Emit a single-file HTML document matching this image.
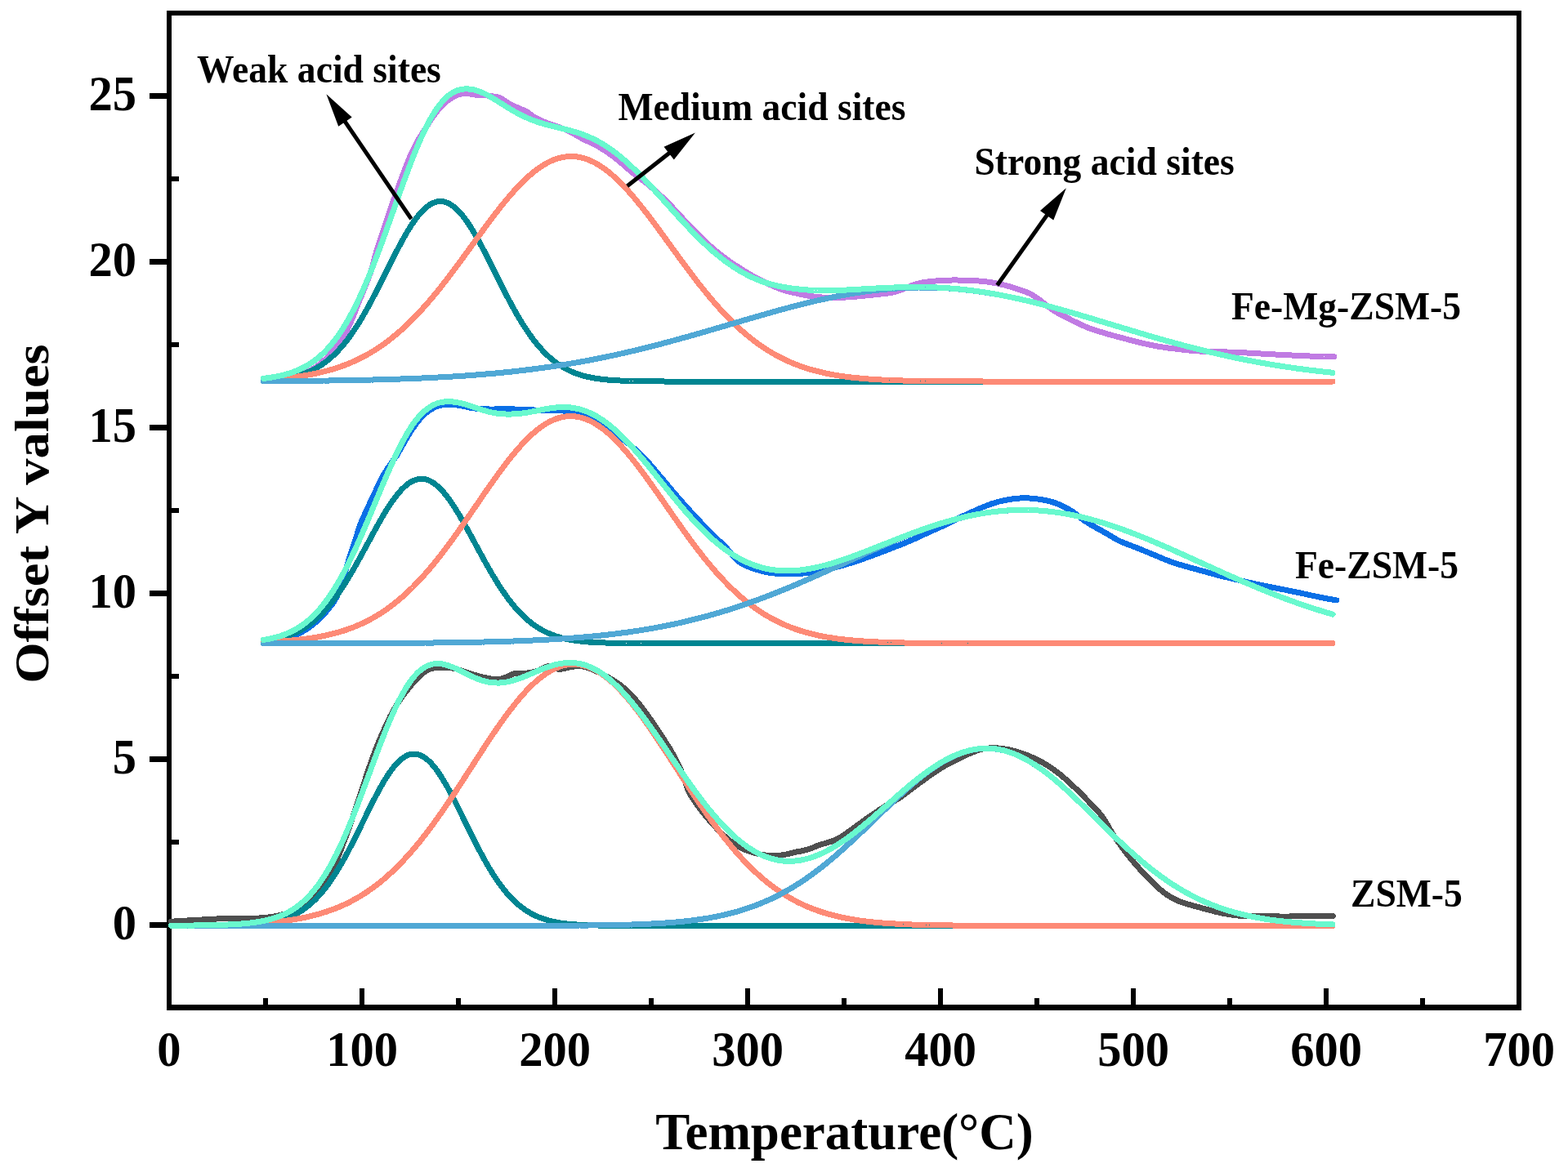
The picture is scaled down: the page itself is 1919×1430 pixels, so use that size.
<!DOCTYPE html><html><head><meta charset="utf-8"><title>TPD</title><style>html,body{margin:0;padding:0;background:#fff;overflow:hidden;}svg{display:block;}</style></head><body>
<svg width="1919" height="1430" viewBox="0 0 1919 1430">
<rect width="1919" height="1430" fill="#fff"/>
<g fill="#000">
<rect x="204" y="13" width="1658" height="6"/>
<rect x="204" y="1230" width="1658" height="7"/>
<rect x="204" y="13" width="6" height="1224"/>
<rect x="1856" y="13" width="6" height="1224"/>
<rect x="183" y="1129" width="21" height="7"/>
<rect x="183" y="926" width="21" height="7"/>
<rect x="183" y="723" width="21" height="7"/>
<rect x="183" y="520" width="21" height="7"/>
<rect x="183" y="317" width="21" height="7"/>
<rect x="183" y="114" width="21" height="7"/>
<rect x="210" y="1028" width="9" height="6"/>
<rect x="210" y="825" width="9" height="6"/>
<rect x="210" y="622" width="9" height="6"/>
<rect x="210" y="419" width="9" height="6"/>
<rect x="210" y="216" width="9" height="6"/>
<rect x="204" y="1210" width="6" height="20"/>
<rect x="440" y="1210" width="6" height="20"/>
<rect x="676" y="1210" width="6" height="20"/>
<rect x="912" y="1210" width="6" height="20"/>
<rect x="1148" y="1210" width="6" height="20"/>
<rect x="1384" y="1210" width="6" height="20"/>
<rect x="1620" y="1210" width="6" height="20"/>
<rect x="1856" y="1210" width="6" height="20"/>
<rect x="322" y="1222" width="6" height="8"/>
<rect x="558" y="1222" width="6" height="8"/>
<rect x="794" y="1222" width="6" height="8"/>
<rect x="1030" y="1222" width="6" height="8"/>
<rect x="1266" y="1222" width="6" height="8"/>
<rect x="1502" y="1222" width="6" height="8"/>
<rect x="1738" y="1222" width="6" height="8"/>
</g>
<g fill="none" stroke-width="7" stroke-linecap="round" stroke-linejoin="round" shape-rendering="crispEdges">
<path d="M209.5,1128.2 L211.5,1128.1 L213.5,1128 L215.5,1127.8 L217.5,1127.7 L219.5,1127.6 L221.5,1127.5 L223.5,1127.4 L225.5,1127.3 L227.5,1127.1 L229.4,1127 L231.4,1126.9 L233.4,1126.8 L235.4,1126.7 L237.4,1126.6 L239.4,1126.5 L241.4,1126.4 L243.4,1126.2 L245.4,1126.1 L247.4,1126 L249.4,1125.9 L251.4,1125.7 L253.4,1125.6 L255.4,1125.5 L257.3,1125.4 L259.3,1125.3 L261.3,1125.2 L263.3,1125.1 L265.3,1125 L267.3,1124.9 L269.3,1124.9 L271.2,1124.8 L273.2,1124.8 L275.2,1124.8 L277.2,1124.8 L279.2,1124.8 L281.2,1124.8 L283.1,1124.8 L285.1,1124.8 L287.1,1124.8 L289.1,1124.8 L291.1,1124.8 L293,1124.8 L295,1124.8 L297,1124.7 L299,1124.7 L300.9,1124.6 L302.9,1124.6 L304.9,1124.5 L306.9,1124.5 L308.8,1124.4 L310.8,1124.3 L312.8,1124.3 L314.8,1124.2 L316.8,1124 L318.7,1123.9 L320.7,1123.8 L322.7,1123.6 L324.7,1123.4 L326.7,1123.2 L328.8,1123 L330.8,1122.7 L332.8,1122.4 L334.9,1122.1 L336.9,1121.8 L339,1121.4 L341.1,1120.9 L343.2,1120.5 L345.3,1119.9 L347.4,1119.3 L349.5,1118.6 L351.6,1117.8 L353.8,1117 L355.9,1116.1 L358,1115.1 L360.2,1114 L362.4,1112.8 L364.5,1111.5 L366.7,1110.2 L368.9,1108.7 L371,1107.2 L373.2,1105.6 L375.4,1103.8 L377.6,1101.9 L379.8,1100 L381.9,1097.9 L384.1,1095.7 L386.3,1093.4 L388.5,1091 L390.7,1088.5 L392.8,1085.9 L395,1083.1 L397.2,1080.2 L399.3,1077.2 L401.4,1074 L403.5,1070.7 L405.5,1067.3 L407.4,1063.7 L409.2,1059.9 L411,1056 L412.7,1052 L414.4,1047.8 L416,1043.5 L417.7,1039.2 L419.3,1034.7 L421.1,1030.1 L422.8,1025.5 L424.5,1020.8 L426.3,1016 L428,1011.1 L429.8,1006.1 L431.5,1001 L433.3,995.9 L435,990.7 L436.8,985.4 L438.6,980.1 L440.3,974.8 L442.1,969.4 L443.9,963.9 L445.6,958.4 L447.4,952.9 L449.2,947.5 L451,942 L452.9,936.5 L454.8,931.1 L456.7,925.7 L458.7,920.3 L460.8,915.1 L462.9,909.9 L465,904.7 L467.2,899.7 L469.4,894.7 L471.6,889.9 L473.8,885.1 L476,880.4 L478.2,875.9 L480.6,871.6 L483,867.4 L485.4,863.4 L487.8,859.5 L490.2,855.8 L492.6,852.3 L495.1,849 L497.6,845.8 L500,842.9 L502.2,840.1 L504.4,837.4 L506.5,834.9 L508.6,832.6 L510.7,830.4 L512.7,828.5 L514.6,826.7 L516.5,825.1 L518.4,823.6 L520.2,822.4 L522,821.3 L523.7,820.3 L525.5,819.5 L527.2,818.9 L528.8,818.4 L530.5,818 L532.2,817.7 L533.8,817.6 L535.5,817.4 L537.2,817.3 L539,817.2 L540.8,817.1 L542.7,817 L544.7,817.1 L546.7,817.1 L548.8,817.3 L550.9,817.6 L553,817.9 L555.2,818.3 L557.3,818.8 L559.5,819.4 L561.6,820.1 L563.7,820.8 L565.9,821.5 L568,822.2 L570.2,822.9 L572.3,823.6 L574.5,824.3 L576.6,825 L578.7,825.6 L580.7,826.3 L582.8,826.9 L584.8,827.4 L586.8,828 L588.8,828.5 L590.8,829 L592.7,829.4 L594.6,829.8 L596.5,830.3 L598.3,830.6 L600.2,830.9 L602,831.2 L603.9,831.4 L605.7,831.5 L607.6,831.6 L609.4,831.5 L611.3,831.4 L613.1,831.1 L614.9,830.7 L616.7,830.1 L618.5,829.4 L620.3,828.6 L622,827.8 L623.8,827 L625.5,826.2 L627.3,825.5 L629.2,824.8 L631.1,824.3 L633.1,824.1 L635.3,824.1 L637.5,824.2 L639.8,824.2 L642.1,824.3 L644.4,824.1 L646.6,823.7 L648.8,823.4 L651,823 L653.2,822.6 L655.3,822.1 L657.4,821.5 L659.5,820.8 L661.5,819.9 L663.4,818.9 L665.3,817.9 L667.2,816.9 L669.2,816 L671.3,815.5 L673.5,815.7 L675.9,816.3 L678.3,817.2 L680.6,818.2 L682.8,819 L684.9,819.4 L686.7,819.3 L688.5,818.9 L690.3,818.5 L692.1,818 L693.9,817.6 L695.7,817.2 L697.5,816.8 L699.3,816.5 L701.2,816.2 L703.1,816 L705,815.8 L706.9,815.7 L708.9,815.6 L710.9,815.7 L712.9,815.9 L714.8,816.3 L716.8,816.7 L718.8,817.3 L720.8,818 L722.8,818.7 L724.8,819.5 L726.8,820.4 L728.8,821.3 L730.9,822.3 L733,823.3 L735.2,824.3 L737.3,825.4 L739.5,826.6 L741.8,827.7 L744,829 L746.3,830.3 L748.6,831.7 L750.9,833.1 L753.3,834.7 L755.6,836.3 L757.9,837.9 L760.2,839.7 L762.5,841.5 L764.8,843.4 L767.1,845.4 L769.3,847.5 L771.5,849.6 L773.7,851.9 L775.8,854.2 L777.9,856.6 L779.9,859.1 L782,861.6 L784,864.2 L786,866.8 L788,869.5 L790,872.2 L792,874.9 L793.9,877.7 L795.9,880.4 L797.9,883.3 L799.8,886.1 L801.8,889 L803.8,891.8 L805.7,894.8 L807.6,897.7 L809.6,900.6 L811.5,903.6 L813.4,906.6 L815.3,909.5 L817.2,912.5 L819.1,915.6 L821,918.6 L822.7,921.7 L824.4,924.9 L826.1,928 L827.7,931.2 L829.3,934.4 L830.8,937.7 L832.4,940.9 L833.9,944.1 L835.4,947.4 L836.7,950.7 L837.8,954.2 L838.8,957.8 L839.8,961.3 L841,964.8 L842.3,968.1 L843.8,971.2 L845.7,974.1 L847.5,976.9 L849.4,979.8 L851.3,982.5 L853.2,985.3 L855.2,988 L857.1,990.7 L859.1,993.3 L861.1,995.8 L863.1,998.4 L865.2,1000.8 L867.2,1003.2 L869.3,1005.6 L871.3,1008 L873.4,1010.2 L875.5,1012.5 L877.6,1014.7 L879.7,1016.8 L881.8,1018.9 L883.9,1021 L886,1023 L888.2,1024.9 L890.3,1026.8 L892.5,1028.6 L894.6,1030.4 L896.8,1032.1 L899,1033.7 L901.3,1035.2 L903.6,1036.5 L906,1037.8 L908.4,1038.9 L910.8,1039.9 L913.2,1040.9 L915.5,1041.7 L917.9,1042.5 L920.3,1043.3 L922.6,1044 L924.9,1044.6 L927.2,1045.2 L929.4,1045.8 L931.6,1046.2 L933.9,1046.6 L936.1,1046.9 L938.2,1047.1 L940.4,1047.3 L942.5,1047.4 L944.6,1047.5 L946.6,1047.5 L948.6,1047.4 L950.6,1047.4 L952.6,1047.3 L954.5,1047.2 L956.4,1047 L958.3,1046.7 L960.1,1046.4 L962,1046 L963.8,1045.6 L965.5,1045.2 L967.3,1044.7 L969,1044.3 L970.8,1043.9 L972.5,1043.5 L974.2,1043.1 L975.9,1042.8 L977.7,1042.5 L979.4,1042.2 L981.2,1041.9 L983,1041.5 L984.7,1041 L986.5,1040.5 L988.3,1040 L990.1,1039.4 L991.9,1038.8 L993.7,1038.2 L995.5,1037.5 L997.4,1036.8 L999.2,1036 L1001.1,1035.2 L1003,1034.5 L1005,1033.9 L1007,1033.3 L1009.1,1032.7 L1011.2,1032.1 L1013.4,1031.5 L1015.5,1030.8 L1017.7,1030.1 L1019.9,1029.3 L1022,1028.5 L1024.2,1027.5 L1026.2,1026.4 L1028.3,1025.2 L1030.3,1023.9 L1032.3,1022.6 L1034.3,1021.3 L1036.3,1019.9 L1038.3,1018.5 L1040.4,1017.1 L1042.4,1015.6 L1044.4,1014.2 L1046.4,1012.7 L1048.4,1011.1 L1050.5,1009.6 L1052.5,1008.1 L1054.6,1006.6 L1056.7,1005.1 L1058.8,1003.5 L1061,1002 L1063.1,1000.5 L1065.3,999 L1067.5,997.5 L1069.7,996 L1071.9,994.5 L1074.1,993 L1076.3,991.5 L1078.6,990 L1080.8,988.5 L1083.1,987.1 L1085.4,985.6 L1087.8,984.3 L1090.2,983 L1092.6,981.7 L1095,980.4 L1097.4,979.1 L1099.7,977.7 L1101.9,976.2 L1104.1,974.6 L1106.2,973 L1108.3,971.5 L1110.4,969.9 L1112.5,968.3 L1114.6,966.8 L1116.7,965.2 L1118.7,963.7 L1120.8,962.1 L1122.8,960.6 L1124.8,959.1 L1126.9,957.6 L1128.9,956.1 L1130.9,954.6 L1132.9,953.1 L1134.8,951.7 L1136.8,950.3 L1138.8,948.9 L1140.8,947.5 L1142.7,946.2 L1144.7,944.9 L1146.7,943.6 L1148.6,942.3 L1150.6,941.1 L1152.5,939.9 L1154.5,938.8 L1156.4,937.6 L1158.4,936.6 L1160.3,935.5 L1162.2,934.5 L1164.1,933.5 L1166.1,932.6 L1168,931.6 L1169.9,930.7 L1171.8,929.8 L1173.6,928.9 L1175.5,928 L1177.3,927.1 L1179.1,926.2 L1180.9,925.3 L1182.8,924.4 L1184.6,923.5 L1186.4,922.7 L1188.3,921.9 L1190.1,921.1 L1192,920.4 L1193.9,919.6 L1195.8,919 L1197.7,918.4 L1199.6,917.8 L1201.6,917.3 L1203.5,916.9 L1205.5,916.6 L1207.5,916.3 L1209.5,916.1 L1211.5,915.9 L1213.5,915.8 L1215.6,915.8 L1217.6,915.8 L1219.7,915.8 L1221.7,916 L1223.8,916.1 L1225.9,916.4 L1228,916.6 L1230.1,917 L1232.2,917.3 L1234.3,917.8 L1236.4,918.2 L1238.5,918.7 L1240.6,919.3 L1242.8,919.9 L1244.9,920.5 L1247.1,921.1 L1249.3,921.8 L1251.4,922.6 L1253.6,923.4 L1255.8,924.2 L1258,925 L1260.3,926 L1262.5,926.9 L1264.7,927.9 L1266.9,928.9 L1269.1,930 L1271.3,931.1 L1273.5,932.3 L1275.8,933.5 L1278,934.8 L1280.2,936.1 L1282.4,937.5 L1284.5,938.9 L1286.7,940.3 L1288.9,941.8 L1291,943.3 L1293.1,944.9 L1295.2,946.5 L1297.3,948.2 L1299.4,949.9 L1301.4,951.6 L1303.5,953.4 L1305.5,955.2 L1307.5,957.1 L1309.6,958.9 L1311.6,960.8 L1313.6,962.7 L1315.6,964.6 L1317.6,966.5 L1319.6,968.4 L1321.6,970.4 L1323.5,972.4 L1325.5,974.4 L1327.5,976.4 L1329.4,978.4 L1331.4,980.4 L1333.3,982.4 L1335.3,984.4 L1337.2,986.5 L1339.2,988.5 L1341.1,990.6 L1343,992.6 L1344.9,994.7 L1346.8,996.9 L1348.5,999.1 L1350.1,1001.4 L1351.7,1003.8 L1353.2,1006.3 L1354.7,1008.8 L1356.2,1011.3 L1357.6,1013.8 L1359.1,1016.3 L1360.5,1018.8 L1362,1021.3 L1363.5,1023.7 L1365.1,1026.1 L1366.7,1028.4 L1368.4,1030.7 L1370,1033 L1371.7,1035.2 L1373.3,1037.5 L1375,1039.7 L1376.6,1041.9 L1378.3,1044.1 L1380,1046.3 L1381.7,1048.5 L1383.4,1050.6 L1385.2,1052.7 L1386.9,1054.8 L1388.6,1056.9 L1390.4,1059 L1392.2,1061 L1394,1063 L1395.8,1065 L1397.6,1066.9 L1399.4,1068.8 L1401.2,1070.8 L1403,1072.7 L1404.8,1074.6 L1406.7,1076.5 L1408.5,1078.3 L1410.3,1080.2 L1412.2,1082 L1414.1,1083.8 L1415.9,1085.5 L1417.8,1087.2 L1419.8,1088.9 L1421.7,1090.5 L1423.7,1092.1 L1425.7,1093.6 L1427.7,1095.1 L1429.8,1096.5 L1431.9,1097.8 L1434,1099.1 L1436.2,1100.2 L1438.4,1101.3 L1440.6,1102.3 L1442.8,1103.3 L1445.1,1104.1 L1447.4,1105 L1449.7,1105.7 L1452,1106.5 L1454.2,1107.2 L1456.5,1107.8 L1458.8,1108.5 L1461.1,1109.1 L1463.4,1109.7 L1465.6,1110.3 L1467.8,1110.9 L1470.1,1111.5 L1472.2,1112.1 L1474.4,1112.7 L1476.6,1113.3 L1478.8,1113.9 L1480.9,1114.5 L1483.1,1115 L1485.2,1115.6 L1487.3,1116.1 L1489.5,1116.6 L1491.6,1117.1 L1493.7,1117.6 L1495.8,1118 L1497.9,1118.5 L1500.1,1118.9 L1502.2,1119.2 L1504.3,1119.6 L1506.4,1119.9 L1508.5,1120.2 L1510.6,1120.5 L1512.7,1120.8 L1514.8,1121 L1516.9,1121.2 L1519,1121.3 L1521.1,1121.4 L1523.2,1121.4 L1525.4,1121.4 L1527.5,1121.3 L1529.6,1121.3 L1531.7,1121.2 L1533.8,1121.1 L1535.8,1121 L1537.9,1121 L1540,1121 L1542,1121 L1544.1,1121 L1546.1,1121.1 L1548.1,1121.2 L1550.1,1121.3 L1552.1,1121.4 L1554.1,1121.5 L1556.1,1121.6 L1558.1,1121.7 L1560.1,1121.7 L1562.2,1121.8 L1564.2,1121.9 L1566.1,1122 L1568.1,1122 L1570.1,1122 L1572.1,1122 L1574.1,1122 L1576.1,1122 L1578.1,1122 L1580.1,1121.9 L1582.1,1121.9 L1584.1,1121.9 L1586.1,1121.8 L1588.1,1121.8 L1590.1,1121.7 L1592.1,1121.7 L1594.1,1121.7 L1596.1,1121.7 L1598.1,1121.7 L1600.1,1121.7 L1602,1121.7 L1604,1121.7 L1606,1121.7 L1608,1121.7 L1610,1121.7 L1612,1121.7 L1614,1121.7 L1615.9,1121.7 L1617.9,1121.7 L1619.9,1121.7 L1621.9,1121.7 L1623.9,1121.7 L1625.9,1121.7 L1627.9,1121.7 L1629.8,1121.6 L1631.3,1121.6" stroke="#4F4F4F"/>
<path d="M209.5,1133.3 L211.5,1133.3 L213.5,1133.3 L215.5,1133.3 L217.5,1133.3 L219.5,1133.3 L221.5,1133.3 L223.5,1133.3 L225.5,1133.3 L227.5,1133.3 L229.5,1133.3 L231.5,1133.3 L233.5,1133.3 L235.5,1133.3 L237.5,1133.3 L239.5,1133.3 L241.5,1133.3 L243.5,1133.3 L245.5,1133.3 L247.5,1133.3 L249.5,1133.3 L251.5,1133.3 L253.5,1133.2 L255.5,1133.2 L257.5,1133.2 L259.5,1133.2 L261.5,1133.2 L263.5,1133.2 L265.5,1133.2 L267.5,1133.2 L269.5,1133.2 L271.5,1133.1 L273.5,1133.1 L275.5,1133.1 L277.5,1133.1 L279.5,1133 L281.5,1133 L283.5,1133 L285.5,1132.9 L287.5,1132.9 L289.5,1132.8 L291.5,1132.8 L293.5,1132.7 L295.5,1132.6 L297.5,1132.6 L299.5,1132.5 L301.5,1132.4 L303.5,1132.3 L305.5,1132.2 L307.5,1132 L309.5,1131.9 L311.5,1131.7 L313.5,1131.6 L315.5,1131.4 L317.5,1131.2 L319.5,1131 L321.5,1130.8 L323.5,1130.5 L325.5,1130.2 L327.5,1129.9 L329.5,1129.6 L331.5,1129.3 L333.5,1128.9 L335.5,1128.5 L337.5,1128 L339.5,1127.6 L341.5,1127 L343.5,1126.5 L345.5,1125.9 L347.5,1125.3 L349.5,1124.6 L351.5,1123.9 L353.5,1123.1 L355.5,1122.2 L357.5,1121.3 L359.5,1120.4 L361.5,1119.4 L363.5,1118.3 L365.5,1117.2 L367.5,1116 L369.5,1114.7 L371.5,1113.3 L373.5,1111.9 L375.5,1110.4 L377.5,1108.8 L379.5,1107.1 L381.5,1105.4 L383.5,1103.5 L385.5,1101.6 L387.5,1099.6 L389.5,1097.5 L391.5,1095.2 L393.5,1092.9 L395.5,1090.5 L397.5,1088 L399.5,1085.4 L401.5,1082.8 L403.5,1080 L405.5,1077.1 L407.5,1074.1 L409.5,1071 L411.5,1067.9 L413.5,1064.6 L415.5,1061.3 L417.5,1057.8 L419.5,1054.3 L421.5,1050.8 L423.5,1047.1 L425.5,1043.4 L427.5,1039.6 L429.5,1035.7 L431.5,1031.8 L433.5,1027.8 L435.5,1023.8 L437.5,1019.8 L439.5,1015.8 L441.5,1011.7 L443.5,1007.6 L445.5,1003.5 L447.5,999.4 L449.5,995.3 L451.5,991.3 L453.5,987.3 L455.5,983.3 L457.5,979.3 L459.5,975.5 L461.5,971.7 L463.5,967.9 L465.5,964.3 L467.5,960.8 L469.5,957.3 L471.5,954 L473.5,950.8 L475.5,947.8 L477.5,944.9 L479.5,942.1 L481.5,939.5 L483.5,937.1 L485.5,934.8 L487.5,932.8 L489.5,930.9 L491.5,929.2 L493.5,927.7 L495.5,926.4 L497.5,925.3 L499.5,924.4 L501.5,923.7 L503.5,923.3 L505.5,923 L507.5,923 L509.5,923.2 L511.5,923.6 L513.5,924.2 L515.5,925.1 L517.5,926.1 L519.5,927.4 L521.5,928.9 L523.5,930.5 L525.5,932.4 L527.5,934.4 L529.5,936.6 L531.5,939 L533.5,941.6 L535.5,944.3 L537.5,947.2 L539.5,950.2 L541.5,953.4 L543.5,956.7 L545.5,960.1 L547.5,963.6 L549.5,967.2 L551.5,970.9 L553.5,974.7 L555.5,978.6 L557.5,982.5 L559.5,986.5 L561.5,990.5 L563.5,994.5 L565.5,998.6 L567.5,1002.7 L569.5,1006.8 L571.5,1010.9 L573.5,1014.9 L575.5,1019 L577.5,1023 L579.5,1027.1 L581.5,1031 L583.5,1034.9 L585.5,1038.8 L587.5,1042.6 L589.5,1046.3 L591.5,1050 L593.5,1053.6 L595.5,1057.1 L597.5,1060.6 L599.5,1064 L601.5,1067.2 L603.5,1070.4 L605.5,1073.5 L607.5,1076.5 L609.5,1079.4 L611.5,1082.2 L613.5,1084.9 L615.5,1087.5 L617.5,1090 L619.5,1092.5 L621.5,1094.8 L623.5,1097 L625.5,1099.2 L627.5,1101.2 L629.5,1103.2 L631.5,1105 L633.5,1106.8 L635.5,1108.5 L637.5,1110.1 L639.5,1111.6 L641.5,1113.1 L643.5,1114.4 L645.5,1115.7 L647.5,1116.9 L649.5,1118.1 L651.5,1119.2 L653.5,1120.2 L655.5,1121.2 L657.5,1122.1 L659.5,1122.9 L661.5,1123.7 L663.5,1124.4 L665.5,1125.1 L667.5,1125.8 L669.5,1126.4 L671.5,1126.9 L673.5,1127.5 L675.5,1127.9 L677.5,1128.4 L679.5,1128.8 L681.5,1129.2 L683.5,1129.6 L685.5,1129.9 L687.5,1130.2 L689.5,1130.5 L691.5,1130.7 L693.5,1131 L695.5,1131.2 L697.5,1131.4 L699.5,1131.5 L701.5,1131.7 L703.5,1131.9 L705.5,1132 L707.5,1132.1 L709.5,1132.2 L711.5,1132.4 L713.5,1132.4 L715.5,1132.5 L717.5,1132.6 L719.5,1132.7 L721.5,1132.7 L723.5,1132.8 L725.5,1132.9 L727.5,1132.9 L729.5,1132.9 L731.5,1133 L733.5,1133 L735.5,1133.1 L737.5,1133.1 L739.5,1133.1 L741.5,1133.1 L743.5,1133.1 L745.5,1133.2 L747.5,1133.2 L749.5,1133.2 L751.5,1133.2 L753.5,1133.2 L755.5,1133.2 L757.5,1133.2 L759.5,1133.2 L761.5,1133.3 L763.5,1133.3 L765.5,1133.3 L767.5,1133.3 L769.5,1133.3 L771.5,1133.3 L773.5,1133.3 L775.5,1133.3 L777.5,1133.3 L779.5,1133.3 L781.5,1133.3 L783.5,1133.3 L785.5,1133.3 L787.5,1133.3 L789.5,1133.3 L791.5,1133.3 L793.5,1133.3 L795.5,1133.3 L797.5,1133.3 L799.5,1133.3 L801.5,1133.3 L803.5,1133.3 L805.5,1133.3 L807.5,1133.3 L809.5,1133.3 L811.5,1133.3 L813.5,1133.3 L815.5,1133.3 L817.5,1133.3 L819.5,1133.3 L821.5,1133.3 L823.5,1133.3 L825.5,1133.3 L827.5,1133.3 L829.5,1133.3 L831.5,1133.3 L833.5,1133.3 L835.5,1133.3 L837.5,1133.3 L839.5,1133.3 L841.5,1133.3 L843.5,1133.3 L845.5,1133.3 L847.5,1133.3 L849.5,1133.3 L851.5,1133.3 L853.5,1133.3 L855.5,1133.3 L857.5,1133.3 L859.5,1133.3 L861.5,1133.3 L863.5,1133.3 L865.5,1133.3 L867.5,1133.3 L869.5,1133.3 L871.5,1133.3 L873.5,1133.3 L875.5,1133.3 L877.5,1133.3 L879.5,1133.3 L881.5,1133.3 L883.5,1133.3 L885.5,1133.3 L887.5,1133.3 L889.5,1133.3 L891.5,1133.3 L893.5,1133.3 L895.5,1133.3 L897.5,1133.3 L899.5,1133.3 L901.5,1133.3 L903.5,1133.3 L905.5,1133.3 L907.5,1133.3 L909.5,1133.3 L911.5,1133.3 L913.5,1133.3 L915.5,1133.3 L917.5,1133.3 L919.5,1133.3 L921.5,1133.3 L923.5,1133.3 L925.5,1133.3 L927.5,1133.3 L929.5,1133.3 L931.5,1133.3 L933.5,1133.3 L935.5,1133.3 L937.5,1133.3 L939.5,1133.3 L941.5,1133.3 L943.5,1133.3 L945.5,1133.3 L947.5,1133.3 L949.5,1133.3 L951.5,1133.3 L953.5,1133.3 L955.5,1133.3 L957.5,1133.3 L959.5,1133.3 L961.5,1133.3 L963.5,1133.3 L965.5,1133.3 L967.5,1133.3 L969.5,1133.3 L971.5,1133.3 L973.5,1133.3 L975.5,1133.3 L977.5,1133.3 L979.5,1133.3 L981.5,1133.3 L983.5,1133.3 L985.5,1133.3 L987.5,1133.3 L989.5,1133.3 L991.5,1133.3 L993.5,1133.3 L995.5,1133.3 L997.5,1133.3 L999.5,1133.3 L1001.5,1133.3 L1003.5,1133.3 L1005.5,1133.3 L1007.5,1133.3 L1009.5,1133.3 L1011.5,1133.3 L1013.5,1133.3 L1015.5,1133.3 L1017.5,1133.3 L1019.5,1133.3 L1021.5,1133.3 L1023.5,1133.3 L1025.5,1133.3 L1027.5,1133.3 L1029.5,1133.3 L1031.5,1133.3 L1033.5,1133.3 L1035.5,1133.3 L1037.5,1133.3 L1039.5,1133.3 L1041.5,1133.3 L1043.5,1133.3 L1045.5,1133.3 L1047.5,1133.3 L1049.5,1133.3 L1051.5,1133.3 L1053.5,1133.3 L1055.5,1133.3 L1057.5,1133.3 L1059.5,1133.3 L1061.5,1133.3 L1063.5,1133.3 L1065.5,1133.3 L1067.5,1133.3 L1069.5,1133.3 L1071.5,1133.3 L1073.5,1133.3 L1075.5,1133.3 L1077.5,1133.3 L1079.5,1133.3 L1081.5,1133.3 L1083.5,1133.3 L1085.5,1133.3 L1087.5,1133.3 L1089.5,1133.3 L1091.5,1133.3 L1093.5,1133.3 L1095.5,1133.3 L1097.5,1133.3 L1099.5,1133.3 L1101.5,1133.3 L1103.5,1133.3 L1105.5,1133.3 L1107.5,1133.3 L1109.5,1133.3 L1111.5,1133.3 L1113.5,1133.3 L1115.5,1133.3 L1117.5,1133.3 L1119.5,1133.3 L1121.5,1133.3 L1123.5,1133.3 L1125.5,1133.3 L1127.5,1133.3 L1129.5,1133.3 L1131.5,1133.3 L1133.5,1133.3 L1135.5,1133.3 L1137.5,1133.3 L1139.5,1133.3 L1141.5,1133.3 L1143.5,1133.3 L1145.5,1133.3 L1147.5,1133.3 L1149.5,1133.3 L1151.5,1133.3 L1153.5,1133.3 L1155.5,1133.3 L1157.5,1133.3 L1159.5,1133.3 L1161.5,1133.3 L1163.5,1133.3 L1165.5,1133.3 L1167.5,1133.3 L1169.5,1133.3 L1171.5,1133.3 L1173.5,1133.3 L1175.5,1133.3 L1177.5,1133.3 L1179.5,1133.3 L1181.5,1133.3 L1183.5,1133.3 L1185.5,1133.3 L1187.5,1133.3 L1189.5,1133.3 L1191.5,1133.3 L1193.5,1133.3 L1195.5,1133.3 L1197.5,1133.3 L1199.5,1133.3 L1201.5,1133.3 L1203.5,1133.3 L1205.5,1133.3 L1207.5,1133.3 L1209.5,1133.3 L1211.5,1133.3 L1213.5,1133.3 L1215.5,1133.3 L1217.5,1133.3 L1219.5,1133.3 L1221.5,1133.3 L1223.5,1133.3 L1225.5,1133.3 L1227.5,1133.3 L1229.5,1133.3 L1231.5,1133.3 L1233.5,1133.3 L1235.5,1133.3 L1237.5,1133.3 L1239.5,1133.3 L1241.5,1133.3 L1243.5,1133.3 L1245.5,1133.3 L1247.5,1133.3 L1249.5,1133.3 L1251.5,1133.3 L1253.5,1133.3 L1255.5,1133.3 L1257.5,1133.3 L1259.5,1133.3 L1261.5,1133.3 L1263.5,1133.3 L1265.5,1133.3 L1267.5,1133.3 L1269.5,1133.3 L1271.5,1133.3 L1273.5,1133.3 L1275.5,1133.3 L1277.5,1133.3 L1279.5,1133.3 L1281.5,1133.3 L1283.5,1133.3 L1285.5,1133.3 L1287.5,1133.3 L1289.5,1133.3 L1291.5,1133.3 L1293.5,1133.3 L1295.5,1133.3 L1297.5,1133.3 L1299.5,1133.3 L1301.5,1133.3 L1303.5,1133.3 L1305.5,1133.3 L1307.5,1133.3 L1309.5,1133.3 L1311.5,1133.3 L1313.5,1133.3 L1315.5,1133.3 L1317.5,1133.3 L1319.5,1133.3 L1321.5,1133.3 L1323.5,1133.3 L1325.5,1133.3 L1327.5,1133.3 L1329.5,1133.3 L1331.5,1133.3 L1333.5,1133.3 L1335.5,1133.3 L1337.5,1133.3 L1339.5,1133.3 L1341.5,1133.3 L1343.5,1133.3 L1345.5,1133.3 L1347.5,1133.3 L1349.5,1133.3 L1351.5,1133.3 L1353.5,1133.3 L1355.5,1133.3 L1357.5,1133.3 L1359.5,1133.3 L1361.5,1133.3 L1363.5,1133.3 L1365.5,1133.3 L1367.5,1133.3 L1369.5,1133.3 L1371.5,1133.3 L1373.5,1133.3 L1375.5,1133.3 L1377.5,1133.3 L1379.5,1133.3 L1381.5,1133.3 L1383.5,1133.3 L1385.5,1133.3 L1387.5,1133.3 L1389.5,1133.3 L1391.5,1133.3 L1393.5,1133.3 L1395.5,1133.3 L1397.5,1133.3 L1399.5,1133.3 L1401.5,1133.3 L1403.5,1133.3 L1405.5,1133.3 L1407.5,1133.3 L1409.5,1133.3 L1411.5,1133.3 L1413.5,1133.3 L1415.5,1133.3 L1417.5,1133.3 L1419.5,1133.3 L1421.5,1133.3 L1423.5,1133.3 L1425.5,1133.3 L1427.5,1133.3 L1429.5,1133.3 L1431.5,1133.3 L1433.5,1133.3 L1435.5,1133.3 L1437.5,1133.3 L1439.5,1133.3 L1441.5,1133.3 L1443.5,1133.3 L1445.5,1133.3 L1447.5,1133.3 L1449.5,1133.3 L1451.5,1133.3 L1453.5,1133.3 L1455.5,1133.3 L1457.5,1133.3 L1459.5,1133.3 L1461.5,1133.3 L1463.5,1133.3 L1465.5,1133.3 L1467.5,1133.3 L1469.5,1133.3 L1471.5,1133.3 L1473.5,1133.3 L1475.5,1133.3 L1477.5,1133.3 L1479.5,1133.3 L1481.5,1133.3 L1483.5,1133.3 L1485.5,1133.3 L1487.5,1133.3 L1489.5,1133.3 L1491.5,1133.3 L1493.5,1133.3 L1495.5,1133.3 L1497.5,1133.3 L1499.5,1133.3 L1501.5,1133.3 L1503.5,1133.3 L1505.5,1133.3 L1507.5,1133.3 L1509.5,1133.3 L1511.5,1133.3 L1513.5,1133.3 L1515.5,1133.3 L1517.5,1133.3 L1519.5,1133.3 L1521.5,1133.3 L1523.5,1133.3 L1525.5,1133.3 L1527.5,1133.3 L1529.5,1133.3 L1531.5,1133.3 L1533.5,1133.3 L1535.5,1133.3 L1537.5,1133.3 L1539.5,1133.3 L1541.5,1133.3 L1543.5,1133.3 L1545.5,1133.3 L1547.5,1133.3 L1549.5,1133.3 L1551.5,1133.3 L1553.5,1133.3 L1555.5,1133.3 L1557.5,1133.3 L1559.5,1133.3 L1561.5,1133.3 L1563.5,1133.3 L1565.5,1133.3 L1567.5,1133.3 L1569.5,1133.3 L1571.5,1133.3 L1573.5,1133.3 L1575.5,1133.3 L1577.5,1133.3 L1579.5,1133.3 L1581.5,1133.3 L1583.5,1133.3 L1585.5,1133.3 L1587.5,1133.3 L1589.5,1133.3 L1591.5,1133.3 L1593.5,1133.3 L1595.5,1133.3 L1597.5,1133.3 L1599.5,1133.3 L1601.5,1133.3 L1603.5,1133.3 L1605.5,1133.3 L1607.5,1133.3 L1609.5,1133.3 L1611.5,1133.3 L1613.5,1133.3 L1615.5,1133.3 L1617.5,1133.3 L1619.5,1133.3 L1621.5,1133.3 L1623.5,1133.3 L1625.5,1133.3 L1627.5,1133.3 L1629.5,1133.3 L1631,1133.3" stroke="#008591"/>
<path d="M209.5,1133.2 L211.5,1133.2 L213.5,1133.1 L215.5,1133.1 L217.5,1133.1 L219.5,1133.1 L221.5,1133.1 L223.5,1133.1 L225.5,1133.1 L227.5,1133.1 L229.5,1133 L231.5,1133 L233.5,1133 L235.5,1133 L237.5,1133 L239.5,1133 L241.5,1132.9 L243.5,1132.9 L245.5,1132.9 L247.5,1132.9 L249.5,1132.8 L251.5,1132.8 L253.5,1132.8 L255.5,1132.8 L257.5,1132.7 L259.5,1132.7 L261.5,1132.7 L263.5,1132.6 L265.5,1132.6 L267.5,1132.5 L269.5,1132.5 L271.5,1132.4 L273.5,1132.4 L275.5,1132.4 L277.5,1132.3 L279.5,1132.2 L281.5,1132.2 L283.5,1132.1 L285.5,1132.1 L287.5,1132 L289.5,1131.9 L291.5,1131.8 L293.5,1131.8 L295.5,1131.7 L297.5,1131.6 L299.5,1131.5 L301.5,1131.4 L303.5,1131.3 L305.5,1131.2 L307.5,1131.1 L309.5,1131 L311.5,1130.9 L313.5,1130.7 L315.5,1130.6 L317.5,1130.5 L319.5,1130.3 L321.5,1130.2 L323.5,1130 L325.5,1129.9 L327.5,1129.7 L329.5,1129.5 L331.5,1129.3 L333.5,1129.2 L335.5,1129 L337.5,1128.7 L339.5,1128.5 L341.5,1128.3 L343.5,1128.1 L345.5,1127.8 L347.5,1127.6 L349.5,1127.3 L351.5,1127 L353.5,1126.7 L355.5,1126.4 L357.5,1126.1 L359.5,1125.8 L361.5,1125.5 L363.5,1125.1 L365.5,1124.8 L367.5,1124.4 L369.5,1124 L371.5,1123.6 L373.5,1123.2 L375.5,1122.7 L377.5,1122.3 L379.5,1121.8 L381.5,1121.3 L383.5,1120.8 L385.5,1120.3 L387.5,1119.8 L389.5,1119.2 L391.5,1118.7 L393.5,1118.1 L395.5,1117.5 L397.5,1116.8 L399.5,1116.2 L401.5,1115.5 L403.5,1114.8 L405.5,1114.1 L407.5,1113.4 L409.5,1112.6 L411.5,1111.8 L413.5,1111 L415.5,1110.2 L417.5,1109.3 L419.5,1108.4 L421.5,1107.5 L423.5,1106.6 L425.5,1105.6 L427.5,1104.6 L429.5,1103.6 L431.5,1102.5 L433.5,1101.4 L435.5,1100.3 L437.5,1099.2 L439.5,1098 L441.5,1096.8 L443.5,1095.6 L445.5,1094.3 L447.5,1093 L449.5,1091.7 L451.5,1090.3 L453.5,1088.9 L455.5,1087.5 L457.5,1086.1 L459.5,1084.6 L461.5,1083 L463.5,1081.5 L465.5,1079.9 L467.5,1078.2 L469.5,1076.6 L471.5,1074.9 L473.5,1073.1 L475.5,1071.3 L477.5,1069.5 L479.5,1067.7 L481.5,1065.8 L483.5,1063.9 L485.5,1061.9 L487.5,1059.9 L489.5,1057.9 L491.5,1055.8 L493.5,1053.7 L495.5,1051.5 L497.5,1049.4 L499.5,1047.1 L501.5,1044.9 L503.5,1042.6 L505.5,1040.3 L507.5,1037.9 L509.5,1035.5 L511.5,1033.1 L513.5,1030.7 L515.5,1028.2 L517.5,1025.6 L519.5,1023.1 L521.5,1020.5 L523.5,1017.9 L525.5,1015.2 L527.5,1012.5 L529.5,1009.8 L531.5,1007.1 L533.5,1004.3 L535.5,1001.5 L537.5,998.7 L539.5,995.8 L541.5,993 L543.5,990.1 L545.5,987.2 L547.5,984.2 L549.5,981.3 L551.5,978.3 L553.5,975.3 L555.5,972.3 L557.5,969.3 L559.5,966.2 L561.5,963.2 L563.5,960.1 L565.5,957 L567.5,953.9 L569.5,950.8 L571.5,947.7 L573.5,944.6 L575.5,941.5 L577.5,938.4 L579.5,935.3 L581.5,932.2 L583.5,929.1 L585.5,926 L587.5,922.9 L589.5,919.9 L591.5,916.8 L593.5,913.7 L595.5,910.7 L597.5,907.7 L599.5,904.7 L601.5,901.7 L603.5,898.7 L605.5,895.8 L607.5,892.8 L609.5,889.9 L611.5,887.1 L613.5,884.2 L615.5,881.4 L617.5,878.7 L619.5,875.9 L621.5,873.2 L623.5,870.6 L625.5,868 L627.5,865.4 L629.5,862.8 L631.5,860.4 L633.5,857.9 L635.5,855.5 L637.5,853.2 L639.5,850.9 L641.5,848.7 L643.5,846.5 L645.5,844.4 L647.5,842.3 L649.5,840.3 L651.5,838.4 L653.5,836.5 L655.5,834.7 L657.5,832.9 L659.5,831.3 L661.5,829.7 L663.5,828.1 L665.5,826.7 L667.5,825.3 L669.5,823.9 L671.5,822.7 L673.5,821.5 L675.5,820.4 L677.5,819.4 L679.5,818.4 L681.5,817.6 L683.5,816.8 L685.5,816.1 L687.5,815.4 L689.5,814.9 L691.5,814.4 L693.5,814 L695.5,813.7 L697.5,813.5 L699.5,813.4 L701.5,813.3 L703.5,813.3 L705.5,813.4 L707.5,813.6 L709.5,813.9 L711.5,814.2 L713.5,814.7 L715.5,815.2 L717.5,815.8 L719.5,816.4 L721.5,817.2 L723.5,818 L725.5,818.9 L727.5,819.9 L729.5,821 L731.5,822.1 L733.5,823.3 L735.5,824.6 L737.5,825.9 L739.5,827.4 L741.5,828.9 L743.5,830.5 L745.5,832.1 L747.5,833.8 L749.5,835.6 L751.5,837.4 L753.5,839.3 L755.5,841.3 L757.5,843.3 L759.5,845.4 L761.5,847.6 L763.5,849.8 L765.5,852 L767.5,854.3 L769.5,856.7 L771.5,859.1 L773.5,861.6 L775.5,864.1 L777.5,866.7 L779.5,869.3 L781.5,871.9 L783.5,874.6 L785.5,877.3 L787.5,880 L789.5,882.8 L791.5,885.7 L793.5,888.5 L795.5,891.4 L797.5,894.3 L799.5,897.2 L801.5,900.2 L803.5,903.2 L805.5,906.2 L807.5,909.2 L809.5,912.2 L811.5,915.3 L813.5,918.3 L815.5,921.4 L817.5,924.5 L819.5,927.6 L821.5,930.7 L823.5,933.8 L825.5,936.9 L827.5,940 L829.5,943.1 L831.5,946.2 L833.5,949.3 L835.5,952.4 L837.5,955.5 L839.5,958.6 L841.5,961.6 L843.5,964.7 L845.5,967.7 L847.5,970.8 L849.5,973.8 L851.5,976.8 L853.5,979.8 L855.5,982.7 L857.5,985.7 L859.5,988.6 L861.5,991.5 L863.5,994.4 L865.5,997.3 L867.5,1000.1 L869.5,1002.9 L871.5,1005.7 L873.5,1008.4 L875.5,1011.2 L877.5,1013.9 L879.5,1016.5 L881.5,1019.2 L883.5,1021.8 L885.5,1024.4 L887.5,1026.9 L889.5,1029.4 L891.5,1031.9 L893.5,1034.3 L895.5,1036.7 L897.5,1039.1 L899.5,1041.5 L901.5,1043.8 L903.5,1046 L905.5,1048.3 L907.5,1050.5 L909.5,1052.6 L911.5,1054.7 L913.5,1056.8 L915.5,1058.9 L917.5,1060.9 L919.5,1062.9 L921.5,1064.8 L923.5,1066.7 L925.5,1068.6 L927.5,1070.4 L929.5,1072.2 L931.5,1074 L933.5,1075.7 L935.5,1077.4 L937.5,1079.1 L939.5,1080.7 L941.5,1082.3 L943.5,1083.8 L945.5,1085.3 L947.5,1086.8 L949.5,1088.2 L951.5,1089.6 L953.5,1091 L955.5,1092.4 L957.5,1093.7 L959.5,1095 L961.5,1096.2 L963.5,1097.4 L965.5,1098.6 L967.5,1099.8 L969.5,1100.9 L971.5,1102 L973.5,1103 L975.5,1104.1 L977.5,1105.1 L979.5,1106.1 L981.5,1107 L983.5,1108 L985.5,1108.9 L987.5,1109.7 L989.5,1110.6 L991.5,1111.4 L993.5,1112.2 L995.5,1113 L997.5,1113.7 L999.5,1114.5 L1001.5,1115.2 L1003.5,1115.8 L1005.5,1116.5 L1007.5,1117.2 L1009.5,1117.8 L1011.5,1118.4 L1013.5,1119 L1015.5,1119.5 L1017.5,1120.1 L1019.5,1120.6 L1021.5,1121.1 L1023.5,1121.6 L1025.5,1122.1 L1027.5,1122.5 L1029.5,1123 L1031.5,1123.4 L1033.5,1123.8 L1035.5,1124.2 L1037.5,1124.6 L1039.5,1124.9 L1041.5,1125.3 L1043.5,1125.6 L1045.5,1126 L1047.5,1126.3 L1049.5,1126.6 L1051.5,1126.9 L1053.5,1127.2 L1055.5,1127.4 L1057.5,1127.7 L1059.5,1127.9 L1061.5,1128.2 L1063.5,1128.4 L1065.5,1128.6 L1067.5,1128.8 L1069.5,1129.1 L1071.5,1129.2 L1073.5,1129.4 L1075.5,1129.6 L1077.5,1129.8 L1079.5,1130 L1081.5,1130.1 L1083.5,1130.3 L1085.5,1130.4 L1087.5,1130.5 L1089.5,1130.7 L1091.5,1130.8 L1093.5,1130.9 L1095.5,1131 L1097.5,1131.2 L1099.5,1131.3 L1101.5,1131.4 L1103.5,1131.5 L1105.5,1131.6 L1107.5,1131.6 L1109.5,1131.7 L1111.5,1131.8 L1113.5,1131.9 L1115.5,1132 L1117.5,1132 L1119.5,1132.1 L1121.5,1132.2 L1123.5,1132.2 L1125.5,1132.3 L1127.5,1132.3 L1129.5,1132.4 L1131.5,1132.4 L1133.5,1132.5 L1135.5,1132.5 L1137.5,1132.6 L1139.5,1132.6 L1141.5,1132.6 L1143.5,1132.7 L1145.5,1132.7 L1147.5,1132.7 L1149.5,1132.8 L1151.5,1132.8 L1153.5,1132.8 L1155.5,1132.9 L1157.5,1132.9 L1159.5,1132.9 L1161.5,1132.9 L1163.5,1132.9 L1165.5,1133 L1167.5,1133 L1169.5,1133 L1171.5,1133 L1173.5,1133 L1175.5,1133.1 L1177.5,1133.1 L1179.5,1133.1 L1181.5,1133.1 L1183.5,1133.1 L1185.5,1133.1 L1187.5,1133.1 L1189.5,1133.1 L1191.5,1133.2 L1193.5,1133.2 L1195.5,1133.2 L1197.5,1133.2 L1199.5,1133.2 L1201.5,1133.2 L1203.5,1133.2 L1205.5,1133.2 L1207.5,1133.2 L1209.5,1133.2 L1211.5,1133.2 L1213.5,1133.2 L1215.5,1133.2 L1217.5,1133.2 L1219.5,1133.2 L1221.5,1133.2 L1223.5,1133.2 L1225.5,1133.3 L1227.5,1133.3 L1229.5,1133.3 L1231.5,1133.3 L1233.5,1133.3 L1235.5,1133.3 L1237.5,1133.3 L1239.5,1133.3 L1241.5,1133.3 L1243.5,1133.3 L1245.5,1133.3 L1247.5,1133.3 L1249.5,1133.3 L1251.5,1133.3 L1253.5,1133.3 L1255.5,1133.3 L1257.5,1133.3 L1259.5,1133.3 L1261.5,1133.3 L1263.5,1133.3 L1265.5,1133.3 L1267.5,1133.3 L1269.5,1133.3 L1271.5,1133.3 L1273.5,1133.3 L1275.5,1133.3 L1277.5,1133.3 L1279.5,1133.3 L1281.5,1133.3 L1283.5,1133.3 L1285.5,1133.3 L1287.5,1133.3 L1289.5,1133.3 L1291.5,1133.3 L1293.5,1133.3 L1295.5,1133.3 L1297.5,1133.3 L1299.5,1133.3 L1301.5,1133.3 L1303.5,1133.3 L1305.5,1133.3 L1307.5,1133.3 L1309.5,1133.3 L1311.5,1133.3 L1313.5,1133.3 L1315.5,1133.3 L1317.5,1133.3 L1319.5,1133.3 L1321.5,1133.3 L1323.5,1133.3 L1325.5,1133.3 L1327.5,1133.3 L1329.5,1133.3 L1331.5,1133.3 L1333.5,1133.3 L1335.5,1133.3 L1337.5,1133.3 L1339.5,1133.3 L1341.5,1133.3 L1343.5,1133.3 L1345.5,1133.3 L1347.5,1133.3 L1349.5,1133.3 L1351.5,1133.3 L1353.5,1133.3 L1355.5,1133.3 L1357.5,1133.3 L1359.5,1133.3 L1361.5,1133.3 L1363.5,1133.3 L1365.5,1133.3 L1367.5,1133.3 L1369.5,1133.3 L1371.5,1133.3 L1373.5,1133.3 L1375.5,1133.3 L1377.5,1133.3 L1379.5,1133.3 L1381.5,1133.3 L1383.5,1133.3 L1385.5,1133.3 L1387.5,1133.3 L1389.5,1133.3 L1391.5,1133.3 L1393.5,1133.3 L1395.5,1133.3 L1397.5,1133.3 L1399.5,1133.3 L1401.5,1133.3 L1403.5,1133.3 L1405.5,1133.3 L1407.5,1133.3 L1409.5,1133.3 L1411.5,1133.3 L1413.5,1133.3 L1415.5,1133.3 L1417.5,1133.3 L1419.5,1133.3 L1421.5,1133.3 L1423.5,1133.3 L1425.5,1133.3 L1427.5,1133.3 L1429.5,1133.3 L1431.5,1133.3 L1433.5,1133.3 L1435.5,1133.3 L1437.5,1133.3 L1439.5,1133.3 L1441.5,1133.3 L1443.5,1133.3 L1445.5,1133.3 L1447.5,1133.3 L1449.5,1133.3 L1451.5,1133.3 L1453.5,1133.3 L1455.5,1133.3 L1457.5,1133.3 L1459.5,1133.3 L1461.5,1133.3 L1463.5,1133.3 L1465.5,1133.3 L1467.5,1133.3 L1469.5,1133.3 L1471.5,1133.3 L1473.5,1133.3 L1475.5,1133.3 L1477.5,1133.3 L1479.5,1133.3 L1481.5,1133.3 L1483.5,1133.3 L1485.5,1133.3 L1487.5,1133.3 L1489.5,1133.3 L1491.5,1133.3 L1493.5,1133.3 L1495.5,1133.3 L1497.5,1133.3 L1499.5,1133.3 L1501.5,1133.3 L1503.5,1133.3 L1505.5,1133.3 L1507.5,1133.3 L1509.5,1133.3 L1511.5,1133.3 L1513.5,1133.3 L1515.5,1133.3 L1517.5,1133.3 L1519.5,1133.3 L1521.5,1133.3 L1523.5,1133.3 L1525.5,1133.3 L1527.5,1133.3 L1529.5,1133.3 L1531.5,1133.3 L1533.5,1133.3 L1535.5,1133.3 L1537.5,1133.3 L1539.5,1133.3 L1541.5,1133.3 L1543.5,1133.3 L1545.5,1133.3 L1547.5,1133.3 L1549.5,1133.3 L1551.5,1133.3 L1553.5,1133.3 L1555.5,1133.3 L1557.5,1133.3 L1559.5,1133.3 L1561.5,1133.3 L1563.5,1133.3 L1565.5,1133.3 L1567.5,1133.3 L1569.5,1133.3 L1571.5,1133.3 L1573.5,1133.3 L1575.5,1133.3 L1577.5,1133.3 L1579.5,1133.3 L1581.5,1133.3 L1583.5,1133.3 L1585.5,1133.3 L1587.5,1133.3 L1589.5,1133.3 L1591.5,1133.3 L1593.5,1133.3 L1595.5,1133.3 L1597.5,1133.3 L1599.5,1133.3 L1601.5,1133.3 L1603.5,1133.3 L1605.5,1133.3 L1607.5,1133.3 L1609.5,1133.3 L1611.5,1133.3 L1613.5,1133.3 L1615.5,1133.3 L1617.5,1133.3 L1619.5,1133.3 L1621.5,1133.3 L1623.5,1133.3 L1625.5,1133.3 L1627.5,1133.3 L1629.5,1133.3 L1631,1133.3" stroke="#FD8A76"/>
<path d="M209.5,1133.3 L211.5,1133.3 L213.5,1133.3 L215.5,1133.3 L217.5,1133.3 L219.5,1133.3 L221.5,1133.3 L223.5,1133.3 L225.5,1133.3 L227.5,1133.3 L229.5,1133.3 L231.5,1133.3 L233.5,1133.3 L235.5,1133.3 L237.5,1133.3 L239.5,1133.3 L241.5,1133.3 L243.5,1133.3 L245.5,1133.3 L247.5,1133.3 L249.5,1133.3 L251.5,1133.3 L253.5,1133.3 L255.5,1133.3 L257.5,1133.3 L259.5,1133.3 L261.5,1133.3 L263.5,1133.3 L265.5,1133.3 L267.5,1133.3 L269.5,1133.3 L271.5,1133.3 L273.5,1133.3 L275.5,1133.3 L277.5,1133.3 L279.5,1133.3 L281.5,1133.3 L283.5,1133.3 L285.5,1133.3 L287.5,1133.3 L289.5,1133.3 L291.5,1133.3 L293.5,1133.3 L295.5,1133.3 L297.5,1133.3 L299.5,1133.3 L301.5,1133.3 L303.5,1133.3 L305.5,1133.3 L307.5,1133.3 L309.5,1133.3 L311.5,1133.3 L313.5,1133.3 L315.5,1133.3 L317.5,1133.3 L319.5,1133.3 L321.5,1133.3 L323.5,1133.3 L325.5,1133.3 L327.5,1133.3 L329.5,1133.3 L331.5,1133.3 L333.5,1133.3 L335.5,1133.3 L337.5,1133.3 L339.5,1133.3 L341.5,1133.3 L343.5,1133.3 L345.5,1133.3 L347.5,1133.3 L349.5,1133.3 L351.5,1133.3 L353.5,1133.3 L355.5,1133.3 L357.5,1133.3 L359.5,1133.3 L361.5,1133.3 L363.5,1133.3 L365.5,1133.3 L367.5,1133.3 L369.5,1133.3 L371.5,1133.3 L373.5,1133.3 L375.5,1133.3 L377.5,1133.3 L379.5,1133.3 L381.5,1133.3 L383.5,1133.3 L385.5,1133.3 L387.5,1133.3 L389.5,1133.3 L391.5,1133.3 L393.5,1133.3 L395.5,1133.3 L397.5,1133.3 L399.5,1133.3 L401.5,1133.3 L403.5,1133.3 L405.5,1133.3 L407.5,1133.3 L409.5,1133.3 L411.5,1133.3 L413.5,1133.3 L415.5,1133.3 L417.5,1133.3 L419.5,1133.3 L421.5,1133.3 L423.5,1133.3 L425.5,1133.3 L427.5,1133.3 L429.5,1133.3 L431.5,1133.3 L433.5,1133.3 L435.5,1133.3 L437.5,1133.3 L439.5,1133.3 L441.5,1133.3 L443.5,1133.3 L445.5,1133.3 L447.5,1133.3 L449.5,1133.3 L451.5,1133.3 L453.5,1133.3 L455.5,1133.3 L457.5,1133.3 L459.5,1133.3 L461.5,1133.3 L463.5,1133.3 L465.5,1133.3 L467.5,1133.3 L469.5,1133.3 L471.5,1133.3 L473.5,1133.3 L475.5,1133.3 L477.5,1133.3 L479.5,1133.3 L481.5,1133.3 L483.5,1133.3 L485.5,1133.3 L487.5,1133.3 L489.5,1133.3 L491.5,1133.3 L493.5,1133.3 L495.5,1133.3 L497.5,1133.3 L499.5,1133.3 L501.5,1133.3 L503.5,1133.3 L505.5,1133.3 L507.5,1133.3 L509.5,1133.3 L511.5,1133.3 L513.5,1133.3 L515.5,1133.3 L517.5,1133.3 L519.5,1133.3 L521.5,1133.3 L523.5,1133.3 L525.5,1133.3 L527.5,1133.3 L529.5,1133.3 L531.5,1133.3 L533.5,1133.3 L535.5,1133.3 L537.5,1133.3 L539.5,1133.3 L541.5,1133.3 L543.5,1133.3 L545.5,1133.3 L547.5,1133.3 L549.5,1133.3 L551.5,1133.3 L553.5,1133.3 L555.5,1133.3 L557.5,1133.3 L559.5,1133.3 L561.5,1133.3 L563.5,1133.3 L565.5,1133.3 L567.5,1133.3 L569.5,1133.3 L571.5,1133.3 L573.5,1133.3 L575.5,1133.3 L577.5,1133.3 L579.5,1133.3 L581.5,1133.3 L583.5,1133.3 L585.5,1133.3 L587.5,1133.3 L589.5,1133.3 L591.5,1133.3 L593.5,1133.3 L595.5,1133.3 L597.5,1133.3 L599.5,1133.3 L601.5,1133.3 L603.5,1133.3 L605.5,1133.3 L607.5,1133.3 L609.5,1133.3 L611.5,1133.3 L613.5,1133.3 L615.5,1133.3 L617.5,1133.3 L619.5,1133.3 L621.5,1133.3 L623.5,1133.3 L625.5,1133.3 L627.5,1133.3 L629.5,1133.3 L631.5,1133.3 L633.5,1133.3 L635.5,1133.3 L637.5,1133.3 L639.5,1133.3 L641.5,1133.3 L643.5,1133.3 L645.5,1133.3 L647.5,1133.3 L649.5,1133.3 L651.5,1133.2 L653.5,1133.2 L655.5,1133.2 L657.5,1133.2 L659.5,1133.2 L661.5,1133.2 L663.5,1133.2 L665.5,1133.2 L667.5,1133.2 L669.5,1133.2 L671.5,1133.2 L673.5,1133.2 L675.5,1133.2 L677.5,1133.2 L679.5,1133.2 L681.5,1133.2 L683.5,1133.2 L685.5,1133.2 L687.5,1133.2 L689.5,1133.1 L691.5,1133.1 L693.5,1133.1 L695.5,1133.1 L697.5,1133.1 L699.5,1133.1 L701.5,1133.1 L703.5,1133.1 L705.5,1133.1 L707.5,1133.1 L709.5,1133 L711.5,1133 L713.5,1133 L715.5,1133 L717.5,1133 L719.5,1133 L721.5,1132.9 L723.5,1132.9 L725.5,1132.9 L727.5,1132.9 L729.5,1132.9 L731.5,1132.8 L733.5,1132.8 L735.5,1132.8 L737.5,1132.8 L739.5,1132.7 L741.5,1132.7 L743.5,1132.7 L745.5,1132.6 L747.5,1132.6 L749.5,1132.6 L751.5,1132.5 L753.5,1132.5 L755.5,1132.4 L757.5,1132.4 L759.5,1132.4 L761.5,1132.3 L763.5,1132.3 L765.5,1132.2 L767.5,1132.2 L769.5,1132.1 L771.5,1132 L773.5,1132 L775.5,1131.9 L777.5,1131.9 L779.5,1131.8 L781.5,1131.7 L783.5,1131.6 L785.5,1131.6 L787.5,1131.5 L789.5,1131.4 L791.5,1131.3 L793.5,1131.2 L795.5,1131.1 L797.5,1131 L799.5,1130.9 L801.5,1130.8 L803.5,1130.7 L805.5,1130.6 L807.5,1130.5 L809.5,1130.3 L811.5,1130.2 L813.5,1130.1 L815.5,1129.9 L817.5,1129.8 L819.5,1129.6 L821.5,1129.5 L823.5,1129.3 L825.5,1129.1 L827.5,1129 L829.5,1128.8 L831.5,1128.6 L833.5,1128.4 L835.5,1128.2 L837.5,1128 L839.5,1127.8 L841.5,1127.6 L843.5,1127.3 L845.5,1127.1 L847.5,1126.8 L849.5,1126.6 L851.5,1126.3 L853.5,1126 L855.5,1125.8 L857.5,1125.5 L859.5,1125.2 L861.5,1124.8 L863.5,1124.5 L865.5,1124.2 L867.5,1123.9 L869.5,1123.5 L871.5,1123.1 L873.5,1122.8 L875.5,1122.4 L877.5,1122 L879.5,1121.6 L881.5,1121.1 L883.5,1120.7 L885.5,1120.3 L887.5,1119.8 L889.5,1119.3 L891.5,1118.8 L893.5,1118.3 L895.5,1117.8 L897.5,1117.3 L899.5,1116.7 L901.5,1116.2 L903.5,1115.6 L905.5,1115 L907.5,1114.4 L909.5,1113.8 L911.5,1113.1 L913.5,1112.5 L915.5,1111.8 L917.5,1111.1 L919.5,1110.4 L921.5,1109.7 L923.5,1109 L925.5,1108.2 L927.5,1107.4 L929.5,1106.6 L931.5,1105.8 L933.5,1105 L935.5,1104.1 L937.5,1103.3 L939.5,1102.4 L941.5,1101.5 L943.5,1100.6 L945.5,1099.6 L947.5,1098.6 L949.5,1097.7 L951.5,1096.7 L953.5,1095.6 L955.5,1094.6 L957.5,1093.5 L959.5,1092.4 L961.5,1091.3 L963.5,1090.2 L965.5,1089 L967.5,1087.9 L969.5,1086.7 L971.5,1085.5 L973.5,1084.2 L975.5,1083 L977.5,1081.7 L979.5,1080.4 L981.5,1079.1 L983.5,1077.7 L985.5,1076.4 L987.5,1075 L989.5,1073.6 L991.5,1072.2 L993.5,1070.7 L995.5,1069.3 L997.5,1067.8 L999.5,1066.3 L1001.5,1064.8 L1003.5,1063.2 L1005.5,1061.7 L1007.5,1060.1 L1009.5,1058.5 L1011.5,1056.9 L1013.5,1055.3 L1015.5,1053.6 L1017.5,1051.9 L1019.5,1050.3 L1021.5,1048.6 L1023.5,1046.8 L1025.5,1045.1 L1027.5,1043.4 L1029.5,1041.6 L1031.5,1039.8 L1033.5,1038 L1035.5,1036.2 L1037.5,1034.4 L1039.5,1032.6 L1041.5,1030.7 L1043.5,1028.9 L1045.5,1027 L1047.5,1025.1 L1049.5,1023.3 L1051.5,1021.4 L1053.5,1019.5 L1055.5,1017.6 L1057.5,1015.7 L1059.5,1013.7 L1061.5,1011.8 L1063.5,1009.9 L1065.5,1008 L1067.5,1006 L1069.5,1004.1 L1071.5,1002.2 L1073.5,1000.2 L1075.5,998.3 L1077.5,996.4 L1079.5,994.4 L1081.5,992.5 L1083.5,990.6 L1085.5,988.7 L1087.5,986.7 L1089.5,984.8 L1091.5,982.9 L1093.5,981.1 L1095.5,979.2 L1097.5,977.3 L1099.5,975.4 L1101.5,973.6 L1103.5,971.8 L1105.5,970 L1107.5,968.1 L1109.5,966.4 L1111.5,964.6 L1113.5,962.8 L1115.5,961.1 L1117.5,959.4 L1119.5,957.7 L1121.5,956 L1123.5,954.4 L1125.5,952.8 L1127.5,951.2 L1129.5,949.6 L1131.5,948.1 L1133.5,946.5 L1135.5,945 L1137.5,943.6 L1139.5,942.2 L1141.5,940.8 L1143.5,939.4 L1145.5,938 L1147.5,936.7 L1149.5,935.5 L1151.5,934.2 L1153.5,933 L1155.5,931.9 L1157.5,930.8 L1159.5,929.7 L1161.5,928.6 L1163.5,927.6 L1165.5,926.6 L1167.5,925.7 L1169.5,924.8 L1171.5,924 L1173.5,923.2 L1175.5,922.4 L1177.5,921.7 L1179.5,921 L1181.5,920.4 L1183.5,919.8 L1185.5,919.2 L1187.5,918.8 L1189.5,918.3 L1191.5,917.9 L1193.5,917.5 L1195.5,917.2 L1197.5,916.9 L1199.5,916.7 L1201.5,916.5 L1203.5,916.4 L1205.5,916.3 L1207.5,916.3 L1209.5,916.3 L1211.5,916.4 L1213.5,916.5 L1215.5,916.6 L1217.5,916.9 L1219.5,917.1 L1221.5,917.4 L1223.5,917.8 L1225.5,918.2 L1227.5,918.6 L1229.5,919.1 L1231.5,919.7 L1233.5,920.3 L1235.5,920.9 L1237.5,921.6 L1239.5,922.3 L1241.5,923.1 L1243.5,923.9 L1245.5,924.8 L1247.5,925.7 L1249.5,926.6 L1251.5,927.6 L1253.5,928.6 L1255.5,929.7 L1257.5,930.8 L1259.5,932 L1261.5,933.2 L1263.5,934.4 L1265.5,935.7 L1267.5,937 L1269.5,938.3 L1271.5,939.7 L1273.5,941.1 L1275.5,942.5 L1277.5,944 L1279.5,945.5 L1281.5,947 L1283.5,948.6 L1285.5,950.2 L1287.5,951.8 L1289.5,953.4 L1291.5,955.1 L1293.5,956.8 L1295.5,958.5 L1297.5,960.3 L1299.5,962 L1301.5,963.8 L1303.5,965.6 L1305.5,967.4 L1307.5,969.3 L1309.5,971.1 L1311.5,973 L1313.5,974.9 L1315.5,976.8 L1317.5,978.7 L1319.5,980.6 L1321.5,982.5 L1323.5,984.5 L1325.5,986.4 L1327.5,988.4 L1329.5,990.3 L1331.5,992.3 L1333.5,994.3 L1335.5,996.2 L1337.5,998.2 L1339.5,1000.2 L1341.5,1002.2 L1343.5,1004.2 L1345.5,1006.1 L1347.5,1008.1 L1349.5,1010.1 L1351.5,1012.1 L1353.5,1014 L1355.5,1016 L1357.5,1017.9 L1359.5,1019.9 L1361.5,1021.8 L1363.5,1023.7 L1365.5,1025.7 L1367.5,1027.6 L1369.5,1029.5 L1371.5,1031.4 L1373.5,1033.2 L1375.5,1035.1 L1377.5,1037 L1379.5,1038.8 L1381.5,1040.6 L1383.5,1042.4 L1385.5,1044.2 L1387.5,1046 L1389.5,1047.8 L1391.5,1049.5 L1393.5,1051.3 L1395.5,1053 L1397.5,1054.7 L1399.5,1056.3 L1401.5,1058 L1403.5,1059.6 L1405.5,1061.3 L1407.5,1062.9 L1409.5,1064.4 L1411.5,1066 L1413.5,1067.5 L1415.5,1069 L1417.5,1070.5 L1419.5,1072 L1421.5,1073.5 L1423.5,1074.9 L1425.5,1076.3 L1427.5,1077.7 L1429.5,1079.1 L1431.5,1080.4 L1433.5,1081.7 L1435.5,1083.1 L1437.5,1084.3 L1439.5,1085.6 L1441.5,1086.8 L1443.5,1088 L1445.5,1089.2 L1447.5,1090.4 L1449.5,1091.6 L1451.5,1092.7 L1453.5,1093.8 L1455.5,1094.9 L1457.5,1096 L1459.5,1097 L1461.5,1098 L1463.5,1099 L1465.5,1100 L1467.5,1101 L1469.5,1101.9 L1471.5,1102.8 L1473.5,1103.7 L1475.5,1104.6 L1477.5,1105.4 L1479.5,1106.3 L1481.5,1107.1 L1483.5,1107.9 L1485.5,1108.7 L1487.5,1109.5 L1489.5,1110.2 L1491.5,1110.9 L1493.5,1111.6 L1495.5,1112.3 L1497.5,1113 L1499.5,1113.7 L1501.5,1114.3 L1503.5,1114.9 L1505.5,1115.5 L1507.5,1116.1 L1509.5,1116.7 L1511.5,1117.2 L1513.5,1117.8 L1515.5,1118.3 L1517.5,1118.8 L1519.5,1119.3 L1521.5,1119.8 L1523.5,1120.3 L1525.5,1120.7 L1527.5,1121.2 L1529.5,1121.6 L1531.5,1122 L1533.5,1122.4 L1535.5,1122.8 L1537.5,1123.2 L1539.5,1123.6 L1541.5,1123.9 L1543.5,1124.3 L1545.5,1124.6 L1547.5,1125 L1549.5,1125.3 L1551.5,1125.6 L1553.5,1125.9 L1555.5,1126.2 L1557.5,1126.4 L1559.5,1126.7 L1561.5,1127 L1563.5,1127.2 L1565.5,1127.4 L1567.5,1127.7 L1569.5,1127.9 L1571.5,1128.1 L1573.5,1128.3 L1575.5,1128.5 L1577.5,1128.7 L1579.5,1128.9 L1581.5,1129.1 L1583.5,1129.3 L1585.5,1129.4 L1587.5,1129.6 L1589.5,1129.8 L1591.5,1129.9 L1593.5,1130 L1595.5,1130.2 L1597.5,1130.3 L1599.5,1130.4 L1601.5,1130.6 L1603.5,1130.7 L1605.5,1130.8 L1607.5,1130.9 L1609.5,1131 L1611.5,1131.1 L1613.5,1131.2 L1615.5,1131.3 L1617.5,1131.4 L1619.5,1131.5 L1621.5,1131.6 L1623.5,1131.7 L1625.5,1131.7 L1627.5,1131.8 L1629.5,1131.9 L1631,1131.9" stroke="#50A8D5"/>
<path d="M209.5,1133.2 L211.5,1133.2 L213.5,1133.1 L215.5,1133.1 L217.5,1133.1 L219.5,1133.1 L221.5,1133.1 L223.5,1133.1 L225.5,1133.1 L227.5,1133.1 L229.5,1133 L231.5,1133 L233.5,1133 L235.5,1133 L237.5,1133 L239.5,1132.9 L241.5,1132.9 L243.5,1132.9 L245.5,1132.9 L247.5,1132.8 L249.5,1132.8 L251.5,1132.8 L253.5,1132.7 L255.5,1132.7 L257.5,1132.7 L259.5,1132.6 L261.5,1132.6 L263.5,1132.5 L265.5,1132.5 L267.5,1132.4 L269.5,1132.3 L271.5,1132.3 L273.5,1132.2 L275.5,1132.1 L277.5,1132.1 L279.5,1132 L281.5,1131.9 L283.5,1131.8 L285.5,1131.7 L287.5,1131.6 L289.5,1131.4 L291.5,1131.3 L293.5,1131.2 L295.5,1131 L297.5,1130.8 L299.5,1130.7 L301.5,1130.5 L303.5,1130.3 L305.5,1130.1 L307.5,1129.8 L309.5,1129.6 L311.5,1129.3 L313.5,1129 L315.5,1128.7 L317.5,1128.4 L319.5,1128 L321.5,1127.7 L323.5,1127.2 L325.5,1126.8 L327.5,1126.3 L329.5,1125.8 L331.5,1125.3 L333.5,1124.7 L335.5,1124.1 L337.5,1123.5 L339.5,1122.8 L341.5,1122 L343.5,1121.3 L345.5,1120.4 L347.5,1119.5 L349.5,1118.6 L351.5,1117.6 L353.5,1116.5 L355.5,1115.4 L357.5,1114.2 L359.5,1112.9 L361.5,1111.6 L363.5,1110.1 L365.5,1108.6 L367.5,1107.1 L369.5,1105.4 L371.5,1103.6 L373.5,1101.8 L375.5,1099.8 L377.5,1097.8 L379.5,1095.7 L381.5,1093.4 L383.5,1091.1 L385.5,1088.6 L387.5,1086.1 L389.5,1083.4 L391.5,1080.6 L393.5,1077.7 L395.5,1074.7 L397.5,1071.6 L399.5,1068.3 L401.5,1065 L403.5,1061.5 L405.5,1057.9 L407.5,1054.2 L409.5,1050.3 L411.5,1046.4 L413.5,1042.3 L415.5,1038.1 L417.5,1033.8 L419.5,1029.4 L421.5,1024.9 L423.5,1020.3 L425.5,1015.6 L427.5,1010.9 L429.5,1006 L431.5,1001 L433.5,996 L435.5,990.9 L437.5,985.7 L439.5,980.5 L441.5,975.2 L443.5,969.9 L445.5,964.5 L447.5,959.1 L449.5,953.7 L451.5,948.3 L453.5,942.9 L455.5,937.5 L457.5,932.1 L459.5,926.7 L461.5,921.4 L463.5,916.1 L465.5,910.9 L467.5,905.7 L469.5,900.6 L471.5,895.6 L473.5,890.6 L475.5,885.8 L477.5,881.1 L479.5,876.5 L481.5,872 L483.5,867.6 L485.5,863.4 L487.5,859.3 L489.5,855.4 L491.5,851.7 L493.5,848.1 L495.5,844.6 L497.5,841.3 L499.5,838.2 L501.5,835.3 L503.5,832.6 L505.5,830 L507.5,827.6 L509.5,825.5 L511.5,823.4 L513.5,821.6 L515.5,819.9 L517.5,818.5 L519.5,817.2 L521.5,816 L523.5,815.1 L525.5,814.3 L527.5,813.6 L529.5,813.1 L531.5,812.8 L533.5,812.6 L535.5,812.5 L537.5,812.6 L539.5,812.8 L541.5,813 L543.5,813.4 L545.5,813.9 L547.5,814.5 L549.5,815.2 L551.5,815.9 L553.5,816.7 L555.5,817.5 L557.5,818.4 L559.5,819.4 L561.5,820.3 L563.5,821.3 L565.5,822.3 L567.5,823.3 L569.5,824.3 L571.5,825.3 L573.5,826.3 L575.5,827.2 L577.5,828.2 L579.5,829.1 L581.5,829.9 L583.5,830.8 L585.5,831.5 L587.5,832.2 L589.5,832.9 L591.5,833.5 L593.5,834.1 L595.5,834.5 L597.5,835 L599.5,835.3 L601.5,835.6 L603.5,835.8 L605.5,835.9 L607.5,836 L609.5,836 L611.5,836 L613.5,835.8 L615.5,835.7 L617.5,835.4 L619.5,835.1 L621.5,834.7 L623.5,834.3 L625.5,833.8 L627.5,833.3 L629.5,832.7 L631.5,832 L633.5,831.4 L635.5,830.7 L637.5,829.9 L639.5,829.2 L641.5,828.4 L643.5,827.6 L645.5,826.8 L647.5,825.9 L649.5,825.1 L651.5,824.2 L653.5,823.4 L655.5,822.5 L657.5,821.7 L659.5,820.8 L661.5,820 L663.5,819.2 L665.5,818.4 L667.5,817.7 L669.5,816.9 L671.5,816.2 L673.5,815.6 L675.5,815 L677.5,814.4 L679.5,813.8 L681.5,813.3 L683.5,812.9 L685.5,812.5 L687.5,812.2 L689.5,811.9 L691.5,811.7 L693.5,811.5 L695.5,811.4 L697.5,811.4 L699.5,811.4 L701.5,811.5 L703.5,811.7 L705.5,811.9 L707.5,812.2 L709.5,812.6 L711.5,813 L713.5,813.5 L715.5,814.1 L717.5,814.7 L719.5,815.5 L721.5,816.3 L723.5,817.1 L725.5,818.1 L727.5,819.1 L729.5,820.2 L731.5,821.3 L733.5,822.5 L735.5,823.8 L737.5,825.2 L739.5,826.6 L741.5,828.1 L743.5,829.7 L745.5,831.3 L747.5,833 L749.5,834.7 L751.5,836.6 L753.5,838.4 L755.5,840.4 L757.5,842.4 L759.5,844.4 L761.5,846.5 L763.5,848.7 L765.5,850.9 L767.5,853.2 L769.5,855.5 L771.5,857.8 L773.5,860.3 L775.5,862.7 L777.5,865.2 L779.5,867.7 L781.5,870.3 L783.5,872.9 L785.5,875.5 L787.5,878.2 L789.5,880.9 L791.5,883.7 L793.5,886.4 L795.5,889.2 L797.5,892 L799.5,894.8 L801.5,897.7 L803.5,900.6 L805.5,903.4 L807.5,906.3 L809.5,909.3 L811.5,912.2 L813.5,915.1 L815.5,918 L817.5,921 L819.5,923.9 L821.5,926.8 L823.5,929.8 L825.5,932.7 L827.5,935.7 L829.5,938.6 L831.5,941.5 L833.5,944.4 L835.5,947.3 L837.5,950.2 L839.5,953 L841.5,955.9 L843.5,958.7 L845.5,961.5 L847.5,964.3 L849.5,967.1 L851.5,969.8 L853.5,972.5 L855.5,975.2 L857.5,977.9 L859.5,980.5 L861.5,983.1 L863.5,985.6 L865.5,988.2 L867.5,990.7 L869.5,993.1 L871.5,995.5 L873.5,997.9 L875.5,1000.2 L877.5,1002.5 L879.5,1004.8 L881.5,1007 L883.5,1009.2 L885.5,1011.3 L887.5,1013.4 L889.5,1015.4 L891.5,1017.4 L893.5,1019.4 L895.5,1021.3 L897.5,1023.1 L899.5,1024.9 L901.5,1026.6 L903.5,1028.3 L905.5,1030 L907.5,1031.6 L909.5,1033.1 L911.5,1034.6 L913.5,1036 L915.5,1037.4 L917.5,1038.7 L919.5,1040 L921.5,1041.2 L923.5,1042.4 L925.5,1043.5 L927.5,1044.6 L929.5,1045.6 L931.5,1046.5 L933.5,1047.4 L935.5,1048.2 L937.5,1049 L939.5,1049.8 L941.5,1050.4 L943.5,1051.1 L945.5,1051.6 L947.5,1052.1 L949.5,1052.6 L951.5,1053 L953.5,1053.3 L955.5,1053.6 L957.5,1053.9 L959.5,1054.1 L961.5,1054.2 L963.5,1054.3 L965.5,1054.3 L967.5,1054.3 L969.5,1054.3 L971.5,1054.1 L973.5,1054 L975.5,1053.8 L977.5,1053.5 L979.5,1053.2 L981.5,1052.8 L983.5,1052.4 L985.5,1051.9 L987.5,1051.4 L989.5,1050.9 L991.5,1050.3 L993.5,1049.6 L995.5,1049 L997.5,1048.2 L999.5,1047.5 L1001.5,1046.6 L1003.5,1045.8 L1005.5,1044.9 L1007.5,1044 L1009.5,1043 L1011.5,1042 L1013.5,1040.9 L1015.5,1039.8 L1017.5,1038.7 L1019.5,1037.5 L1021.5,1036.4 L1023.5,1035.1 L1025.5,1033.9 L1027.5,1032.6 L1029.5,1031.3 L1031.5,1029.9 L1033.5,1028.5 L1035.5,1027.1 L1037.5,1025.7 L1039.5,1024.2 L1041.5,1022.7 L1043.5,1021.2 L1045.5,1019.7 L1047.5,1018.1 L1049.5,1016.6 L1051.5,1015 L1053.5,1013.3 L1055.5,1011.7 L1057.5,1010.1 L1059.5,1008.4 L1061.5,1006.7 L1063.5,1005 L1065.5,1003.3 L1067.5,1001.6 L1069.5,999.9 L1071.5,998.1 L1073.5,996.4 L1075.5,994.6 L1077.5,992.9 L1079.5,991.1 L1081.5,989.3 L1083.5,987.5 L1085.5,985.8 L1087.5,984 L1089.5,982.2 L1091.5,980.5 L1093.5,978.7 L1095.5,976.9 L1097.5,975.2 L1099.5,973.4 L1101.5,971.7 L1103.5,969.9 L1105.5,968.2 L1107.5,966.5 L1109.5,964.8 L1111.5,963.1 L1113.5,961.4 L1115.5,959.8 L1117.5,958.1 L1119.5,956.5 L1121.5,954.9 L1123.5,953.3 L1125.5,951.7 L1127.5,950.2 L1129.5,948.7 L1131.5,947.2 L1133.5,945.7 L1135.5,944.3 L1137.5,942.8 L1139.5,941.5 L1141.5,940.1 L1143.5,938.8 L1145.5,937.5 L1147.5,936.2 L1149.5,934.9 L1151.5,933.7 L1153.5,932.6 L1155.5,931.4 L1157.5,930.3 L1159.5,929.3 L1161.5,928.2 L1163.5,927.3 L1165.5,926.3 L1167.5,925.4 L1169.5,924.5 L1171.5,923.7 L1173.5,922.9 L1175.5,922.2 L1177.5,921.5 L1179.5,920.8 L1181.5,920.2 L1183.5,919.6 L1185.5,919.1 L1187.5,918.6 L1189.5,918.1 L1191.5,917.7 L1193.5,917.4 L1195.5,917.1 L1197.5,916.8 L1199.5,916.6 L1201.5,916.4 L1203.5,916.3 L1205.5,916.2 L1207.5,916.2 L1209.5,916.2 L1211.5,916.3 L1213.5,916.4 L1215.5,916.6 L1217.5,916.8 L1219.5,917 L1221.5,917.4 L1223.5,917.7 L1225.5,918.1 L1227.5,918.6 L1229.5,919.1 L1231.5,919.6 L1233.5,920.2 L1235.5,920.9 L1237.5,921.5 L1239.5,922.3 L1241.5,923 L1243.5,923.9 L1245.5,924.7 L1247.5,925.6 L1249.5,926.6 L1251.5,927.6 L1253.5,928.6 L1255.5,929.7 L1257.5,930.8 L1259.5,932 L1261.5,933.2 L1263.5,934.4 L1265.5,935.6 L1267.5,937 L1269.5,938.3 L1271.5,939.7 L1273.5,941.1 L1275.5,942.5 L1277.5,944 L1279.5,945.5 L1281.5,947 L1283.5,948.6 L1285.5,950.2 L1287.5,951.8 L1289.5,953.4 L1291.5,955.1 L1293.5,956.8 L1295.5,958.5 L1297.5,960.3 L1299.5,962 L1301.5,963.8 L1303.5,965.6 L1305.5,967.4 L1307.5,969.3 L1309.5,971.1 L1311.5,973 L1313.5,974.9 L1315.5,976.8 L1317.5,978.7 L1319.5,980.6 L1321.5,982.5 L1323.5,984.5 L1325.5,986.4 L1327.5,988.4 L1329.5,990.3 L1331.5,992.3 L1333.5,994.3 L1335.5,996.2 L1337.5,998.2 L1339.5,1000.2 L1341.5,1002.2 L1343.5,1004.2 L1345.5,1006.1 L1347.5,1008.1 L1349.5,1010.1 L1351.5,1012.1 L1353.5,1014 L1355.5,1016 L1357.5,1017.9 L1359.5,1019.9 L1361.5,1021.8 L1363.5,1023.7 L1365.5,1025.7 L1367.5,1027.6 L1369.5,1029.5 L1371.5,1031.4 L1373.5,1033.2 L1375.5,1035.1 L1377.5,1037 L1379.5,1038.8 L1381.5,1040.6 L1383.5,1042.4 L1385.5,1044.2 L1387.5,1046 L1389.5,1047.8 L1391.5,1049.5 L1393.5,1051.3 L1395.5,1053 L1397.5,1054.7 L1399.5,1056.3 L1401.5,1058 L1403.5,1059.6 L1405.5,1061.3 L1407.5,1062.9 L1409.5,1064.4 L1411.5,1066 L1413.5,1067.5 L1415.5,1069 L1417.5,1070.5 L1419.5,1072 L1421.5,1073.5 L1423.5,1074.9 L1425.5,1076.3 L1427.5,1077.7 L1429.5,1079.1 L1431.5,1080.4 L1433.5,1081.7 L1435.5,1083.1 L1437.5,1084.3 L1439.5,1085.6 L1441.5,1086.8 L1443.5,1088 L1445.5,1089.2 L1447.5,1090.4 L1449.5,1091.6 L1451.5,1092.7 L1453.5,1093.8 L1455.5,1094.9 L1457.5,1096 L1459.5,1097 L1461.5,1098 L1463.5,1099 L1465.5,1100 L1467.5,1101 L1469.5,1101.9 L1471.5,1102.8 L1473.5,1103.7 L1475.5,1104.6 L1477.5,1105.4 L1479.5,1106.3 L1481.5,1107.1 L1483.5,1107.9 L1485.5,1108.7 L1487.5,1109.5 L1489.5,1110.2 L1491.5,1110.9 L1493.5,1111.6 L1495.5,1112.3 L1497.5,1113 L1499.5,1113.7 L1501.5,1114.3 L1503.5,1114.9 L1505.5,1115.5 L1507.5,1116.1 L1509.5,1116.7 L1511.5,1117.2 L1513.5,1117.8 L1515.5,1118.3 L1517.5,1118.8 L1519.5,1119.3 L1521.5,1119.8 L1523.5,1120.3 L1525.5,1120.7 L1527.5,1121.2 L1529.5,1121.6 L1531.5,1122 L1533.5,1122.4 L1535.5,1122.8 L1537.5,1123.2 L1539.5,1123.6 L1541.5,1123.9 L1543.5,1124.3 L1545.5,1124.6 L1547.5,1125 L1549.5,1125.3 L1551.5,1125.6 L1553.5,1125.9 L1555.5,1126.2 L1557.5,1126.4 L1559.5,1126.7 L1561.5,1127 L1563.5,1127.2 L1565.5,1127.4 L1567.5,1127.7 L1569.5,1127.9 L1571.5,1128.1 L1573.5,1128.3 L1575.5,1128.5 L1577.5,1128.7 L1579.5,1128.9 L1581.5,1129.1 L1583.5,1129.3 L1585.5,1129.4 L1587.5,1129.6 L1589.5,1129.8 L1591.5,1129.9 L1593.5,1130 L1595.5,1130.2 L1597.5,1130.3 L1599.5,1130.4 L1601.5,1130.6 L1603.5,1130.7 L1605.5,1130.8 L1607.5,1130.9 L1609.5,1131 L1611.5,1131.1 L1613.5,1131.2 L1615.5,1131.3 L1617.5,1131.4 L1619.5,1131.5 L1621.5,1131.6 L1623.5,1131.7 L1625.5,1131.7 L1627.5,1131.8 L1629.5,1131.9 L1631,1131.9" stroke="#69F9CE"/>
<path d="M322.6,783.9 L324.6,783.8 L326.7,783.7 L328.7,783.6 L330.8,783.5 L332.9,783.3 L335,783.1 L337.1,782.9 L339.2,782.6 L341.3,782.3 L343.5,782 L345.7,781.7 L347.9,781.3 L350.1,780.9 L352.3,780.4 L354.6,779.9 L356.8,779.3 L359,778.5 L361.3,777.7 L363.5,776.7 L365.7,775.7 L367.9,774.6 L370.2,773.3 L372.4,772.1 L374.6,770.7 L376.8,769.2 L379,767.7 L381.2,766 L383.4,764.3 L385.6,762.4 L387.8,760.5 L390,758.5 L392.2,756.4 L394.3,754.2 L396.5,751.9 L398.7,749.5 L400.8,747 L402.9,744.4 L405.1,741.7 L407.2,738.8 L409.2,735.9 L411.1,732.7 L412.7,729.3 L414.2,725.7 L415.5,722 L416.8,718.2 L418.1,714.3 L419.4,710.3 L420.7,706.3 L421.9,702.1 L423.2,697.9 L424.4,693.6 L425.7,689.3 L427,684.9 L428.4,680.5 L429.9,676 L431.3,671.5 L432.9,666.9 L434.4,662.3 L435.9,657.6 L437.4,652.8 L438.9,648 L440.5,643.2 L442.4,638.5 L444.4,633.8 L446.6,629.1 L448.7,624.4 L450.9,619.7 L453.2,614.9 L455.4,610.2 L457.6,605.5 L459.8,600.8 L461.9,596.1 L464.2,591.4 L466.4,586.8 L468.8,582.3 L471.5,577.9 L474.2,573.7 L477.1,569.6 L479.9,565.5 L482.7,561.5 L485.6,557.7 L487.9,553.7 L490.1,549.8 L492.3,545.9 L494.5,542.2 L496.6,538.5 L498.6,535 L500.7,531.6 L502.7,528.3 L504.7,525.2 L506.8,522.3 L508.8,519.5 L510.7,516.9 L512.7,514.5 L514.7,512.2 L516.6,510.1 L518.6,508.2 L520.5,506.4 L522.5,504.8 L524.4,503.3 L526.3,502 L528.2,500.8 L530.1,499.7 L532,498.7 L533.8,497.9 L535.7,497.2 L537.5,496.6 L539.3,496.2 L541.1,495.8 L543,495.6 L544.8,495.4 L546.6,495.3 L548.5,495.2 L550.4,495.3 L552.3,495.3 L554.2,495.5 L556.1,495.6 L558,495.8 L559.9,496.1 L561.8,496.4 L563.8,496.7 L565.8,497.1 L567.8,497.5 L569.7,497.9 L571.8,498.4 L573.8,498.9 L575.8,499.3 L577.9,499.7 L580.1,499.9 L582.2,500.1 L584.4,500.3 L586.6,500.4 L588.8,500.5 L590.9,500.6 L593.1,500.7 L595.1,500.8 L597.2,500.9 L599.3,501 L601.3,501.1 L603.3,501.1 L605.3,501 L607.3,500.9 L609.3,500.8 L611.2,500.7 L613.1,500.6 L615,500.5 L616.9,500.4 L618.7,500.4 L620.6,500.4 L622.5,500.4 L624.4,500.5 L626.3,500.7 L628.2,500.8 L630.2,501 L632.1,501.2 L634,501.3 L636,501.5 L637.9,501.6 L639.9,501.7 L641.9,501.8 L643.9,501.9 L646,501.9 L648,501.9 L650.1,501.9 L652.1,501.9 L654.2,502 L656.3,502 L658.4,502.1 L660.5,502.2 L662.6,502.2 L664.7,502.2 L666.7,502.2 L668.8,502.2 L670.8,502.2 L672.8,502.2 L674.9,502.2 L676.9,502.3 L678.8,502.4 L680.8,502.5 L682.8,502.6 L684.7,502.7 L686.6,502.8 L688.6,502.9 L690.5,503.1 L692.3,503.2 L694.2,503.3 L696.1,503.4 L698,503.5 L699.9,503.5 L701.8,503.6 L703.8,503.7 L705.7,503.9 L707.7,504.1 L709.7,504.3 L711.7,504.6 L713.7,505 L715.7,505.5 L717.7,506 L719.7,506.7 L721.7,507.5 L723.7,508.3 L725.7,509.3 L727.6,510.4 L729.6,511.5 L731.5,512.7 L733.5,514 L735.4,515.3 L737.4,516.6 L739.3,518.1 L741.3,519.6 L743.2,521.1 L745.2,522.7 L747.1,524.3 L749.1,526 L751.1,527.8 L753,529.6 L755,531.4 L757,533.2 L759.1,535 L761.3,536.8 L763.4,538.6 L765.7,540.4 L767.9,542.3 L770.2,544.1 L772.5,546 L774.8,548 L777.2,549.9 L779.5,551.9 L781.7,554 L784,556.1 L786.2,558.3 L788.4,560.5 L790.5,562.8 L792.6,565.2 L794.7,567.5 L796.8,569.9 L798.8,572.3 L800.9,574.8 L803,577.2 L805,579.6 L807.1,582.1 L809.1,584.5 L811.2,587 L813.2,589.4 L815.3,591.9 L817.3,594.3 L819.4,596.8 L821.4,599.2 L823.4,601.6 L825.5,604 L827.6,606.4 L829.6,608.8 L831.7,611.1 L833.7,613.5 L835.8,615.8 L837.8,618.1 L839.9,620.4 L841.9,622.6 L844,624.9 L846,627.1 L848,629.3 L850,631.4 L852,633.6 L854,635.7 L856,637.9 L857.9,639.9 L859.9,642 L861.8,644 L863.7,646.1 L865.7,648 L867.6,650 L869.5,651.9 L871.4,653.8 L873.3,655.7 L875.2,657.5 L877.1,659.3 L879,661.1 L880.9,662.8 L882.8,664.5 L884.6,666.2 L886.4,668 L888.1,669.8 L889.8,671.7 L891.4,673.6 L893,675.5 L894.6,677.4 L896.2,679.3 L897.8,681.2 L899.5,683 L901.2,684.7 L903,686.4 L904.8,687.9 L906.7,689.3 L908.7,690.5 L910.7,691.5 L912.8,692.5 L914.8,693.3 L916.9,694.2 L919,695 L921.1,695.8 L923.1,696.5 L925.2,697.2 L927.3,697.8 L929.4,698.4 L931.4,699 L933.5,699.5 L935.6,700 L937.7,700.4 L939.7,700.8 L941.8,701.2 L943.9,701.5 L945.9,701.8 L948,702 L950.1,702.3 L952.2,702.4 L954.2,702.6 L956.3,702.7 L958.4,702.8 L960.4,702.9 L962.5,702.9 L964.5,702.9 L966.6,702.9 L968.7,702.9 L970.7,702.8 L972.8,702.8 L974.8,702.7 L976.9,702.5 L979,702.4 L981,702.2 L983.1,702 L985.1,701.8 L987.2,701.6 L989.3,701.3 L991.3,701.1 L993.4,700.8 L995.5,700.4 L997.5,700.1 L999.6,699.7 L1001.6,699.4 L1003.7,699 L1005.8,698.5 L1007.8,698.1 L1009.9,697.6 L1011.9,697.2 L1014,696.7 L1016.1,696.2 L1018.1,695.7 L1020.2,695.2 L1022.3,694.7 L1024.3,694.1 L1026.4,693.6 L1028.4,693 L1030.5,692.5 L1032.6,691.9 L1034.6,691.3 L1036.7,690.7 L1038.7,690.1 L1040.8,689.5 L1042.9,688.8 L1044.9,688.2 L1047,687.5 L1049,686.8 L1051,686.1 L1053.1,685.4 L1055.1,684.7 L1057.1,684 L1059.2,683.2 L1061.2,682.5 L1063.2,681.8 L1065.3,681 L1067.3,680.3 L1069.3,679.5 L1071.3,678.8 L1073.3,678 L1075.4,677.2 L1077.4,676.5 L1079.4,675.7 L1081.4,674.9 L1083.4,674.2 L1085.4,673.4 L1087.4,672.6 L1089.4,671.8 L1091.4,671.1 L1093.4,670.3 L1095.4,669.5 L1097.4,668.7 L1099.4,668 L1101.4,667.2 L1103.4,666.4 L1105.4,665.6 L1107.4,664.8 L1109.3,664 L1111.3,663.2 L1113.3,662.4 L1115.2,661.5 L1117.2,660.7 L1119.1,659.8 L1121,658.9 L1123,658.1 L1124.9,657.2 L1126.8,656.3 L1128.7,655.4 L1130.6,654.5 L1132.6,653.7 L1134.5,652.8 L1136.4,651.9 L1138.3,651 L1140.2,650.2 L1142.1,649.3 L1144,648.4 L1146,647.6 L1147.9,646.7 L1149.8,645.9 L1151.7,645 L1153.6,644.1 L1155.5,643.2 L1157.4,642.3 L1159.3,641.4 L1161.2,640.5 L1163,639.5 L1164.9,638.6 L1166.8,637.6 L1168.7,636.7 L1170.6,635.7 L1172.5,634.8 L1174.4,633.8 L1176.2,632.9 L1178.1,632 L1180.1,631.1 L1182,630.2 L1183.9,629.3 L1185.8,628.4 L1187.7,627.6 L1189.7,626.7 L1191.6,625.9 L1193.6,625 L1195.5,624.2 L1197.4,623.3 L1199.4,622.5 L1201.4,621.6 L1203.3,620.8 L1205.3,620 L1207.3,619.2 L1209.2,618.4 L1211.2,617.7 L1213.2,616.9 L1215.3,616.3 L1217.3,615.6 L1219.3,615 L1221.3,614.4 L1223.4,613.9 L1225.4,613.4 L1227.5,613 L1229.6,612.6 L1231.6,612.2 L1233.7,611.8 L1235.8,611.4 L1237.9,611.1 L1240,610.8 L1242,610.5 L1244.1,610.3 L1246.2,610.1 L1248.3,610 L1250.4,609.9 L1252.5,609.8 L1254.6,609.8 L1256.7,609.9 L1258.8,609.9 L1260.9,610.1 L1263,610.2 L1265.1,610.4 L1267.2,610.6 L1269.3,610.9 L1271.4,611.2 L1273.5,611.5 L1275.5,611.8 L1277.6,612.2 L1279.7,612.6 L1281.8,613 L1283.8,613.4 L1285.9,614 L1287.9,614.6 L1289.9,615.3 L1291.9,616 L1293.9,616.8 L1295.9,617.6 L1297.9,618.5 L1299.9,619.4 L1301.8,620.4 L1303.8,621.4 L1305.7,622.3 L1307.6,623.3 L1309.5,624.4 L1311.4,625.6 L1313.3,626.8 L1315.1,628.2 L1316.9,629.5 L1318.7,630.9 L1320.5,632.3 L1322.3,633.7 L1324.1,635.1 L1325.8,636.4 L1327.6,637.7 L1329.4,638.9 L1331.2,640.1 L1333.1,641.2 L1334.9,642.3 L1336.7,643.3 L1338.5,644.4 L1340.4,645.4 L1342.2,646.5 L1344,647.5 L1345.9,648.5 L1347.7,649.5 L1349.5,650.5 L1351.3,651.6 L1353.2,652.6 L1355,653.6 L1356.8,654.6 L1358.6,655.7 L1360.4,656.8 L1362.3,657.9 L1364.1,659 L1365.9,660.1 L1367.7,661.1 L1369.6,662.1 L1371.4,663 L1373.3,663.8 L1375.3,664.6 L1377.2,665.3 L1379.2,666.1 L1381.2,666.8 L1383.1,667.6 L1385.1,668.3 L1387,669.1 L1389,669.9 L1391,670.6 L1392.9,671.4 L1394.9,672.2 L1396.9,673 L1398.8,673.8 L1400.8,674.6 L1402.8,675.4 L1404.8,676.2 L1406.8,677 L1408.7,677.9 L1410.7,678.7 L1412.7,679.5 L1414.7,680.3 L1416.7,681.2 L1418.7,682 L1420.6,682.9 L1422.6,683.7 L1424.6,684.5 L1426.6,685.4 L1428.7,686.2 L1430.7,686.9 L1432.7,687.7 L1434.8,688.4 L1436.9,689.1 L1439,689.8 L1441,690.5 L1443.1,691.1 L1445.3,691.8 L1447.4,692.4 L1449.5,693 L1451.6,693.6 L1453.8,694.2 L1455.9,694.8 L1458.1,695.4 L1460.2,696 L1462.4,696.5 L1464.5,697.1 L1466.7,697.7 L1468.8,698.3 L1471,698.9 L1473.1,699.4 L1475.3,700 L1477.4,700.7 L1479.5,701.3 L1481.7,701.9 L1483.8,702.4 L1486,703 L1488.2,703.6 L1490.3,704.1 L1492.5,704.7 L1494.6,705.2 L1496.8,705.8 L1499,706.3 L1501.1,706.8 L1503.3,707.3 L1505.5,707.8 L1507.7,708.3 L1509.8,708.9 L1512,709.4 L1514.2,709.8 L1516.3,710.3 L1518.5,710.8 L1520.7,711.3 L1522.8,711.8 L1525,712.3 L1527.1,712.8 L1529.3,713.3 L1531.4,713.8 L1533.6,714.3 L1535.7,714.7 L1537.9,715.2 L1540,715.7 L1542.2,716.1 L1544.3,716.6 L1546.5,717 L1548.6,717.4 L1550.8,717.9 L1552.9,718.3 L1555,718.7 L1557.2,719.1 L1559.3,719.5 L1561.4,720 L1563.5,720.4 L1565.7,720.8 L1567.8,721.2 L1569.9,721.6 L1572,722 L1574.1,722.4 L1576.2,722.9 L1578.3,723.3 L1580.4,723.7 L1582.5,724.2 L1584.5,724.6 L1586.6,725 L1588.7,725.5 L1590.7,725.9 L1592.8,726.4 L1594.8,726.8 L1596.9,727.2 L1598.9,727.7 L1601,728.1 L1603,728.6 L1605,729 L1607.1,729.4 L1609.1,729.8 L1611.1,730.3 L1613.2,730.7 L1615.2,731.1 L1617.2,731.5 L1619.2,731.9 L1621.3,732.3 L1623.3,732.7 L1625.3,733.1 L1627.3,733.5 L1629.3,733.8 L1631.4,734.2 L1633.4,734.5 L1635.4,734.9 L1635.9,735" stroke="#0A6FE6"/>
<path d="M322.5,784.9 L324.5,784.6 L326.5,784.4 L328.5,784.1 L330.5,783.8 L332.5,783.4 L334.5,783.1 L336.5,782.7 L338.5,782.2 L340.5,781.8 L342.5,781.3 L344.5,780.8 L346.5,780.2 L348.5,779.6 L350.5,779 L352.5,778.3 L354.5,777.6 L356.5,776.8 L358.5,776 L360.5,775.1 L362.5,774.2 L364.5,773.2 L366.5,772.2 L368.5,771.1 L370.5,770 L372.5,768.7 L374.5,767.5 L376.5,766.1 L378.5,764.7 L380.5,763.2 L382.5,761.7 L384.5,760 L386.5,758.3 L388.5,756.5 L390.5,754.7 L392.5,752.7 L394.5,750.7 L396.5,748.6 L398.5,746.4 L400.5,744.1 L402.5,741.8 L404.5,739.3 L406.5,736.8 L408.5,734.2 L410.5,731.5 L412.5,728.8 L414.5,725.9 L416.5,723 L418.5,720 L420.5,716.9 L422.5,713.8 L424.5,710.6 L426.5,707.3 L428.5,703.9 L430.5,700.5 L432.5,697.1 L434.5,693.6 L436.5,690 L438.5,686.5 L440.5,682.8 L442.5,679.2 L444.5,675.5 L446.5,671.8 L448.5,668.1 L450.5,664.4 L452.5,660.7 L454.5,657 L456.5,653.3 L458.5,649.6 L460.5,646 L462.5,642.4 L464.5,638.9 L466.5,635.4 L468.5,632 L470.5,628.6 L472.5,625.3 L474.5,622.1 L476.5,619 L478.5,616 L480.5,613.1 L482.5,610.4 L484.5,607.7 L486.5,605.2 L488.5,602.8 L490.5,600.5 L492.5,598.4 L494.5,596.5 L496.5,594.7 L498.5,593.1 L500.5,591.6 L502.5,590.3 L504.5,589.2 L506.5,588.3 L508.5,587.5 L510.5,586.9 L512.5,586.5 L514.5,586.3 L516.5,586.3 L518.5,586.5 L520.5,586.8 L522.5,587.4 L524.5,588.1 L526.5,589 L528.5,590.1 L530.5,591.3 L532.5,592.8 L534.5,594.4 L536.5,596.1 L538.5,598 L540.5,600.1 L542.5,602.3 L544.5,604.7 L546.5,607.2 L548.5,609.8 L550.5,612.6 L552.5,615.4 L554.5,618.4 L556.5,621.5 L558.5,624.7 L560.5,627.9 L562.5,631.3 L564.5,634.7 L566.5,638.2 L568.5,641.7 L570.5,645.3 L572.5,648.9 L574.5,652.6 L576.5,656.2 L578.5,659.9 L580.5,663.6 L582.5,667.4 L584.5,671.1 L586.5,674.8 L588.5,678.4 L590.5,682.1 L592.5,685.7 L594.5,689.3 L596.5,692.9 L598.5,696.4 L600.5,699.9 L602.5,703.3 L604.5,706.6 L606.5,709.9 L608.5,713.1 L610.5,716.3 L612.5,719.4 L614.5,722.4 L616.5,725.3 L618.5,728.2 L620.5,731 L622.5,733.7 L624.5,736.3 L626.5,738.8 L628.5,741.3 L630.5,743.7 L632.5,745.9 L634.5,748.2 L636.5,750.3 L638.5,752.3 L640.5,754.3 L642.5,756.2 L644.5,758 L646.5,759.7 L648.5,761.3 L650.5,762.9 L652.5,764.4 L654.5,765.8 L656.5,767.2 L658.5,768.5 L660.5,769.7 L662.5,770.9 L664.5,772 L666.5,773 L668.5,774 L670.5,775 L672.5,775.8 L674.5,776.7 L676.5,777.4 L678.5,778.2 L680.5,778.9 L682.5,779.5 L684.5,780.1 L686.5,780.7 L688.5,781.2 L690.5,781.7 L692.5,782.2 L694.5,782.6 L696.5,783 L698.5,783.4 L700.5,783.7 L702.5,784 L704.5,784.3 L706.5,784.6 L708.5,784.8 L710.5,785.1 L712.5,785.3 L714.5,785.5 L716.5,785.7 L718.5,785.9 L720.5,786 L722.5,786.2 L724.5,786.3 L726.5,786.4 L728.5,786.5 L730.5,786.6 L732.5,786.7 L734.5,786.8 L736.5,786.9 L738.5,786.9 L740.5,787 L742.5,787.1 L744.5,787.1 L746.5,787.2 L748.5,787.2 L750.5,787.3 L752.5,787.3 L754.5,787.3 L756.5,787.4 L758.5,787.4 L760.5,787.4 L762.5,787.4 L764.5,787.4 L766.5,787.5 L768.5,787.5 L770.5,787.5 L772.5,787.5 L774.5,787.5 L776.5,787.5 L778.5,787.5 L780.5,787.5 L782.5,787.5 L784.5,787.6 L786.5,787.6 L788.5,787.6 L790.5,787.6 L792.5,787.6 L794.5,787.6 L796.5,787.6 L798.5,787.6 L800.5,787.6 L802.5,787.6 L804.5,787.6 L806.5,787.6 L808.5,787.6 L810.5,787.6 L812.5,787.6 L814.5,787.6 L816.5,787.6 L818.5,787.6 L820.5,787.6 L822.5,787.6 L824.5,787.6 L826.5,787.6 L828.5,787.6 L830.5,787.6 L832.5,787.6 L834.5,787.6 L836.5,787.6 L838.5,787.6 L840.5,787.6 L842.5,787.6 L844.5,787.6 L846.5,787.6 L848.5,787.6 L850.5,787.6 L852.5,787.6 L854.5,787.6 L856.5,787.6 L858.5,787.6 L860.5,787.6 L862.5,787.6 L864.5,787.6 L866.5,787.6 L868.5,787.6 L870.5,787.6 L872.5,787.6 L874.5,787.6 L876.5,787.6 L878.5,787.6 L880.5,787.6 L882.5,787.6 L884.5,787.6 L886.5,787.6 L888.5,787.6 L890.5,787.6 L892.5,787.6 L894.5,787.6 L896.5,787.6 L898.5,787.6 L900.5,787.6 L902.5,787.6 L904.5,787.6 L906.5,787.6 L908.5,787.6 L910.5,787.6 L912.5,787.6 L914.5,787.6 L916.5,787.6 L918.5,787.6 L920.5,787.6 L922.5,787.6 L924.5,787.6 L926.5,787.6 L928.5,787.6 L930.5,787.6 L932.5,787.6 L934.5,787.6 L936.5,787.6 L938.5,787.6 L940.5,787.6 L942.5,787.6 L944.5,787.6 L946.5,787.6 L948.5,787.6 L950.5,787.6 L952.5,787.6 L954.5,787.6 L956.5,787.6 L958.5,787.6 L960.5,787.6 L962.5,787.6 L964.5,787.6 L966.5,787.6 L968.5,787.6 L970.5,787.6 L972.5,787.6 L974.5,787.6 L976.5,787.6 L978.5,787.6 L980.5,787.6 L982.5,787.6 L984.5,787.6 L986.5,787.6 L988.5,787.6 L990.5,787.6 L992.5,787.6 L994.5,787.6 L996.5,787.6 L998.5,787.6 L1000.5,787.6 L1002.5,787.6 L1004.5,787.6 L1006.5,787.6 L1008.5,787.6 L1010.5,787.6 L1012.5,787.6 L1014.5,787.6 L1016.5,787.6 L1018.5,787.6 L1020.5,787.6 L1022.5,787.6 L1024.5,787.6 L1026.5,787.6 L1028.5,787.6 L1030.5,787.6 L1032.5,787.6 L1034.5,787.6 L1036.5,787.6 L1038.5,787.6 L1040.5,787.6 L1042.5,787.6 L1044.5,787.6 L1046.5,787.6 L1048.5,787.6 L1050.5,787.6 L1052.5,787.6 L1054.5,787.6 L1056.5,787.6 L1058.5,787.6 L1060.5,787.6 L1062.5,787.6 L1064.5,787.6 L1066.5,787.6 L1068.5,787.6 L1070.5,787.6 L1072.5,787.6 L1074.5,787.6 L1076.5,787.6 L1078.5,787.6 L1080.5,787.6 L1082.5,787.6 L1084.5,787.6 L1086.5,787.6 L1088.5,787.6 L1090.5,787.6 L1092.5,787.6 L1094.5,787.6 L1096.5,787.6 L1098.5,787.6 L1100.5,787.6 L1102.5,787.6 L1104.5,787.6 L1106.5,787.6 L1108.5,787.6 L1110.5,787.6 L1112.5,787.6 L1114.5,787.6 L1116.5,787.6 L1118.5,787.6 L1120.5,787.6 L1122.5,787.6 L1124.5,787.6 L1126.5,787.6 L1128.5,787.6 L1130.5,787.6 L1132.5,787.6 L1134.5,787.6 L1136.5,787.6 L1138.5,787.6 L1140.5,787.6 L1142.5,787.6 L1144.5,787.6 L1146.5,787.6 L1148.5,787.6 L1150.5,787.6 L1152.5,787.6 L1154.5,787.6 L1156.5,787.6 L1158.5,787.6 L1160.5,787.6 L1162.5,787.6 L1164.5,787.6 L1166.5,787.6 L1168.5,787.6 L1170.5,787.6 L1172.5,787.6 L1174.5,787.6 L1176.5,787.6 L1178.5,787.6 L1180.5,787.6 L1182.5,787.6 L1184.5,787.6 L1186.5,787.6 L1188.5,787.6 L1190.5,787.6 L1192.5,787.6 L1194.5,787.6 L1196.5,787.6 L1198.5,787.6 L1200.5,787.6 L1202.5,787.6 L1204.5,787.6 L1206.5,787.6 L1208.5,787.6 L1210.5,787.6 L1212.5,787.6 L1214.5,787.6 L1216.5,787.6 L1218.5,787.6 L1220.5,787.6 L1222.5,787.6 L1224.5,787.6 L1226.5,787.6 L1228.5,787.6 L1230.5,787.6 L1232.5,787.6 L1234.5,787.6 L1236.5,787.6 L1238.5,787.6 L1240.5,787.6 L1242.5,787.6 L1244.5,787.6 L1246.5,787.6 L1248.5,787.6 L1250.5,787.6 L1252.5,787.6 L1254.5,787.6 L1256.5,787.6 L1258.5,787.6 L1260.5,787.6 L1262.5,787.6 L1264.5,787.6 L1266.5,787.6 L1268.5,787.6 L1270.5,787.6 L1272.5,787.6 L1274.5,787.6 L1276.5,787.6 L1278.5,787.6 L1280.5,787.6 L1282.5,787.6 L1284.5,787.6 L1286.5,787.6 L1288.5,787.6 L1290.5,787.6 L1292.5,787.6 L1294.5,787.6 L1296.5,787.6 L1298.5,787.6 L1300.5,787.6 L1302.5,787.6 L1304.5,787.6 L1306.5,787.6 L1308.5,787.6 L1310.5,787.6 L1312.5,787.6 L1314.5,787.6 L1316.5,787.6 L1318.5,787.6 L1320.5,787.6 L1322.5,787.6 L1324.5,787.6 L1326.5,787.6 L1328.5,787.6 L1330.5,787.6 L1332.5,787.6 L1334.5,787.6 L1336.5,787.6 L1338.5,787.6 L1340.5,787.6 L1342.5,787.6 L1344.5,787.6 L1346.5,787.6 L1348.5,787.6 L1350.5,787.6 L1352.5,787.6 L1354.5,787.6 L1356.5,787.6 L1358.5,787.6 L1360.5,787.6 L1362.5,787.6 L1364.5,787.6 L1366.5,787.6 L1368.5,787.6 L1370.5,787.6 L1372.5,787.6 L1374.5,787.6 L1376.5,787.6 L1378.5,787.6 L1380.5,787.6 L1382.5,787.6 L1384.5,787.6 L1386.5,787.6 L1388.5,787.6 L1390.5,787.6 L1392.5,787.6 L1394.5,787.6 L1396.5,787.6 L1398.5,787.6 L1400.5,787.6 L1402.5,787.6 L1404.5,787.6 L1406.5,787.6 L1408.5,787.6 L1410.5,787.6 L1412.5,787.6 L1414.5,787.6 L1416.5,787.6 L1418.5,787.6 L1420.5,787.6 L1422.5,787.6 L1424.5,787.6 L1426.5,787.6 L1428.5,787.6 L1430.5,787.6 L1432.5,787.6 L1434.5,787.6 L1436.5,787.6 L1438.5,787.6 L1440.5,787.6 L1442.5,787.6 L1444.5,787.6 L1446.5,787.6 L1448.5,787.6 L1450.5,787.6 L1452.5,787.6 L1454.5,787.6 L1456.5,787.6 L1458.5,787.6 L1460.5,787.6 L1462.5,787.6 L1464.5,787.6 L1466.5,787.6 L1468.5,787.6 L1470.5,787.6 L1472.5,787.6 L1474.5,787.6 L1476.5,787.6 L1478.5,787.6 L1480.5,787.6 L1482.5,787.6 L1484.5,787.6 L1486.5,787.6 L1488.5,787.6 L1490.5,787.6 L1492.5,787.6 L1494.5,787.6 L1496.5,787.6 L1498.5,787.6 L1500.5,787.6 L1502.5,787.6 L1504.5,787.6 L1506.5,787.6 L1508.5,787.6 L1510.5,787.6 L1512.5,787.6 L1514.5,787.6 L1516.5,787.6 L1518.5,787.6 L1520.5,787.6 L1522.5,787.6 L1524.5,787.6 L1526.5,787.6 L1528.5,787.6 L1530.5,787.6 L1532.5,787.6 L1534.5,787.6 L1536.5,787.6 L1538.5,787.6 L1540.5,787.6 L1542.5,787.6 L1544.5,787.6 L1546.5,787.6 L1548.5,787.6 L1550.5,787.6 L1552.5,787.6 L1554.5,787.6 L1556.5,787.6 L1558.5,787.6 L1560.5,787.6 L1562.5,787.6 L1564.5,787.6 L1566.5,787.6 L1568.5,787.6 L1570.5,787.6 L1572.5,787.6 L1574.5,787.6 L1576.5,787.6 L1578.5,787.6 L1580.5,787.6 L1582.5,787.6 L1584.5,787.6 L1586.5,787.6 L1588.5,787.6 L1590.5,787.6 L1592.5,787.6 L1594.5,787.6 L1596.5,787.6 L1598.5,787.6 L1600.5,787.6 L1602.5,787.6 L1604.5,787.6 L1606.5,787.6 L1608.5,787.6 L1610.5,787.6 L1612.5,787.6 L1614.5,787.6 L1616.5,787.6 L1618.5,787.6 L1620.5,787.6 L1622.5,787.6 L1624.5,787.6 L1626.5,787.6 L1628.5,787.6 L1630.5,787.6 L1631,787.6" stroke="#008591"/>
<path d="M322.5,786.2 L324.5,786.1 L326.5,786 L328.5,785.9 L330.5,785.8 L332.5,785.8 L334.5,785.6 L336.5,785.5 L338.5,785.4 L340.5,785.3 L342.5,785.2 L344.5,785 L346.5,784.9 L348.5,784.8 L350.5,784.6 L352.5,784.4 L354.5,784.3 L356.5,784.1 L358.5,783.9 L360.5,783.7 L362.5,783.5 L364.5,783.3 L366.5,783.1 L368.5,782.9 L370.5,782.6 L372.5,782.4 L374.5,782.1 L376.5,781.9 L378.5,781.6 L380.5,781.3 L382.5,781 L384.5,780.6 L386.5,780.3 L388.5,780 L390.5,779.6 L392.5,779.2 L394.5,778.8 L396.5,778.4 L398.5,778 L400.5,777.6 L402.5,777.1 L404.5,776.6 L406.5,776.1 L408.5,775.6 L410.5,775.1 L412.5,774.6 L414.5,774 L416.5,773.4 L418.5,772.8 L420.5,772.2 L422.5,771.5 L424.5,770.8 L426.5,770.1 L428.5,769.4 L430.5,768.7 L432.5,767.9 L434.5,767.1 L436.5,766.3 L438.5,765.4 L440.5,764.5 L442.5,763.6 L444.5,762.7 L446.5,761.7 L448.5,760.7 L450.5,759.7 L452.5,758.7 L454.5,757.6 L456.5,756.5 L458.5,755.3 L460.5,754.2 L462.5,752.9 L464.5,751.7 L466.5,750.4 L468.5,749.1 L470.5,747.8 L472.5,746.4 L474.5,745 L476.5,743.5 L478.5,742.1 L480.5,740.5 L482.5,739 L484.5,737.4 L486.5,735.8 L488.5,734.1 L490.5,732.4 L492.5,730.7 L494.5,728.9 L496.5,727.1 L498.5,725.2 L500.5,723.4 L502.5,721.4 L504.5,719.5 L506.5,717.5 L508.5,715.4 L510.5,713.4 L512.5,711.3 L514.5,709.1 L516.5,706.9 L518.5,704.7 L520.5,702.5 L522.5,700.2 L524.5,697.9 L526.5,695.5 L528.5,693.1 L530.5,690.7 L532.5,688.3 L534.5,685.8 L536.5,683.3 L538.5,680.7 L540.5,678.1 L542.5,675.5 L544.5,672.9 L546.5,670.3 L548.5,667.6 L550.5,664.9 L552.5,662.1 L554.5,659.4 L556.5,656.6 L558.5,653.8 L560.5,651 L562.5,648.2 L564.5,645.3 L566.5,642.5 L568.5,639.6 L570.5,636.7 L572.5,633.8 L574.5,630.9 L576.5,628 L578.5,625.1 L580.5,622.2 L582.5,619.3 L584.5,616.4 L586.5,613.4 L588.5,610.5 L590.5,607.6 L592.5,604.7 L594.5,601.8 L596.5,598.9 L598.5,596.1 L600.5,593.2 L602.5,590.4 L604.5,587.6 L606.5,584.8 L608.5,582 L610.5,579.2 L612.5,576.5 L614.5,573.8 L616.5,571.1 L618.5,568.5 L620.5,565.9 L622.5,563.3 L624.5,560.8 L626.5,558.3 L628.5,555.9 L630.5,553.5 L632.5,551.1 L634.5,548.8 L636.5,546.6 L638.5,544.4 L640.5,542.2 L642.5,540.1 L644.5,538.1 L646.5,536.1 L648.5,534.2 L650.5,532.3 L652.5,530.5 L654.5,528.8 L656.5,527.1 L658.5,525.5 L660.5,524 L662.5,522.6 L664.5,521.2 L666.5,519.9 L668.5,518.6 L670.5,517.5 L672.5,516.4 L674.5,515.4 L676.5,514.5 L678.5,513.6 L680.5,512.8 L682.5,512.2 L684.5,511.5 L686.5,511 L688.5,510.6 L690.5,510.2 L692.5,509.9 L694.5,509.7 L696.5,509.6 L698.5,509.6 L700.5,509.7 L702.5,509.8 L704.5,510 L706.5,510.3 L708.5,510.7 L710.5,511.1 L712.5,511.7 L714.5,512.3 L716.5,513 L718.5,513.8 L720.5,514.6 L722.5,515.5 L724.5,516.5 L726.5,517.6 L728.5,518.8 L730.5,520 L732.5,521.3 L734.5,522.7 L736.5,524.1 L738.5,525.6 L740.5,527.2 L742.5,528.8 L744.5,530.5 L746.5,532.3 L748.5,534.1 L750.5,536 L752.5,538 L754.5,540 L756.5,542.1 L758.5,544.2 L760.5,546.3 L762.5,548.6 L764.5,550.8 L766.5,553.2 L768.5,555.5 L770.5,557.9 L772.5,560.4 L774.5,562.9 L776.5,565.4 L778.5,567.9 L780.5,570.5 L782.5,573.2 L784.5,575.8 L786.5,578.5 L788.5,581.2 L790.5,583.9 L792.5,586.7 L794.5,589.5 L796.5,592.3 L798.5,595.1 L800.5,597.9 L802.5,600.8 L804.5,603.6 L806.5,606.5 L808.5,609.3 L810.5,612.2 L812.5,615.1 L814.5,618 L816.5,620.9 L818.5,623.7 L820.5,626.6 L822.5,629.5 L824.5,632.4 L826.5,635.2 L828.5,638.1 L830.5,640.9 L832.5,643.7 L834.5,646.6 L836.5,649.4 L838.5,652.1 L840.5,654.9 L842.5,657.7 L844.5,660.4 L846.5,663.1 L848.5,665.8 L850.5,668.4 L852.5,671.1 L854.5,673.7 L856.5,676.3 L858.5,678.8 L860.5,681.4 L862.5,683.9 L864.5,686.4 L866.5,688.8 L868.5,691.2 L870.5,693.6 L872.5,696 L874.5,698.3 L876.5,700.6 L878.5,702.8 L880.5,705 L882.5,707.2 L884.5,709.4 L886.5,711.5 L888.5,713.5 L890.5,715.6 L892.5,717.6 L894.5,719.6 L896.5,721.5 L898.5,723.4 L900.5,725.2 L902.5,727.1 L904.5,728.9 L906.5,730.6 L908.5,732.3 L910.5,734 L912.5,735.7 L914.5,737.3 L916.5,738.8 L918.5,740.4 L920.5,741.9 L922.5,743.3 L924.5,744.8 L926.5,746.2 L928.5,747.5 L930.5,748.9 L932.5,750.2 L934.5,751.4 L936.5,752.7 L938.5,753.9 L940.5,755 L942.5,756.2 L944.5,757.3 L946.5,758.4 L948.5,759.4 L950.5,760.4 L952.5,761.4 L954.5,762.4 L956.5,763.3 L958.5,764.2 L960.5,765.1 L962.5,765.9 L964.5,766.7 L966.5,767.5 L968.5,768.3 L970.5,769.1 L972.5,769.8 L974.5,770.5 L976.5,771.2 L978.5,771.8 L980.5,772.5 L982.5,773.1 L984.5,773.7 L986.5,774.2 L988.5,774.8 L990.5,775.3 L992.5,775.8 L994.5,776.3 L996.5,776.8 L998.5,777.3 L1000.5,777.7 L1002.5,778.2 L1004.5,778.6 L1006.5,779 L1008.5,779.3 L1010.5,779.7 L1012.5,780.1 L1014.5,780.4 L1016.5,780.7 L1018.5,781 L1020.5,781.3 L1022.5,781.6 L1024.5,781.9 L1026.5,782.2 L1028.5,782.4 L1030.5,782.7 L1032.5,782.9 L1034.5,783.1 L1036.5,783.3 L1038.5,783.6 L1040.5,783.8 L1042.5,783.9 L1044.5,784.1 L1046.5,784.3 L1048.5,784.5 L1050.5,784.6 L1052.5,784.8 L1054.5,784.9 L1056.5,785 L1058.5,785.2 L1060.5,785.3 L1062.5,785.4 L1064.5,785.5 L1066.5,785.6 L1068.5,785.7 L1070.5,785.8 L1072.5,785.9 L1074.5,786 L1076.5,786.1 L1078.5,786.2 L1080.5,786.3 L1082.5,786.3 L1084.5,786.4 L1086.5,786.5 L1088.5,786.5 L1090.5,786.6 L1092.5,786.6 L1094.5,786.7 L1096.5,786.8 L1098.5,786.8 L1100.5,786.8 L1102.5,786.9 L1104.5,786.9 L1106.5,787 L1108.5,787 L1110.5,787 L1112.5,787.1 L1114.5,787.1 L1116.5,787.1 L1118.5,787.2 L1120.5,787.2 L1122.5,787.2 L1124.5,787.2 L1126.5,787.3 L1128.5,787.3 L1130.5,787.3 L1132.5,787.3 L1134.5,787.3 L1136.5,787.4 L1138.5,787.4 L1140.5,787.4 L1142.5,787.4 L1144.5,787.4 L1146.5,787.4 L1148.5,787.4 L1150.5,787.4 L1152.5,787.5 L1154.5,787.5 L1156.5,787.5 L1158.5,787.5 L1160.5,787.5 L1162.5,787.5 L1164.5,787.5 L1166.5,787.5 L1168.5,787.5 L1170.5,787.5 L1172.5,787.5 L1174.5,787.5 L1176.5,787.5 L1178.5,787.5 L1180.5,787.5 L1182.5,787.5 L1184.5,787.6 L1186.5,787.6 L1188.5,787.6 L1190.5,787.6 L1192.5,787.6 L1194.5,787.6 L1196.5,787.6 L1198.5,787.6 L1200.5,787.6 L1202.5,787.6 L1204.5,787.6 L1206.5,787.6 L1208.5,787.6 L1210.5,787.6 L1212.5,787.6 L1214.5,787.6 L1216.5,787.6 L1218.5,787.6 L1220.5,787.6 L1222.5,787.6 L1224.5,787.6 L1226.5,787.6 L1228.5,787.6 L1230.5,787.6 L1232.5,787.6 L1234.5,787.6 L1236.5,787.6 L1238.5,787.6 L1240.5,787.6 L1242.5,787.6 L1244.5,787.6 L1246.5,787.6 L1248.5,787.6 L1250.5,787.6 L1252.5,787.6 L1254.5,787.6 L1256.5,787.6 L1258.5,787.6 L1260.5,787.6 L1262.5,787.6 L1264.5,787.6 L1266.5,787.6 L1268.5,787.6 L1270.5,787.6 L1272.5,787.6 L1274.5,787.6 L1276.5,787.6 L1278.5,787.6 L1280.5,787.6 L1282.5,787.6 L1284.5,787.6 L1286.5,787.6 L1288.5,787.6 L1290.5,787.6 L1292.5,787.6 L1294.5,787.6 L1296.5,787.6 L1298.5,787.6 L1300.5,787.6 L1302.5,787.6 L1304.5,787.6 L1306.5,787.6 L1308.5,787.6 L1310.5,787.6 L1312.5,787.6 L1314.5,787.6 L1316.5,787.6 L1318.5,787.6 L1320.5,787.6 L1322.5,787.6 L1324.5,787.6 L1326.5,787.6 L1328.5,787.6 L1330.5,787.6 L1332.5,787.6 L1334.5,787.6 L1336.5,787.6 L1338.5,787.6 L1340.5,787.6 L1342.5,787.6 L1344.5,787.6 L1346.5,787.6 L1348.5,787.6 L1350.5,787.6 L1352.5,787.6 L1354.5,787.6 L1356.5,787.6 L1358.5,787.6 L1360.5,787.6 L1362.5,787.6 L1364.5,787.6 L1366.5,787.6 L1368.5,787.6 L1370.5,787.6 L1372.5,787.6 L1374.5,787.6 L1376.5,787.6 L1378.5,787.6 L1380.5,787.6 L1382.5,787.6 L1384.5,787.6 L1386.5,787.6 L1388.5,787.6 L1390.5,787.6 L1392.5,787.6 L1394.5,787.6 L1396.5,787.6 L1398.5,787.6 L1400.5,787.6 L1402.5,787.6 L1404.5,787.6 L1406.5,787.6 L1408.5,787.6 L1410.5,787.6 L1412.5,787.6 L1414.5,787.6 L1416.5,787.6 L1418.5,787.6 L1420.5,787.6 L1422.5,787.6 L1424.5,787.6 L1426.5,787.6 L1428.5,787.6 L1430.5,787.6 L1432.5,787.6 L1434.5,787.6 L1436.5,787.6 L1438.5,787.6 L1440.5,787.6 L1442.5,787.6 L1444.5,787.6 L1446.5,787.6 L1448.5,787.6 L1450.5,787.6 L1452.5,787.6 L1454.5,787.6 L1456.5,787.6 L1458.5,787.6 L1460.5,787.6 L1462.5,787.6 L1464.5,787.6 L1466.5,787.6 L1468.5,787.6 L1470.5,787.6 L1472.5,787.6 L1474.5,787.6 L1476.5,787.6 L1478.5,787.6 L1480.5,787.6 L1482.5,787.6 L1484.5,787.6 L1486.5,787.6 L1488.5,787.6 L1490.5,787.6 L1492.5,787.6 L1494.5,787.6 L1496.5,787.6 L1498.5,787.6 L1500.5,787.6 L1502.5,787.6 L1504.5,787.6 L1506.5,787.6 L1508.5,787.6 L1510.5,787.6 L1512.5,787.6 L1514.5,787.6 L1516.5,787.6 L1518.5,787.6 L1520.5,787.6 L1522.5,787.6 L1524.5,787.6 L1526.5,787.6 L1528.5,787.6 L1530.5,787.6 L1532.5,787.6 L1534.5,787.6 L1536.5,787.6 L1538.5,787.6 L1540.5,787.6 L1542.5,787.6 L1544.5,787.6 L1546.5,787.6 L1548.5,787.6 L1550.5,787.6 L1552.5,787.6 L1554.5,787.6 L1556.5,787.6 L1558.5,787.6 L1560.5,787.6 L1562.5,787.6 L1564.5,787.6 L1566.5,787.6 L1568.5,787.6 L1570.5,787.6 L1572.5,787.6 L1574.5,787.6 L1576.5,787.6 L1578.5,787.6 L1580.5,787.6 L1582.5,787.6 L1584.5,787.6 L1586.5,787.6 L1588.5,787.6 L1590.5,787.6 L1592.5,787.6 L1594.5,787.6 L1596.5,787.6 L1598.5,787.6 L1600.5,787.6 L1602.5,787.6 L1604.5,787.6 L1606.5,787.6 L1608.5,787.6 L1610.5,787.6 L1612.5,787.6 L1614.5,787.6 L1616.5,787.6 L1618.5,787.6 L1620.5,787.6 L1622.5,787.6 L1624.5,787.6 L1626.5,787.6 L1628.5,787.6 L1630.5,787.6 L1631,787.6" stroke="#FD8A76"/>
<path d="M322.5,787.6 L324.5,787.6 L326.5,787.6 L328.5,787.6 L330.5,787.6 L332.5,787.6 L334.5,787.6 L336.5,787.6 L338.5,787.6 L340.5,787.6 L342.5,787.6 L344.5,787.6 L346.5,787.6 L348.5,787.6 L350.5,787.6 L352.5,787.6 L354.5,787.6 L356.5,787.6 L358.5,787.6 L360.5,787.6 L362.5,787.6 L364.5,787.6 L366.5,787.6 L368.5,787.6 L370.5,787.6 L372.5,787.6 L374.5,787.6 L376.5,787.6 L378.5,787.6 L380.5,787.5 L382.5,787.5 L384.5,787.5 L386.5,787.5 L388.5,787.5 L390.5,787.5 L392.5,787.5 L394.5,787.5 L396.5,787.5 L398.5,787.5 L400.5,787.5 L402.5,787.5 L404.5,787.5 L406.5,787.5 L408.5,787.5 L410.5,787.5 L412.5,787.5 L414.5,787.5 L416.5,787.5 L418.5,787.5 L420.5,787.5 L422.5,787.5 L424.5,787.5 L426.5,787.5 L428.5,787.5 L430.5,787.5 L432.5,787.5 L434.5,787.5 L436.5,787.5 L438.5,787.5 L440.5,787.5 L442.5,787.4 L444.5,787.4 L446.5,787.4 L448.5,787.4 L450.5,787.4 L452.5,787.4 L454.5,787.4 L456.5,787.4 L458.5,787.4 L460.5,787.4 L462.5,787.4 L464.5,787.4 L466.5,787.4 L468.5,787.4 L470.5,787.4 L472.5,787.3 L474.5,787.3 L476.5,787.3 L478.5,787.3 L480.5,787.3 L482.5,787.3 L484.5,787.3 L486.5,787.3 L488.5,787.3 L490.5,787.3 L492.5,787.2 L494.5,787.2 L496.5,787.2 L498.5,787.2 L500.5,787.2 L502.5,787.2 L504.5,787.2 L506.5,787.2 L508.5,787.1 L510.5,787.1 L512.5,787.1 L514.5,787.1 L516.5,787.1 L518.5,787.1 L520.5,787 L522.5,787 L524.5,787 L526.5,787 L528.5,787 L530.5,787 L532.5,786.9 L534.5,786.9 L536.5,786.9 L538.5,786.9 L540.5,786.8 L542.5,786.8 L544.5,786.8 L546.5,786.8 L548.5,786.7 L550.5,786.7 L552.5,786.7 L554.5,786.7 L556.5,786.6 L558.5,786.6 L560.5,786.6 L562.5,786.6 L564.5,786.5 L566.5,786.5 L568.5,786.5 L570.5,786.4 L572.5,786.4 L574.5,786.4 L576.5,786.3 L578.5,786.3 L580.5,786.2 L582.5,786.2 L584.5,786.2 L586.5,786.1 L588.5,786.1 L590.5,786 L592.5,786 L594.5,785.9 L596.5,785.9 L598.5,785.8 L600.5,785.8 L602.5,785.7 L604.5,785.7 L606.5,785.6 L608.5,785.6 L610.5,785.5 L612.5,785.5 L614.5,785.4 L616.5,785.4 L618.5,785.3 L620.5,785.2 L622.5,785.2 L624.5,785.1 L626.5,785 L628.5,785 L630.5,784.9 L632.5,784.8 L634.5,784.8 L636.5,784.7 L638.5,784.6 L640.5,784.5 L642.5,784.4 L644.5,784.4 L646.5,784.3 L648.5,784.2 L650.5,784.1 L652.5,784 L654.5,783.9 L656.5,783.8 L658.5,783.7 L660.5,783.6 L662.5,783.5 L664.5,783.4 L666.5,783.3 L668.5,783.2 L670.5,783.1 L672.5,783 L674.5,782.9 L676.5,782.8 L678.5,782.6 L680.5,782.5 L682.5,782.4 L684.5,782.3 L686.5,782.1 L688.5,782 L690.5,781.9 L692.5,781.7 L694.5,781.6 L696.5,781.4 L698.5,781.3 L700.5,781.1 L702.5,781 L704.5,780.8 L706.5,780.7 L708.5,780.5 L710.5,780.3 L712.5,780.2 L714.5,780 L716.5,779.8 L718.5,779.7 L720.5,779.5 L722.5,779.3 L724.5,779.1 L726.5,778.9 L728.5,778.7 L730.5,778.5 L732.5,778.3 L734.5,778.1 L736.5,777.9 L738.5,777.7 L740.5,777.5 L742.5,777.2 L744.5,777 L746.5,776.8 L748.5,776.5 L750.5,776.3 L752.5,776.1 L754.5,775.8 L756.5,775.6 L758.5,775.3 L760.5,775 L762.5,774.8 L764.5,774.5 L766.5,774.2 L768.5,774 L770.5,773.7 L772.5,773.4 L774.5,773.1 L776.5,772.8 L778.5,772.5 L780.5,772.2 L782.5,771.9 L784.5,771.6 L786.5,771.3 L788.5,770.9 L790.5,770.6 L792.5,770.3 L794.5,769.9 L796.5,769.6 L798.5,769.2 L800.5,768.9 L802.5,768.5 L804.5,768.1 L806.5,767.8 L808.5,767.4 L810.5,767 L812.5,766.6 L814.5,766.2 L816.5,765.8 L818.5,765.4 L820.5,765 L822.5,764.6 L824.5,764.2 L826.5,763.7 L828.5,763.3 L830.5,762.9 L832.5,762.4 L834.5,762 L836.5,761.5 L838.5,761 L840.5,760.6 L842.5,760.1 L844.5,759.6 L846.5,759.1 L848.5,758.6 L850.5,758.1 L852.5,757.6 L854.5,757.1 L856.5,756.6 L858.5,756.1 L860.5,755.5 L862.5,755 L864.5,754.5 L866.5,753.9 L868.5,753.4 L870.5,752.8 L872.5,752.2 L874.5,751.7 L876.5,751.1 L878.5,750.5 L880.5,749.9 L882.5,749.3 L884.5,748.7 L886.5,748.1 L888.5,747.5 L890.5,746.9 L892.5,746.2 L894.5,745.6 L896.5,744.9 L898.5,744.3 L900.5,743.6 L902.5,743 L904.5,742.3 L906.5,741.7 L908.5,741 L910.5,740.3 L912.5,739.6 L914.5,738.9 L916.5,738.2 L918.5,737.5 L920.5,736.8 L922.5,736.1 L924.5,735.3 L926.5,734.6 L928.5,733.9 L930.5,733.1 L932.5,732.4 L934.5,731.6 L936.5,730.9 L938.5,730.1 L940.5,729.4 L942.5,728.6 L944.5,727.8 L946.5,727 L948.5,726.2 L950.5,725.4 L952.5,724.6 L954.5,723.8 L956.5,723 L958.5,722.2 L960.5,721.4 L962.5,720.6 L964.5,719.7 L966.5,718.9 L968.5,718.1 L970.5,717.2 L972.5,716.4 L974.5,715.6 L976.5,714.7 L978.5,713.8 L980.5,713 L982.5,712.1 L984.5,711.3 L986.5,710.4 L988.5,709.5 L990.5,708.6 L992.5,707.8 L994.5,706.9 L996.5,706 L998.5,705.1 L1000.5,704.2 L1002.5,703.3 L1004.5,702.4 L1006.5,701.5 L1008.5,700.6 L1010.5,699.7 L1012.5,698.8 L1014.5,697.9 L1016.5,697 L1018.5,696.1 L1020.5,695.2 L1022.5,694.3 L1024.5,693.4 L1026.5,692.5 L1028.5,691.6 L1030.5,690.7 L1032.5,689.8 L1034.5,688.8 L1036.5,687.9 L1038.5,687 L1040.5,686.1 L1042.5,685.2 L1044.5,684.3 L1046.5,683.4 L1048.5,682.5 L1050.5,681.6 L1052.5,680.6 L1054.5,679.7 L1056.5,678.8 L1058.5,677.9 L1060.5,677 L1062.5,676.1 L1064.5,675.2 L1066.5,674.3 L1068.5,673.5 L1070.5,672.6 L1072.5,671.7 L1074.5,670.8 L1076.5,669.9 L1078.5,669 L1080.5,668.2 L1082.5,667.3 L1084.5,666.4 L1086.5,665.6 L1088.5,664.7 L1090.5,663.9 L1092.5,663 L1094.5,662.2 L1096.5,661.4 L1098.5,660.5 L1100.5,659.7 L1102.5,658.9 L1104.5,658.1 L1106.5,657.3 L1108.5,656.5 L1110.5,655.7 L1112.5,654.9 L1114.5,654.1 L1116.5,653.3 L1118.5,652.5 L1120.5,651.8 L1122.5,651 L1124.5,650.3 L1126.5,649.5 L1128.5,648.8 L1130.5,648.1 L1132.5,647.4 L1134.5,646.7 L1136.5,646 L1138.5,645.3 L1140.5,644.6 L1142.5,643.9 L1144.5,643.2 L1146.5,642.6 L1148.5,641.9 L1150.5,641.3 L1152.5,640.7 L1154.5,640.1 L1156.5,639.5 L1158.5,638.9 L1160.5,638.3 L1162.5,637.7 L1164.5,637.1 L1166.5,636.6 L1168.5,636 L1170.5,635.5 L1172.5,635 L1174.5,634.5 L1176.5,634 L1178.5,633.5 L1180.5,633 L1182.5,632.6 L1184.5,632.1 L1186.5,631.7 L1188.5,631.2 L1190.5,630.8 L1192.5,630.4 L1194.5,630 L1196.5,629.7 L1198.5,629.3 L1200.5,628.9 L1202.5,628.6 L1204.5,628.3 L1206.5,627.9 L1208.5,627.6 L1210.5,627.4 L1212.5,627.1 L1214.5,626.8 L1216.5,626.6 L1218.5,626.3 L1220.5,626.1 L1222.5,625.9 L1224.5,625.7 L1226.5,625.5 L1228.5,625.4 L1230.5,625.2 L1232.5,625.1 L1234.5,624.9 L1236.5,624.8 L1238.5,624.7 L1240.5,624.6 L1242.5,624.6 L1244.5,624.5 L1246.5,624.5 L1248.5,624.4 L1250.5,624.4 L1252.5,624.4 L1254.5,624.4 L1256.5,624.4 L1258.5,624.5 L1260.5,624.5 L1262.5,624.6 L1264.5,624.7 L1266.5,624.8 L1268.5,624.9 L1270.5,625 L1272.5,625.1 L1274.5,625.3 L1276.5,625.4 L1278.5,625.6 L1280.5,625.8 L1282.5,626 L1284.5,626.2 L1286.5,626.4 L1288.5,626.7 L1290.5,626.9 L1292.5,627.2 L1294.5,627.5 L1296.5,627.8 L1298.5,628.1 L1300.5,628.4 L1302.5,628.8 L1304.5,629.1 L1306.5,629.5 L1308.5,629.8 L1310.5,630.2 L1312.5,630.6 L1314.5,631 L1316.5,631.5 L1318.5,631.9 L1320.5,632.3 L1322.5,632.8 L1324.5,633.3 L1326.5,633.7 L1328.5,634.2 L1330.5,634.7 L1332.5,635.3 L1334.5,635.8 L1336.5,636.3 L1338.5,636.9 L1340.5,637.4 L1342.5,638 L1344.5,638.6 L1346.5,639.2 L1348.5,639.8 L1350.5,640.4 L1352.5,641 L1354.5,641.6 L1356.5,642.3 L1358.5,642.9 L1360.5,643.6 L1362.5,644.2 L1364.5,644.9 L1366.5,645.6 L1368.5,646.3 L1370.5,647 L1372.5,647.7 L1374.5,648.4 L1376.5,649.2 L1378.5,649.9 L1380.5,650.6 L1382.5,651.4 L1384.5,652.2 L1386.5,652.9 L1388.5,653.7 L1390.5,654.5 L1392.5,655.3 L1394.5,656.1 L1396.5,656.9 L1398.5,657.7 L1400.5,658.5 L1402.5,659.3 L1404.5,660.1 L1406.5,660.9 L1408.5,661.8 L1410.5,662.6 L1412.5,663.5 L1414.5,664.3 L1416.5,665.2 L1418.5,666 L1420.5,666.9 L1422.5,667.7 L1424.5,668.6 L1426.5,669.5 L1428.5,670.4 L1430.5,671.2 L1432.5,672.1 L1434.5,673 L1436.5,673.9 L1438.5,674.8 L1440.5,675.7 L1442.5,676.6 L1444.5,677.5 L1446.5,678.4 L1448.5,679.3 L1450.5,680.2 L1452.5,681.1 L1454.5,682 L1456.5,682.9 L1458.5,683.8 L1460.5,684.7 L1462.5,685.7 L1464.5,686.6 L1466.5,687.5 L1468.5,688.4 L1470.5,689.3 L1472.5,690.2 L1474.5,691.1 L1476.5,692 L1478.5,692.9 L1480.5,693.9 L1482.5,694.8 L1484.5,695.7 L1486.5,696.6 L1488.5,697.5 L1490.5,698.4 L1492.5,699.3 L1494.5,700.2 L1496.5,701.1 L1498.5,702 L1500.5,702.9 L1502.5,703.8 L1504.5,704.7 L1506.5,705.6 L1508.5,706.4 L1510.5,707.3 L1512.5,708.2 L1514.5,709.1 L1516.5,710 L1518.5,710.8 L1520.5,711.7 L1522.5,712.6 L1524.5,713.4 L1526.5,714.3 L1528.5,715.1 L1530.5,716 L1532.5,716.8 L1534.5,717.7 L1536.5,718.5 L1538.5,719.3 L1540.5,720.2 L1542.5,721 L1544.5,721.8 L1546.5,722.6 L1548.5,723.4 L1550.5,724.2 L1552.5,725 L1554.5,725.8 L1556.5,726.6 L1558.5,727.4 L1560.5,728.2 L1562.5,729 L1564.5,729.7 L1566.5,730.5 L1568.5,731.3 L1570.5,732 L1572.5,732.8 L1574.5,733.5 L1576.5,734.2 L1578.5,735 L1580.5,735.7 L1582.5,736.4 L1584.5,737.1 L1586.5,737.9 L1588.5,738.6 L1590.5,739.3 L1592.5,739.9 L1594.5,740.6 L1596.5,741.3 L1598.5,742 L1600.5,742.7 L1602.5,743.3 L1604.5,744 L1606.5,744.6 L1608.5,745.3 L1610.5,745.9 L1612.5,746.5 L1614.5,747.2 L1616.5,747.8 L1618.5,748.4 L1620.5,749 L1622.5,749.6 L1624.5,750.2 L1626.5,750.8 L1628.5,751.4 L1630.5,751.9 L1631,752.1" stroke="#50A8D5"/>
<path d="M322.5,783.5 L324.5,783.1 L326.5,782.8 L328.5,782.4 L330.5,782 L332.5,781.6 L334.5,781.1 L336.5,780.6 L338.5,780 L340.5,779.5 L342.5,778.9 L344.5,778.2 L346.5,777.5 L348.5,776.8 L350.5,776 L352.5,775.1 L354.5,774.2 L356.5,773.3 L358.5,772.3 L360.5,771.2 L362.5,770.1 L364.5,768.9 L366.5,767.7 L368.5,766.3 L370.5,765 L372.5,763.5 L374.5,761.9 L376.5,760.3 L378.5,758.6 L380.5,756.8 L382.5,755 L384.5,753 L386.5,751 L388.5,748.8 L390.5,746.6 L392.5,744.3 L394.5,741.9 L396.5,739.3 L398.5,736.7 L400.5,734 L402.5,731.2 L404.5,728.3 L406.5,725.3 L408.5,722.2 L410.5,718.9 L412.5,715.6 L414.5,712.2 L416.5,708.7 L418.5,705.1 L420.5,701.4 L422.5,697.6 L424.5,693.7 L426.5,689.7 L428.5,685.6 L430.5,681.5 L432.5,677.2 L434.5,672.9 L436.5,668.6 L438.5,664.1 L440.5,659.6 L442.5,655 L444.5,650.4 L446.5,645.8 L448.5,641.1 L450.5,636.3 L452.5,631.6 L454.5,626.8 L456.5,622 L458.5,617.2 L460.5,612.4 L462.5,607.6 L464.5,602.8 L466.5,598 L468.5,593.2 L470.5,588.5 L472.5,583.9 L474.5,579.3 L476.5,574.7 L478.5,570.2 L480.5,565.8 L482.5,561.4 L484.5,557.2 L486.5,553 L488.5,549 L490.5,545 L492.5,541.1 L494.5,537.4 L496.5,533.8 L498.5,530.3 L500.5,527 L502.5,523.8 L504.5,520.7 L506.5,517.9 L508.5,515.2 L510.5,512.7 L512.5,510.3 L514.5,508.1 L516.5,506.1 L518.5,504.2 L520.5,502.5 L522.5,500.9 L524.5,499.4 L526.5,498.1 L528.5,496.9 L530.5,495.8 L532.5,494.9 L534.5,494.1 L536.5,493.4 L538.5,492.9 L540.5,492.4 L542.5,492.1 L544.5,491.9 L546.5,491.8 L548.5,491.7 L550.5,491.8 L552.5,491.9 L554.5,492 L556.5,492.3 L558.5,492.6 L560.5,492.9 L562.5,493.3 L564.5,493.8 L566.5,494.3 L568.5,494.8 L570.5,495.4 L572.5,496 L574.5,496.7 L576.5,497.3 L578.5,498 L580.5,498.7 L582.5,499.3 L584.5,500 L586.5,500.7 L588.5,501.3 L590.5,501.9 L592.5,502.5 L594.5,503.1 L596.5,503.7 L598.5,504.2 L600.5,504.7 L602.5,505.1 L604.5,505.5 L606.5,505.8 L608.5,506.2 L610.5,506.4 L612.5,506.6 L614.5,506.8 L616.5,506.9 L618.5,507 L620.5,507.1 L622.5,507.1 L624.5,507.1 L626.5,507 L628.5,506.9 L630.5,506.8 L632.5,506.7 L634.5,506.5 L636.5,506.3 L638.5,506.1 L640.5,505.8 L642.5,505.5 L644.5,505.2 L646.5,504.9 L648.5,504.5 L650.5,504.1 L652.5,503.8 L654.5,503.4 L656.5,503 L658.5,502.6 L660.5,502.2 L662.5,501.8 L664.5,501.4 L666.5,501 L668.5,500.7 L670.5,500.3 L672.5,500 L674.5,499.7 L676.5,499.5 L678.5,499.2 L680.5,499 L682.5,498.8 L684.5,498.7 L686.5,498.6 L688.5,498.6 L690.5,498.6 L692.5,498.6 L694.5,498.7 L696.5,498.9 L698.5,499 L700.5,499.3 L702.5,499.6 L704.5,500 L706.5,500.4 L708.5,500.8 L710.5,501.4 L712.5,501.9 L714.5,502.6 L716.5,503.3 L718.5,504.1 L720.5,504.9 L722.5,505.8 L724.5,506.7 L726.5,507.7 L728.5,508.8 L730.5,509.9 L732.5,511.1 L734.5,512.4 L736.5,513.7 L738.5,515 L740.5,516.5 L742.5,517.9 L744.5,519.5 L746.5,521.1 L748.5,522.7 L750.5,524.4 L752.5,526.1 L754.5,527.9 L756.5,529.8 L758.5,531.7 L760.5,533.6 L762.5,535.6 L764.5,537.6 L766.5,539.7 L768.5,541.8 L770.5,543.9 L772.5,546.1 L774.5,548.3 L776.5,550.5 L778.5,552.8 L780.5,555.1 L782.5,557.4 L784.5,559.7 L786.5,562.1 L788.5,564.5 L790.5,566.9 L792.5,569.3 L794.5,571.8 L796.5,574.2 L798.5,576.7 L800.5,579.2 L802.5,581.6 L804.5,584.1 L806.5,586.6 L808.5,589.1 L810.5,591.6 L812.5,594.1 L814.5,596.6 L816.5,599.1 L818.5,601.5 L820.5,604 L822.5,606.5 L824.5,608.9 L826.5,611.3 L828.5,613.8 L830.5,616.2 L832.5,618.6 L834.5,620.9 L836.5,623.3 L838.5,625.6 L840.5,627.9 L842.5,630.2 L844.5,632.4 L846.5,634.6 L848.5,636.8 L850.5,639 L852.5,641.1 L854.5,643.2 L856.5,645.3 L858.5,647.3 L860.5,649.3 L862.5,651.3 L864.5,653.2 L866.5,655.1 L868.5,657 L870.5,658.8 L872.5,660.6 L874.5,662.3 L876.5,664 L878.5,665.7 L880.5,667.3 L882.5,668.9 L884.5,670.5 L886.5,672 L888.5,673.4 L890.5,674.8 L892.5,676.2 L894.5,677.5 L896.5,678.8 L898.5,680.1 L900.5,681.3 L902.5,682.5 L904.5,683.6 L906.5,684.7 L908.5,685.7 L910.5,686.7 L912.5,687.7 L914.5,688.6 L916.5,689.4 L918.5,690.3 L920.5,691.1 L922.5,691.8 L924.5,692.5 L926.5,693.2 L928.5,693.8 L930.5,694.4 L932.5,695 L934.5,695.5 L936.5,696 L938.5,696.4 L940.5,696.8 L942.5,697.2 L944.5,697.5 L946.5,697.8 L948.5,698 L950.5,698.3 L952.5,698.4 L954.5,698.6 L956.5,698.7 L958.5,698.8 L960.5,698.9 L962.5,698.9 L964.5,698.9 L966.5,698.9 L968.5,698.8 L970.5,698.7 L972.5,698.6 L974.5,698.5 L976.5,698.3 L978.5,698.1 L980.5,697.9 L982.5,697.6 L984.5,697.3 L986.5,697 L988.5,696.7 L990.5,696.4 L992.5,696 L994.5,695.6 L996.5,695.2 L998.5,694.8 L1000.5,694.4 L1002.5,693.9 L1004.5,693.4 L1006.5,692.9 L1008.5,692.4 L1010.5,691.9 L1012.5,691.3 L1014.5,690.7 L1016.5,690.2 L1018.5,689.6 L1020.5,689 L1022.5,688.3 L1024.5,687.7 L1026.5,687.1 L1028.5,686.4 L1030.5,685.7 L1032.5,685.1 L1034.5,684.4 L1036.5,683.7 L1038.5,683 L1040.5,682.3 L1042.5,681.5 L1044.5,680.8 L1046.5,680.1 L1048.5,679.3 L1050.5,678.6 L1052.5,677.8 L1054.5,677.1 L1056.5,676.3 L1058.5,675.5 L1060.5,674.7 L1062.5,674 L1064.5,673.2 L1066.5,672.4 L1068.5,671.6 L1070.5,670.8 L1072.5,670 L1074.5,669.2 L1076.5,668.4 L1078.5,667.6 L1080.5,666.8 L1082.5,666 L1084.5,665.3 L1086.5,664.5 L1088.5,663.7 L1090.5,662.9 L1092.5,662.1 L1094.5,661.3 L1096.5,660.5 L1098.5,659.7 L1100.5,658.9 L1102.5,658.2 L1104.5,657.4 L1106.5,656.6 L1108.5,655.9 L1110.5,655.1 L1112.5,654.3 L1114.5,653.6 L1116.5,652.8 L1118.5,652.1 L1120.5,651.4 L1122.5,650.6 L1124.5,649.9 L1126.5,649.2 L1128.5,648.5 L1130.5,647.8 L1132.5,647.1 L1134.5,646.4 L1136.5,645.7 L1138.5,645 L1140.5,644.4 L1142.5,643.7 L1144.5,643.1 L1146.5,642.4 L1148.5,641.8 L1150.5,641.2 L1152.5,640.5 L1154.5,639.9 L1156.5,639.3 L1158.5,638.7 L1160.5,638.2 L1162.5,637.6 L1164.5,637 L1166.5,636.5 L1168.5,636 L1170.5,635.4 L1172.5,634.9 L1174.5,634.4 L1176.5,633.9 L1178.5,633.4 L1180.5,633 L1182.5,632.5 L1184.5,632.1 L1186.5,631.6 L1188.5,631.2 L1190.5,630.8 L1192.5,630.4 L1194.5,630 L1196.5,629.6 L1198.5,629.3 L1200.5,628.9 L1202.5,628.6 L1204.5,628.2 L1206.5,627.9 L1208.5,627.6 L1210.5,627.3 L1212.5,627.1 L1214.5,626.8 L1216.5,626.6 L1218.5,626.3 L1220.5,626.1 L1222.5,625.9 L1224.5,625.7 L1226.5,625.5 L1228.5,625.3 L1230.5,625.2 L1232.5,625 L1234.5,624.9 L1236.5,624.8 L1238.5,624.7 L1240.5,624.6 L1242.5,624.6 L1244.5,624.5 L1246.5,624.4 L1248.5,624.4 L1250.5,624.4 L1252.5,624.4 L1254.5,624.4 L1256.5,624.4 L1258.5,624.5 L1260.5,624.5 L1262.5,624.6 L1264.5,624.7 L1266.5,624.8 L1268.5,624.9 L1270.5,625 L1272.5,625.1 L1274.5,625.3 L1276.5,625.4 L1278.5,625.6 L1280.5,625.8 L1282.5,626 L1284.5,626.2 L1286.5,626.4 L1288.5,626.7 L1290.5,626.9 L1292.5,627.2 L1294.5,627.5 L1296.5,627.8 L1298.5,628.1 L1300.5,628.4 L1302.5,628.8 L1304.5,629.1 L1306.5,629.5 L1308.5,629.8 L1310.5,630.2 L1312.5,630.6 L1314.5,631 L1316.5,631.5 L1318.5,631.9 L1320.5,632.3 L1322.5,632.8 L1324.5,633.3 L1326.5,633.7 L1328.5,634.2 L1330.5,634.7 L1332.5,635.3 L1334.5,635.8 L1336.5,636.3 L1338.5,636.9 L1340.5,637.4 L1342.5,638 L1344.5,638.6 L1346.5,639.2 L1348.5,639.8 L1350.5,640.4 L1352.5,641 L1354.5,641.6 L1356.5,642.3 L1358.5,642.9 L1360.5,643.6 L1362.5,644.2 L1364.5,644.9 L1366.5,645.6 L1368.5,646.3 L1370.5,647 L1372.5,647.7 L1374.5,648.4 L1376.5,649.2 L1378.5,649.9 L1380.5,650.6 L1382.5,651.4 L1384.5,652.2 L1386.5,652.9 L1388.5,653.7 L1390.5,654.5 L1392.5,655.3 L1394.5,656.1 L1396.5,656.9 L1398.5,657.7 L1400.5,658.5 L1402.5,659.3 L1404.5,660.1 L1406.5,660.9 L1408.5,661.8 L1410.5,662.6 L1412.5,663.5 L1414.5,664.3 L1416.5,665.2 L1418.5,666 L1420.5,666.9 L1422.5,667.7 L1424.5,668.6 L1426.5,669.5 L1428.5,670.4 L1430.5,671.2 L1432.5,672.1 L1434.5,673 L1436.5,673.9 L1438.5,674.8 L1440.5,675.7 L1442.5,676.6 L1444.5,677.5 L1446.5,678.4 L1448.5,679.3 L1450.5,680.2 L1452.5,681.1 L1454.5,682 L1456.5,682.9 L1458.5,683.8 L1460.5,684.7 L1462.5,685.7 L1464.5,686.6 L1466.5,687.5 L1468.5,688.4 L1470.5,689.3 L1472.5,690.2 L1474.5,691.1 L1476.5,692 L1478.5,692.9 L1480.5,693.9 L1482.5,694.8 L1484.5,695.7 L1486.5,696.6 L1488.5,697.5 L1490.5,698.4 L1492.5,699.3 L1494.5,700.2 L1496.5,701.1 L1498.5,702 L1500.5,702.9 L1502.5,703.8 L1504.5,704.7 L1506.5,705.6 L1508.5,706.4 L1510.5,707.3 L1512.5,708.2 L1514.5,709.1 L1516.5,710 L1518.5,710.8 L1520.5,711.7 L1522.5,712.6 L1524.5,713.4 L1526.5,714.3 L1528.5,715.1 L1530.5,716 L1532.5,716.8 L1534.5,717.7 L1536.5,718.5 L1538.5,719.3 L1540.5,720.2 L1542.5,721 L1544.5,721.8 L1546.5,722.6 L1548.5,723.4 L1550.5,724.2 L1552.5,725 L1554.5,725.8 L1556.5,726.6 L1558.5,727.4 L1560.5,728.2 L1562.5,729 L1564.5,729.7 L1566.5,730.5 L1568.5,731.3 L1570.5,732 L1572.5,732.8 L1574.5,733.5 L1576.5,734.2 L1578.5,735 L1580.5,735.7 L1582.5,736.4 L1584.5,737.1 L1586.5,737.9 L1588.5,738.6 L1590.5,739.3 L1592.5,739.9 L1594.5,740.6 L1596.5,741.3 L1598.5,742 L1600.5,742.7 L1602.5,743.3 L1604.5,744 L1606.5,744.6 L1608.5,745.3 L1610.5,745.9 L1612.5,746.5 L1614.5,747.2 L1616.5,747.8 L1618.5,748.4 L1620.5,749 L1622.5,749.6 L1624.5,750.2 L1626.5,750.8 L1628.5,751.4 L1630.5,751.9 L1631,752.1" stroke="#69F9CE"/>
<path d="M322.5,463.6 L324.6,463.6 L326.6,463.5 L328.6,463.4 L330.7,463.3 L332.7,463.2 L334.7,463 L336.8,462.9 L338.8,462.7 L340.9,462.5 L343,462.3 L345.1,462.1 L347.2,461.9 L349.3,461.7 L351.4,461.4 L353.6,461.1 L355.7,460.8 L357.9,460.4 L360.1,460 L362.3,459.6 L364.5,459 L366.7,458.5 L369,457.8 L371.2,457.1 L373.4,456.2 L375.7,455.3 L377.9,454.3 L380.1,453.2 L382.3,452 L384.5,450.7 L386.7,449.3 L388.8,447.7 L391,446.1 L393.1,444.4 L395.2,442.6 L397.3,440.7 L399.4,438.7 L401.5,436.6 L403.5,434.5 L405.6,432.2 L407.6,429.8 L409.6,427.4 L411.6,424.8 L413.6,422.1 L415.6,419.4 L417.6,416.5 L419.5,413.5 L421.4,410.4 L423.3,407.2 L425,403.8 L426.7,400.2 L428.4,396.6 L430,392.8 L431.6,388.9 L433.2,385 L434.8,380.9 L436.4,376.8 L438.1,372.5 L439.8,368.2 L441.6,363.9 L443.5,359.4 L445.3,354.9 L447.2,350.2 L449.1,345.5 L451,340.7 L452.8,335.7 L454.4,330.6 L455.9,325.4 L457.4,320.1 L458.8,314.6 L460.3,309.2 L461.9,303.7 L463.7,298.3 L465.6,292.8 L467.4,287.2 L469.2,281.6 L471.1,276 L473,270.4 L474.9,264.8 L476.8,259.1 L478.7,253.5 L480.7,247.8 L482.7,242.2 L484.7,236.6 L486.7,231.1 L488.7,225.5 L490.7,220 L492.8,214.6 L494.8,209.2 L496.8,203.9 L498.8,198.7 L500.9,193.6 L503.1,188.6 L505.4,183.7 L507.7,179 L510.1,174.4 L512.6,170 L515.2,165.8 L517.8,161.7 L520.4,157.8 L522.8,153.9 L525.1,150.3 L527.4,146.8 L529.7,143.4 L531.9,140.3 L534.1,137.3 L536.3,134.5 L538.4,131.9 L540.6,129.5 L542.8,127.3 L545,125.4 L547.2,123.7 L549.4,122.2 L551.4,120.9 L553.4,119.6 L555.2,118.4 L557,117.5 L558.7,116.7 L560.5,116.1 L562.2,115.6 L563.8,115.2 L565.5,114.9 L567.2,114.7 L568.8,114.6 L570.5,114.6 L572.3,114.7 L574,114.8 L575.7,115.1 L577.4,115.3 L579.1,115.7 L580.9,116 L582.8,116.2 L584.9,116.3 L587,116.4 L589.2,116.4 L591.5,116.6 L593.9,116.8 L596.2,117 L598.6,117.5 L601.1,117.8 L603.7,118 L606.2,118.2 L608.8,118.7 L611.1,119.4 L613.2,120.5 L615.2,121.8 L617.2,123.1 L619.1,124.4 L621.1,125.7 L623.1,126.9 L625.1,128 L627.2,129.1 L629.2,130 L631.3,130.9 L633.4,131.8 L635.5,132.6 L637.5,133.5 L639.6,134.3 L641.5,135.2 L643.5,136.1 L645.3,137.1 L647.1,138.4 L648.8,139.6 L650.5,141 L652.2,142.3 L654,143.5 L655.8,144.5 L657.7,145.5 L659.6,146.4 L661.4,147.2 L663.3,148.1 L665.2,148.9 L667.2,149.7 L669.1,150.4 L671,151.1 L673,151.8 L674.9,152.5 L676.9,153.2 L678.8,153.8 L680.8,154.5 L682.7,155.2 L684.7,155.9 L686.6,156.6 L688.5,157.3 L690.5,158.1 L692.4,158.9 L694.3,159.7 L696.2,160.6 L698.1,161.6 L699.9,162.6 L701.8,163.6 L703.6,164.6 L705.5,165.7 L707.3,166.7 L709.1,167.8 L710.9,168.8 L712.8,169.8 L714.6,170.8 L716.5,171.7 L718.4,172.6 L720.3,173.4 L722.2,174.3 L724.1,175.2 L726.1,176.2 L728,177.1 L729.9,178.2 L731.8,179.2 L733.8,180.3 L735.7,181.5 L737.6,182.7 L739.6,183.9 L741.5,185.2 L743.5,186.5 L745.4,187.9 L747.4,189.3 L749.3,190.7 L751.3,192.2 L753.3,193.7 L755.2,195.3 L757.2,196.8 L759.2,198.5 L761.2,200.2 L763.1,201.9 L765.1,203.6 L767.1,205.4 L769.1,207.2 L771.2,208.9 L773.3,210.7 L775.5,212.4 L777.7,214.1 L780,215.8 L782.3,217.6 L784.6,219.3 L786.9,221.1 L789.2,222.8 L791.5,224.6 L793.8,226.5 L796.1,228.4 L798.3,230.3 L800.5,232.3 L802.7,234.3 L805,236.3 L807.2,238.4 L809.4,240.4 L811.6,242.4 L813.7,244.5 L815.9,246.6 L818,248.7 L820.1,250.8 L822.2,253 L824.2,255.2 L826.3,257.4 L828.3,259.6 L830.3,261.8 L832.3,264 L834.3,266.1 L836.3,268.3 L838.3,270.4 L840.3,272.6 L842.3,274.7 L844.3,276.8 L846.3,278.9 L848.3,281 L850.3,283 L852.3,285 L854.3,287 L856.3,289 L858.3,291 L860.3,292.9 L862.3,294.8 L864.3,296.7 L866.3,298.5 L868.3,300.3 L870.2,302.1 L872.2,303.9 L874.2,305.6 L876.2,307.2 L878.2,308.9 L880.2,310.5 L882.2,312.1 L884.2,313.6 L886.2,315.1 L888.2,316.6 L890.2,318.1 L892.2,319.5 L894.2,320.9 L896.2,322.2 L898.1,323.5 L900.1,324.8 L902.1,326.1 L904,327.3 L906,328.6 L907.9,329.8 L909.8,331 L911.8,332.2 L913.7,333.4 L915.6,334.6 L917.5,335.7 L919.4,336.8 L921.3,338 L923.2,339 L925.1,340.1 L927,341.1 L928.9,342 L930.8,343 L932.7,343.9 L934.6,344.8 L936.5,345.8 L938.5,346.7 L940.4,347.6 L942.3,348.5 L944.2,349.4 L946.1,350.3 L948.1,351.1 L950,351.9 L952,352.7 L953.9,353.4 L955.9,354.1 L957.9,354.8 L959.9,355.4 L961.9,356 L963.9,356.5 L965.9,357 L967.9,357.5 L969.9,358 L971.9,358.5 L973.9,359 L975.9,359.4 L977.9,359.9 L979.9,360.3 L981.9,360.7 L984,361.1 L986,361.5 L988,361.9 L990.1,362.2 L992.1,362.5 L994.2,362.8 L996.2,363.1 L998.2,363.3 L1000.3,363.5 L1002.3,363.7 L1004.4,363.9 L1006.4,364.1 L1008.5,364.2 L1010.5,364.3 L1012.6,364.4 L1014.6,364.5 L1016.6,364.5 L1018.7,364.5 L1020.7,364.5 L1022.7,364.5 L1024.8,364.4 L1026.8,364.4 L1028.8,364.3 L1030.9,364.2 L1032.9,364.1 L1034.9,364 L1036.9,363.9 L1038.9,363.7 L1040.9,363.6 L1043,363.5 L1045,363.3 L1047,363.1 L1049,363 L1051,362.8 L1053,362.6 L1055,362.4 L1057,362.2 L1059,362 L1061,361.8 L1063,361.6 L1065,361.4 L1066.9,361.2 L1068.9,361 L1070.9,360.8 L1072.9,360.6 L1074.9,360.3 L1076.9,360.1 L1078.9,359.9 L1080.8,359.7 L1082.8,359.4 L1084.8,359.2 L1086.8,359 L1088.8,358.7 L1090.8,358.4 L1092.7,358 L1094.7,357.6 L1096.7,357 L1098.6,356.4 L1100.6,355.7 L1102.6,355 L1104.6,354.2 L1106.5,353.4 L1108.5,352.6 L1110.5,351.8 L1112.5,351 L1114.5,350.2 L1116.5,349.4 L1118.5,348.7 L1120.5,348 L1122.5,347.4 L1124.5,346.9 L1126.5,346.4 L1128.6,346 L1130.6,345.7 L1132.6,345.4 L1134.6,345.1 L1136.7,344.8 L1138.7,344.6 L1140.7,344.4 L1142.8,344.1 L1144.8,344 L1146.9,343.8 L1148.9,343.6 L1151,343.5 L1153,343.4 L1155.1,343.3 L1157.1,343.2 L1159.2,343.1 L1161.2,343 L1163.3,343 L1165.3,343 L1167.4,342.9 L1169.4,342.9 L1171.5,343 L1173.5,343 L1175.6,343 L1177.6,343.1 L1179.7,343.1 L1181.8,343.2 L1183.8,343.2 L1185.9,343.3 L1188,343.4 L1190,343.5 L1192.1,343.6 L1194.1,343.7 L1196.2,343.9 L1198.3,344 L1200.3,344.2 L1202.4,344.4 L1204.5,344.6 L1206.5,344.8 L1208.6,345.1 L1210.6,345.4 L1212.7,345.7 L1214.7,346 L1216.8,346.4 L1218.8,346.7 L1220.8,347.2 L1222.9,347.6 L1224.9,348 L1226.9,348.5 L1228.9,349 L1231,349.5 L1233,350.1 L1235,350.6 L1237,351.2 L1239,351.8 L1241,352.4 L1243,353.1 L1244.9,353.7 L1246.9,354.4 L1248.9,355.1 L1250.9,355.7 L1252.9,356.4 L1254.8,357.1 L1256.8,357.9 L1258.7,358.7 L1260.7,359.6 L1262.6,360.6 L1264.4,361.7 L1266.3,362.9 L1268.1,364.1 L1269.9,365.4 L1271.7,366.7 L1273.5,368.1 L1275.3,369.4 L1277.1,370.9 L1278.9,372.3 L1280.6,373.7 L1282.4,375 L1284.2,376.4 L1286,377.7 L1287.8,379 L1289.6,380.2 L1291.4,381.4 L1293.3,382.4 L1295.1,383.4 L1297,384.4 L1298.9,385.4 L1300.8,386.4 L1302.6,387.3 L1304.5,388.3 L1306.4,389.3 L1308.3,390.3 L1310.1,391.2 L1312,392.2 L1313.9,393.2 L1315.8,394.1 L1317.7,395 L1319.6,395.9 L1321.5,396.8 L1323.4,397.7 L1325.3,398.6 L1327.2,399.4 L1329.1,400.2 L1331.1,401 L1333,401.8 L1335,402.5 L1336.9,403.2 L1338.9,403.9 L1340.9,404.6 L1342.9,405.2 L1344.9,405.8 L1346.9,406.4 L1348.9,406.9 L1350.9,407.5 L1352.9,408.1 L1354.9,408.7 L1356.9,409.3 L1358.9,409.8 L1360.9,410.4 L1362.9,411 L1365,411.5 L1367,412.1 L1369,412.6 L1371,413.2 L1373,413.7 L1375.1,414.2 L1377.1,414.8 L1379.1,415.3 L1381.1,415.8 L1383.2,416.4 L1385.2,416.9 L1387.2,417.4 L1389.3,417.9 L1391.3,418.4 L1393.3,418.9 L1395.4,419.4 L1397.4,419.9 L1399.4,420.4 L1401.5,420.9 L1403.5,421.4 L1405.6,421.8 L1407.6,422.3 L1409.7,422.7 L1411.7,423.1 L1413.8,423.5 L1415.9,423.9 L1417.9,424.2 L1420,424.6 L1422.1,424.9 L1424.2,425.2 L1426.3,425.5 L1428.3,425.8 L1430.4,426.1 L1432.5,426.4 L1434.6,426.6 L1436.7,426.9 L1438.8,427.1 L1440.9,427.4 L1443,427.6 L1445,427.8 L1447.1,428.1 L1449.2,428.3 L1451.3,428.5 L1453.4,428.7 L1455.5,429 L1457.6,429.2 L1459.6,429.4 L1461.7,429.6 L1463.8,429.7 L1465.9,429.9 L1468,430 L1470.1,430.1 L1472.2,430.3 L1474.3,430.3 L1476.4,430.4 L1478.5,430.5 L1480.6,430.6 L1482.7,430.6 L1484.8,430.7 L1486.9,430.7 L1489,430.7 L1491.1,430.8 L1493.2,430.8 L1495.3,430.8 L1497.4,430.9 L1499.4,430.9 L1501.5,431 L1503.6,431 L1505.7,431.1 L1507.7,431.1 L1509.8,431.2 L1511.9,431.3 L1513.9,431.3 L1516,431.4 L1518,431.6 L1520.1,431.7 L1522.1,431.8 L1524.1,431.9 L1526.2,432 L1528.2,432.1 L1530.3,432.3 L1532.3,432.4 L1534.3,432.5 L1536.4,432.6 L1538.4,432.7 L1540.4,432.8 L1542.4,433 L1544.5,433.1 L1546.5,433.2 L1548.5,433.3 L1550.5,433.4 L1552.5,433.5 L1554.6,433.7 L1556.6,433.8 L1558.6,433.9 L1560.6,434 L1562.6,434.1 L1564.6,434.2 L1566.6,434.3 L1568.6,434.4 L1570.6,434.5 L1572.6,434.6 L1574.7,434.7 L1576.7,434.8 L1578.7,434.9 L1580.7,435 L1582.7,435.1 L1584.7,435.2 L1586.7,435.3 L1588.7,435.4 L1590.7,435.5 L1592.7,435.5 L1594.6,435.6 L1596.6,435.7 L1598.6,435.8 L1600.6,435.9 L1602.6,436 L1604.6,436 L1606.6,436.1 L1608.6,436.2 L1610.6,436.3 L1612.6,436.3 L1614.6,436.4 L1616.6,436.5 L1618.6,436.5 L1620.5,436.6 L1622.5,436.6 L1624.5,436.7 L1626.5,436.7 L1628.5,436.8 L1630.5,436.8 L1632.5,436.8 L1633,436.8" stroke="#C07BE3"/>
<path d="M322.5,465.9 L324.5,465.8 L326.5,465.6 L328.5,465.5 L330.5,465.4 L332.5,465.2 L334.5,465 L336.5,464.8 L338.5,464.6 L340.5,464.4 L342.5,464.2 L344.5,463.9 L346.5,463.6 L348.5,463.3 L350.5,463 L352.5,462.6 L354.5,462.2 L356.5,461.8 L358.5,461.4 L360.5,460.9 L362.5,460.4 L364.5,459.9 L366.5,459.3 L368.5,458.7 L370.5,458 L372.5,457.3 L374.5,456.6 L376.5,455.8 L378.5,454.9 L380.5,454 L382.5,453.1 L384.5,452 L386.5,451 L388.5,449.8 L390.5,448.6 L392.5,447.4 L394.5,446 L396.5,444.6 L398.5,443.2 L400.5,441.6 L402.5,440 L404.5,438.3 L406.5,436.5 L408.5,434.7 L410.5,432.7 L412.5,430.7 L414.5,428.6 L416.5,426.4 L418.5,424.1 L420.5,421.7 L422.5,419.3 L424.5,416.7 L426.5,414.1 L428.5,411.3 L430.5,408.5 L432.5,405.6 L434.5,402.6 L436.5,399.5 L438.5,396.4 L440.5,393.1 L442.5,389.8 L444.5,386.4 L446.5,383 L448.5,379.4 L450.5,375.8 L452.5,372.1 L454.5,368.4 L456.5,364.6 L458.5,360.8 L460.5,356.9 L462.5,353 L464.5,349.1 L466.5,345.1 L468.5,341.1 L470.5,337.1 L472.5,333.1 L474.5,329 L476.5,325 L478.5,321 L480.5,317.1 L482.5,313.1 L484.5,309.2 L486.5,305.4 L488.5,301.6 L490.5,297.9 L492.5,294.2 L494.5,290.6 L496.5,287.1 L498.5,283.7 L500.5,280.4 L502.5,277.2 L504.5,274.2 L506.5,271.3 L508.5,268.5 L510.5,265.8 L512.5,263.3 L514.5,260.9 L516.5,258.7 L518.5,256.7 L520.5,254.8 L522.5,253.2 L524.5,251.7 L526.5,250.3 L528.5,249.2 L530.5,248.3 L532.5,247.5 L534.5,247 L536.5,246.7 L538.5,246.5 L540.5,246.6 L542.5,246.8 L544.5,247.3 L546.5,247.9 L548.5,248.7 L550.5,249.8 L552.5,251 L554.5,252.4 L556.5,254 L558.5,255.8 L560.5,257.7 L562.5,259.8 L564.5,262.1 L566.5,264.5 L568.5,267.1 L570.5,269.8 L572.5,272.7 L574.5,275.7 L576.5,278.8 L578.5,282.1 L580.5,285.4 L582.5,288.9 L584.5,292.4 L586.5,296 L588.5,299.7 L590.5,303.5 L592.5,307.3 L594.5,311.2 L596.5,315.1 L598.5,319.1 L600.5,323 L602.5,327 L604.5,331.1 L606.5,335.1 L608.5,339.1 L610.5,343.1 L612.5,347.1 L614.5,351 L616.5,355 L618.5,358.9 L620.5,362.7 L622.5,366.5 L624.5,370.3 L626.5,374 L628.5,377.6 L630.5,381.2 L632.5,384.7 L634.5,388.1 L636.5,391.5 L638.5,394.8 L640.5,398 L642.5,401.1 L644.5,404.1 L646.5,407.1 L648.5,409.9 L650.5,412.7 L652.5,415.4 L654.5,418 L656.5,420.5 L658.5,422.9 L660.5,425.2 L662.5,427.5 L664.5,429.6 L666.5,431.7 L668.5,433.7 L670.5,435.6 L672.5,437.4 L674.5,439.2 L676.5,440.8 L678.5,442.4 L680.5,443.9 L682.5,445.4 L684.5,446.7 L686.5,448 L688.5,449.2 L690.5,450.4 L692.5,451.5 L694.5,452.6 L696.5,453.5 L698.5,454.5 L700.5,455.3 L702.5,456.2 L704.5,456.9 L706.5,457.7 L708.5,458.4 L710.5,459 L712.5,459.6 L714.5,460.2 L716.5,460.7 L718.5,461.2 L720.5,461.6 L722.5,462 L724.5,462.4 L726.5,462.8 L728.5,463.2 L730.5,463.5 L732.5,463.8 L734.5,464 L736.5,464.3 L738.5,464.5 L740.5,464.7 L742.5,464.9 L744.5,465.1 L746.5,465.3 L748.5,465.4 L750.5,465.6 L752.5,465.7 L754.5,465.8 L756.5,465.9 L758.5,466 L760.5,466.1 L762.5,466.2 L764.5,466.3 L766.5,466.4 L768.5,466.4 L770.5,466.5 L772.5,466.5 L774.5,466.6 L776.5,466.6 L778.5,466.7 L780.5,466.7 L782.5,466.7 L784.5,466.8 L786.5,466.8 L788.5,466.8 L790.5,466.8 L792.5,466.8 L794.5,466.9 L796.5,466.9 L798.5,466.9 L800.5,466.9 L802.5,466.9 L804.5,466.9 L806.5,466.9 L808.5,466.9 L810.5,466.9 L812.5,467 L814.5,467 L816.5,467 L818.5,467 L820.5,467 L822.5,467 L824.5,467 L826.5,467 L828.5,467 L830.5,467 L832.5,467 L834.5,467 L836.5,467 L838.5,467 L840.5,467 L842.5,467 L844.5,467 L846.5,467 L848.5,467 L850.5,467 L852.5,467 L854.5,467 L856.5,467 L858.5,467 L860.5,467 L862.5,467 L864.5,467 L866.5,467 L868.5,467 L870.5,467 L872.5,467 L874.5,467 L876.5,467 L878.5,467 L880.5,467 L882.5,467 L884.5,467 L886.5,467 L888.5,467 L890.5,467 L892.5,467 L894.5,467 L896.5,467 L898.5,467 L900.5,467 L902.5,467 L904.5,467 L906.5,467 L908.5,467 L910.5,467 L912.5,467 L914.5,467 L916.5,467 L918.5,467 L920.5,467 L922.5,467 L924.5,467 L926.5,467 L928.5,467 L930.5,467 L932.5,467 L934.5,467 L936.5,467 L938.5,467 L940.5,467 L942.5,467 L944.5,467 L946.5,467 L948.5,467 L950.5,467 L952.5,467 L954.5,467 L956.5,467 L958.5,467 L960.5,467 L962.5,467 L964.5,467 L966.5,467 L968.5,467 L970.5,467 L972.5,467 L974.5,467 L976.5,467 L978.5,467 L980.5,467 L982.5,467 L984.5,467 L986.5,467 L988.5,467 L990.5,467 L992.5,467 L994.5,467 L996.5,467 L998.5,467 L1000.5,467 L1002.5,467 L1004.5,467 L1006.5,467 L1008.5,467 L1010.5,467 L1012.5,467 L1014.5,467 L1016.5,467 L1018.5,467 L1020.5,467 L1022.5,467 L1024.5,467 L1026.5,467 L1028.5,467 L1030.5,467 L1032.5,467 L1034.5,467 L1036.5,467 L1038.5,467 L1040.5,467 L1042.5,467 L1044.5,467 L1046.5,467 L1048.5,467 L1050.5,467 L1052.5,467 L1054.5,467 L1056.5,467 L1058.5,467 L1060.5,467 L1062.5,467 L1064.5,467 L1066.5,467 L1068.5,467 L1070.5,467 L1072.5,467 L1074.5,467 L1076.5,467 L1078.5,467 L1080.5,467 L1082.5,467 L1084.5,467 L1086.5,467 L1088.5,467 L1090.5,467 L1092.5,467 L1094.5,467 L1096.5,467 L1098.5,467 L1100.5,467 L1102.5,467 L1104.5,467 L1106.5,467 L1108.5,467 L1110.5,467 L1112.5,467 L1114.5,467 L1116.5,467 L1118.5,467 L1120.5,467 L1122.5,467 L1124.5,467 L1126.5,467 L1128.5,467 L1130.5,467 L1132.5,467 L1134.5,467 L1136.5,467 L1138.5,467 L1140.5,467 L1142.5,467 L1144.5,467 L1146.5,467 L1148.5,467 L1150.5,467 L1152.5,467 L1154.5,467 L1156.5,467 L1158.5,467 L1160.5,467 L1162.5,467 L1164.5,467 L1166.5,467 L1168.5,467 L1170.5,467 L1172.5,467 L1174.5,467 L1176.5,467 L1178.5,467 L1180.5,467 L1182.5,467 L1184.5,467 L1186.5,467 L1188.5,467 L1190.5,467 L1192.5,467 L1194.5,467 L1196.5,467 L1198.5,467 L1200.5,467 L1202.5,467 L1204.5,467 L1206.5,467 L1208.5,467 L1210.5,467 L1212.5,467 L1214.5,467 L1216.5,467 L1218.5,467 L1220.5,467 L1222.5,467 L1224.5,467 L1226.5,467 L1228.5,467 L1230.5,467 L1232.5,467 L1234.5,467 L1236.5,467 L1238.5,467 L1240.5,467 L1242.5,467 L1244.5,467 L1246.5,467 L1248.5,467 L1250.5,467 L1252.5,467 L1254.5,467 L1256.5,467 L1258.5,467 L1260.5,467 L1262.5,467 L1264.5,467 L1266.5,467 L1268.5,467 L1270.5,467 L1272.5,467 L1274.5,467 L1276.5,467 L1278.5,467 L1280.5,467 L1282.5,467 L1284.5,467 L1286.5,467 L1288.5,467 L1290.5,467 L1292.5,467 L1294.5,467 L1296.5,467 L1298.5,467 L1300.5,467 L1302.5,467 L1304.5,467 L1306.5,467 L1308.5,467 L1310.5,467 L1312.5,467 L1314.5,467 L1316.5,467 L1318.5,467 L1320.5,467 L1322.5,467 L1324.5,467 L1326.5,467 L1328.5,467 L1330.5,467 L1332.5,467 L1334.5,467 L1336.5,467 L1338.5,467 L1340.5,467 L1342.5,467 L1344.5,467 L1346.5,467 L1348.5,467 L1350.5,467 L1352.5,467 L1354.5,467 L1356.5,467 L1358.5,467 L1360.5,467 L1362.5,467 L1364.5,467 L1366.5,467 L1368.5,467 L1370.5,467 L1372.5,467 L1374.5,467 L1376.5,467 L1378.5,467 L1380.5,467 L1382.5,467 L1384.5,467 L1386.5,467 L1388.5,467 L1390.5,467 L1392.5,467 L1394.5,467 L1396.5,467 L1398.5,467 L1400.5,467 L1402.5,467 L1404.5,467 L1406.5,467 L1408.5,467 L1410.5,467 L1412.5,467 L1414.5,467 L1416.5,467 L1418.5,467 L1420.5,467 L1422.5,467 L1424.5,467 L1426.5,467 L1428.5,467 L1430.5,467 L1432.5,467 L1434.5,467 L1436.5,467 L1438.5,467 L1440.5,467 L1442.5,467 L1444.5,467 L1446.5,467 L1448.5,467 L1450.5,467 L1452.5,467 L1454.5,467 L1456.5,467 L1458.5,467 L1460.5,467 L1462.5,467 L1464.5,467 L1466.5,467 L1468.5,467 L1470.5,467 L1472.5,467 L1474.5,467 L1476.5,467 L1478.5,467 L1480.5,467 L1482.5,467 L1484.5,467 L1486.5,467 L1488.5,467 L1490.5,467 L1492.5,467 L1494.5,467 L1496.5,467 L1498.5,467 L1500.5,467 L1502.5,467 L1504.5,467 L1506.5,467 L1508.5,467 L1510.5,467 L1512.5,467 L1514.5,467 L1516.5,467 L1518.5,467 L1520.5,467 L1522.5,467 L1524.5,467 L1526.5,467 L1528.5,467 L1530.5,467 L1532.5,467 L1534.5,467 L1536.5,467 L1538.5,467 L1540.5,467 L1542.5,467 L1544.5,467 L1546.5,467 L1548.5,467 L1550.5,467 L1552.5,467 L1554.5,467 L1556.5,467 L1558.5,467 L1560.5,467 L1562.5,467 L1564.5,467 L1566.5,467 L1568.5,467 L1570.5,467 L1572.5,467 L1574.5,467 L1576.5,467 L1578.5,467 L1580.5,467 L1582.5,467 L1584.5,467 L1586.5,467 L1588.5,467 L1590.5,467 L1592.5,467 L1594.5,467 L1596.5,467 L1598.5,467 L1600.5,467 L1602.5,467 L1604.5,467 L1606.5,467 L1608.5,467 L1610.5,467 L1612.5,467 L1614.5,467 L1616.5,467 L1618.5,467 L1620.5,467 L1622.5,467 L1624.5,467 L1626.5,467 L1628.5,467 L1630.5,467 L1631,467" stroke="#008591"/>
<path d="M322.5,464.8 L324.5,464.7 L326.5,464.6 L328.5,464.5 L330.5,464.3 L332.5,464.2 L334.5,464.1 L336.5,463.9 L338.5,463.7 L340.5,463.6 L342.5,463.4 L344.5,463.2 L346.5,463 L348.5,462.8 L350.5,462.6 L352.5,462.4 L354.5,462.2 L356.5,462 L358.5,461.7 L360.5,461.5 L362.5,461.2 L364.5,461 L366.5,460.7 L368.5,460.4 L370.5,460.1 L372.5,459.8 L374.5,459.4 L376.5,459.1 L378.5,458.7 L380.5,458.4 L382.5,458 L384.5,457.6 L386.5,457.2 L388.5,456.8 L390.5,456.3 L392.5,455.9 L394.5,455.4 L396.5,454.9 L398.5,454.4 L400.5,453.9 L402.5,453.3 L404.5,452.8 L406.5,452.2 L408.5,451.6 L410.5,450.9 L412.5,450.3 L414.5,449.6 L416.5,448.9 L418.5,448.2 L420.5,447.5 L422.5,446.8 L424.5,446 L426.5,445.2 L428.5,444.4 L430.5,443.5 L432.5,442.6 L434.5,441.7 L436.5,440.8 L438.5,439.9 L440.5,438.9 L442.5,437.9 L444.5,436.8 L446.5,435.8 L448.5,434.7 L450.5,433.6 L452.5,432.4 L454.5,431.2 L456.5,430 L458.5,428.8 L460.5,427.5 L462.5,426.2 L464.5,424.9 L466.5,423.5 L468.5,422.1 L470.5,420.7 L472.5,419.2 L474.5,417.7 L476.5,416.2 L478.5,414.6 L480.5,413 L482.5,411.4 L484.5,409.8 L486.5,408.1 L488.5,406.3 L490.5,404.6 L492.5,402.8 L494.5,401 L496.5,399.1 L498.5,397.2 L500.5,395.3 L502.5,393.3 L504.5,391.3 L506.5,389.3 L508.5,387.2 L510.5,385.1 L512.5,383 L514.5,380.8 L516.5,378.7 L518.5,376.4 L520.5,374.2 L522.5,371.9 L524.5,369.6 L526.5,367.3 L528.5,364.9 L530.5,362.5 L532.5,360.1 L534.5,357.7 L536.5,355.2 L538.5,352.7 L540.5,350.2 L542.5,347.6 L544.5,345.1 L546.5,342.5 L548.5,339.9 L550.5,337.3 L552.5,334.6 L554.5,332 L556.5,329.3 L558.5,326.6 L560.5,323.9 L562.5,321.2 L564.5,318.5 L566.5,315.7 L568.5,313 L570.5,310.2 L572.5,307.5 L574.5,304.7 L576.5,302 L578.5,299.2 L580.5,296.4 L582.5,293.7 L584.5,290.9 L586.5,288.2 L588.5,285.4 L590.5,282.7 L592.5,280 L594.5,277.3 L596.5,274.6 L598.5,271.9 L600.5,269.2 L602.5,266.5 L604.5,263.9 L606.5,261.3 L608.5,258.7 L610.5,256.2 L612.5,253.6 L614.5,251.1 L616.5,248.6 L618.5,246.2 L620.5,243.8 L622.5,241.4 L624.5,239.1 L626.5,236.8 L628.5,234.5 L630.5,232.3 L632.5,230.1 L634.5,228 L636.5,225.9 L638.5,223.9 L640.5,221.9 L642.5,220 L644.5,218.1 L646.5,216.2 L648.5,214.5 L650.5,212.8 L652.5,211.1 L654.5,209.5 L656.5,208 L658.5,206.5 L660.5,205.1 L662.5,203.8 L664.5,202.5 L666.5,201.3 L668.5,200.1 L670.5,199 L672.5,198 L674.5,197.1 L676.5,196.2 L678.5,195.4 L680.5,194.7 L682.5,194 L684.5,193.5 L686.5,193 L688.5,192.5 L690.5,192.2 L692.5,191.9 L694.5,191.7 L696.5,191.6 L698.5,191.5 L700.5,191.5 L702.5,191.6 L704.5,191.8 L706.5,192 L708.5,192.3 L710.5,192.7 L712.5,193.2 L714.5,193.8 L716.5,194.4 L718.5,195.1 L720.5,195.8 L722.5,196.6 L724.5,197.6 L726.5,198.5 L728.5,199.6 L730.5,200.7 L732.5,201.9 L734.5,203.1 L736.5,204.4 L738.5,205.8 L740.5,207.2 L742.5,208.7 L744.5,210.3 L746.5,211.9 L748.5,213.6 L750.5,215.4 L752.5,217.2 L754.5,219 L756.5,220.9 L758.5,222.9 L760.5,224.9 L762.5,226.9 L764.5,229 L766.5,231.2 L768.5,233.4 L770.5,235.6 L772.5,237.9 L774.5,240.2 L776.5,242.6 L778.5,245 L780.5,247.4 L782.5,249.9 L784.5,252.4 L786.5,254.9 L788.5,257.4 L790.5,260 L792.5,262.6 L794.5,265.2 L796.5,267.9 L798.5,270.5 L800.5,273.2 L802.5,275.9 L804.5,278.6 L806.5,281.3 L808.5,284.1 L810.5,286.8 L812.5,289.6 L814.5,292.3 L816.5,295.1 L818.5,297.8 L820.5,300.6 L822.5,303.4 L824.5,306.1 L826.5,308.9 L828.5,311.6 L830.5,314.4 L832.5,317.1 L834.5,319.8 L836.5,322.6 L838.5,325.3 L840.5,328 L842.5,330.6 L844.5,333.3 L846.5,335.9 L848.5,338.6 L850.5,341.2 L852.5,343.8 L854.5,346.4 L856.5,348.9 L858.5,351.4 L860.5,353.9 L862.5,356.4 L864.5,358.9 L866.5,361.3 L868.5,363.7 L870.5,366.1 L872.5,368.4 L874.5,370.8 L876.5,373.1 L878.5,375.3 L880.5,377.6 L882.5,379.8 L884.5,381.9 L886.5,384.1 L888.5,386.2 L890.5,388.3 L892.5,390.3 L894.5,392.3 L896.5,394.3 L898.5,396.2 L900.5,398.1 L902.5,400 L904.5,401.9 L906.5,403.7 L908.5,405.5 L910.5,407.2 L912.5,408.9 L914.5,410.6 L916.5,412.2 L918.5,413.8 L920.5,415.4 L922.5,417 L924.5,418.5 L926.5,420 L928.5,421.4 L930.5,422.8 L932.5,424.2 L934.5,425.5 L936.5,426.9 L938.5,428.2 L940.5,429.4 L942.5,430.6 L944.5,431.8 L946.5,433 L948.5,434.1 L950.5,435.2 L952.5,436.3 L954.5,437.4 L956.5,438.4 L958.5,439.4 L960.5,440.3 L962.5,441.3 L964.5,442.2 L966.5,443.1 L968.5,443.9 L970.5,444.8 L972.5,445.6 L974.5,446.4 L976.5,447.1 L978.5,447.9 L980.5,448.6 L982.5,449.3 L984.5,450 L986.5,450.6 L988.5,451.3 L990.5,451.9 L992.5,452.5 L994.5,453 L996.5,453.6 L998.5,454.1 L1000.5,454.6 L1002.5,455.1 L1004.5,455.6 L1006.5,456.1 L1008.5,456.5 L1010.5,457 L1012.5,457.4 L1014.5,457.8 L1016.5,458.2 L1018.5,458.6 L1020.5,458.9 L1022.5,459.3 L1024.5,459.6 L1026.5,459.9 L1028.5,460.2 L1030.5,460.5 L1032.5,460.8 L1034.5,461.1 L1036.5,461.4 L1038.5,461.6 L1040.5,461.9 L1042.5,462.1 L1044.5,462.3 L1046.5,462.5 L1048.5,462.7 L1050.5,462.9 L1052.5,463.1 L1054.5,463.3 L1056.5,463.5 L1058.5,463.7 L1060.5,463.8 L1062.5,464 L1064.5,464.1 L1066.5,464.3 L1068.5,464.4 L1070.5,464.5 L1072.5,464.6 L1074.5,464.8 L1076.5,464.9 L1078.5,465 L1080.5,465.1 L1082.5,465.2 L1084.5,465.3 L1086.5,465.4 L1088.5,465.5 L1090.5,465.5 L1092.5,465.6 L1094.5,465.7 L1096.5,465.8 L1098.5,465.8 L1100.5,465.9 L1102.5,465.9 L1104.5,466 L1106.5,466.1 L1108.5,466.1 L1110.5,466.2 L1112.5,466.2 L1114.5,466.2 L1116.5,466.3 L1118.5,466.3 L1120.5,466.4 L1122.5,466.4 L1124.5,466.4 L1126.5,466.5 L1128.5,466.5 L1130.5,466.5 L1132.5,466.6 L1134.5,466.6 L1136.5,466.6 L1138.5,466.6 L1140.5,466.6 L1142.5,466.7 L1144.5,466.7 L1146.5,466.7 L1148.5,466.7 L1150.5,466.7 L1152.5,466.8 L1154.5,466.8 L1156.5,466.8 L1158.5,466.8 L1160.5,466.8 L1162.5,466.8 L1164.5,466.8 L1166.5,466.8 L1168.5,466.9 L1170.5,466.9 L1172.5,466.9 L1174.5,466.9 L1176.5,466.9 L1178.5,466.9 L1180.5,466.9 L1182.5,466.9 L1184.5,466.9 L1186.5,466.9 L1188.5,466.9 L1190.5,466.9 L1192.5,466.9 L1194.5,466.9 L1196.5,466.9 L1198.5,466.9 L1200.5,466.9 L1202.5,467 L1204.5,467 L1206.5,467 L1208.5,467 L1210.5,467 L1212.5,467 L1214.5,467 L1216.5,467 L1218.5,467 L1220.5,467 L1222.5,467 L1224.5,467 L1226.5,467 L1228.5,467 L1230.5,467 L1232.5,467 L1234.5,467 L1236.5,467 L1238.5,467 L1240.5,467 L1242.5,467 L1244.5,467 L1246.5,467 L1248.5,467 L1250.5,467 L1252.5,467 L1254.5,467 L1256.5,467 L1258.5,467 L1260.5,467 L1262.5,467 L1264.5,467 L1266.5,467 L1268.5,467 L1270.5,467 L1272.5,467 L1274.5,467 L1276.5,467 L1278.5,467 L1280.5,467 L1282.5,467 L1284.5,467 L1286.5,467 L1288.5,467 L1290.5,467 L1292.5,467 L1294.5,467 L1296.5,467 L1298.5,467 L1300.5,467 L1302.5,467 L1304.5,467 L1306.5,467 L1308.5,467 L1310.5,467 L1312.5,467 L1314.5,467 L1316.5,467 L1318.5,467 L1320.5,467 L1322.5,467 L1324.5,467 L1326.5,467 L1328.5,467 L1330.5,467 L1332.5,467 L1334.5,467 L1336.5,467 L1338.5,467 L1340.5,467 L1342.5,467 L1344.5,467 L1346.5,467 L1348.5,467 L1350.5,467 L1352.5,467 L1354.5,467 L1356.5,467 L1358.5,467 L1360.5,467 L1362.5,467 L1364.5,467 L1366.5,467 L1368.5,467 L1370.5,467 L1372.5,467 L1374.5,467 L1376.5,467 L1378.5,467 L1380.5,467 L1382.5,467 L1384.5,467 L1386.5,467 L1388.5,467 L1390.5,467 L1392.5,467 L1394.5,467 L1396.5,467 L1398.5,467 L1400.5,467 L1402.5,467 L1404.5,467 L1406.5,467 L1408.5,467 L1410.5,467 L1412.5,467 L1414.5,467 L1416.5,467 L1418.5,467 L1420.5,467 L1422.5,467 L1424.5,467 L1426.5,467 L1428.5,467 L1430.5,467 L1432.5,467 L1434.5,467 L1436.5,467 L1438.5,467 L1440.5,467 L1442.5,467 L1444.5,467 L1446.5,467 L1448.5,467 L1450.5,467 L1452.5,467 L1454.5,467 L1456.5,467 L1458.5,467 L1460.5,467 L1462.5,467 L1464.5,467 L1466.5,467 L1468.5,467 L1470.5,467 L1472.5,467 L1474.5,467 L1476.5,467 L1478.5,467 L1480.5,467 L1482.5,467 L1484.5,467 L1486.5,467 L1488.5,467 L1490.5,467 L1492.5,467 L1494.5,467 L1496.5,467 L1498.5,467 L1500.5,467 L1502.5,467 L1504.5,467 L1506.5,467 L1508.5,467 L1510.5,467 L1512.5,467 L1514.5,467 L1516.5,467 L1518.5,467 L1520.5,467 L1522.5,467 L1524.5,467 L1526.5,467 L1528.5,467 L1530.5,467 L1532.5,467 L1534.5,467 L1536.5,467 L1538.5,467 L1540.5,467 L1542.5,467 L1544.5,467 L1546.5,467 L1548.5,467 L1550.5,467 L1552.5,467 L1554.5,467 L1556.5,467 L1558.5,467 L1560.5,467 L1562.5,467 L1564.5,467 L1566.5,467 L1568.5,467 L1570.5,467 L1572.5,467 L1574.5,467 L1576.5,467 L1578.5,467 L1580.5,467 L1582.5,467 L1584.5,467 L1586.5,467 L1588.5,467 L1590.5,467 L1592.5,467 L1594.5,467 L1596.5,467 L1598.5,467 L1600.5,467 L1602.5,467 L1604.5,467 L1606.5,467 L1608.5,467 L1610.5,467 L1612.5,467 L1614.5,467 L1616.5,467 L1618.5,467 L1620.5,467 L1622.5,467 L1624.5,467 L1626.5,467 L1628.5,467 L1630.5,467 L1631,467" stroke="#FD8A76"/>
<path d="M322.5,466.7 L324.5,466.6 L326.5,466.6 L328.5,466.6 L330.5,466.6 L332.5,466.6 L334.5,466.6 L336.5,466.6 L338.5,466.6 L340.5,466.6 L342.5,466.5 L344.5,466.5 L346.5,466.5 L348.5,466.5 L350.5,466.5 L352.5,466.5 L354.5,466.5 L356.5,466.4 L358.5,466.4 L360.5,466.4 L362.5,466.4 L364.5,466.4 L366.5,466.4 L368.5,466.3 L370.5,466.3 L372.5,466.3 L374.5,466.3 L376.5,466.3 L378.5,466.2 L380.5,466.2 L382.5,466.2 L384.5,466.2 L386.5,466.2 L388.5,466.1 L390.5,466.1 L392.5,466.1 L394.5,466.1 L396.5,466 L398.5,466 L400.5,466 L402.5,466 L404.5,465.9 L406.5,465.9 L408.5,465.9 L410.5,465.9 L412.5,465.8 L414.5,465.8 L416.5,465.8 L418.5,465.7 L420.5,465.7 L422.5,465.7 L424.5,465.6 L426.5,465.6 L428.5,465.6 L430.5,465.5 L432.5,465.5 L434.5,465.4 L436.5,465.4 L438.5,465.4 L440.5,465.3 L442.5,465.3 L444.5,465.2 L446.5,465.2 L448.5,465.2 L450.5,465.1 L452.5,465.1 L454.5,465 L456.5,465 L458.5,464.9 L460.5,464.9 L462.5,464.8 L464.5,464.8 L466.5,464.7 L468.5,464.7 L470.5,464.6 L472.5,464.5 L474.5,464.5 L476.5,464.4 L478.5,464.4 L480.5,464.3 L482.5,464.2 L484.5,464.2 L486.5,464.1 L488.5,464.1 L490.5,464 L492.5,463.9 L494.5,463.8 L496.5,463.8 L498.5,463.7 L500.5,463.6 L502.5,463.5 L504.5,463.5 L506.5,463.4 L508.5,463.3 L510.5,463.2 L512.5,463.1 L514.5,463.1 L516.5,463 L518.5,462.9 L520.5,462.8 L522.5,462.7 L524.5,462.6 L526.5,462.5 L528.5,462.4 L530.5,462.3 L532.5,462.2 L534.5,462.1 L536.5,462 L538.5,461.9 L540.5,461.8 L542.5,461.7 L544.5,461.6 L546.5,461.4 L548.5,461.3 L550.5,461.2 L552.5,461.1 L554.5,461 L556.5,460.8 L558.5,460.7 L560.5,460.6 L562.5,460.5 L564.5,460.3 L566.5,460.2 L568.5,460.1 L570.5,459.9 L572.5,459.8 L574.5,459.6 L576.5,459.5 L578.5,459.3 L580.5,459.2 L582.5,459 L584.5,458.9 L586.5,458.7 L588.5,458.5 L590.5,458.4 L592.5,458.2 L594.5,458 L596.5,457.9 L598.5,457.7 L600.5,457.5 L602.5,457.3 L604.5,457.2 L606.5,457 L608.5,456.8 L610.5,456.6 L612.5,456.4 L614.5,456.2 L616.5,456 L618.5,455.8 L620.5,455.6 L622.5,455.4 L624.5,455.2 L626.5,455 L628.5,454.7 L630.5,454.5 L632.5,454.3 L634.5,454.1 L636.5,453.8 L638.5,453.6 L640.5,453.4 L642.5,453.1 L644.5,452.9 L646.5,452.6 L648.5,452.4 L650.5,452.1 L652.5,451.9 L654.5,451.6 L656.5,451.4 L658.5,451.1 L660.5,450.8 L662.5,450.6 L664.5,450.3 L666.5,450 L668.5,449.7 L670.5,449.4 L672.5,449.2 L674.5,448.9 L676.5,448.6 L678.5,448.3 L680.5,448 L682.5,447.7 L684.5,447.3 L686.5,447 L688.5,446.7 L690.5,446.4 L692.5,446.1 L694.5,445.7 L696.5,445.4 L698.5,445.1 L700.5,444.7 L702.5,444.4 L704.5,444.1 L706.5,443.7 L708.5,443.3 L710.5,443 L712.5,442.6 L714.5,442.3 L716.5,441.9 L718.5,441.5 L720.5,441.2 L722.5,440.8 L724.5,440.4 L726.5,440 L728.5,439.6 L730.5,439.2 L732.5,438.8 L734.5,438.4 L736.5,438 L738.5,437.6 L740.5,437.2 L742.5,436.8 L744.5,436.4 L746.5,435.9 L748.5,435.5 L750.5,435.1 L752.5,434.7 L754.5,434.2 L756.5,433.8 L758.5,433.3 L760.5,432.9 L762.5,432.4 L764.5,432 L766.5,431.5 L768.5,431.1 L770.5,430.6 L772.5,430.1 L774.5,429.7 L776.5,429.2 L778.5,428.7 L780.5,428.2 L782.5,427.7 L784.5,427.3 L786.5,426.8 L788.5,426.3 L790.5,425.8 L792.5,425.3 L794.5,424.8 L796.5,424.3 L798.5,423.8 L800.5,423.3 L802.5,422.7 L804.5,422.2 L806.5,421.7 L808.5,421.2 L810.5,420.6 L812.5,420.1 L814.5,419.6 L816.5,419.1 L818.5,418.5 L820.5,418 L822.5,417.4 L824.5,416.9 L826.5,416.3 L828.5,415.8 L830.5,415.2 L832.5,414.7 L834.5,414.1 L836.5,413.6 L838.5,413 L840.5,412.5 L842.5,411.9 L844.5,411.3 L846.5,410.8 L848.5,410.2 L850.5,409.6 L852.5,409.1 L854.5,408.5 L856.5,407.9 L858.5,407.3 L860.5,406.8 L862.5,406.2 L864.5,405.6 L866.5,405 L868.5,404.4 L870.5,403.9 L872.5,403.3 L874.5,402.7 L876.5,402.1 L878.5,401.5 L880.5,400.9 L882.5,400.3 L884.5,399.7 L886.5,399.2 L888.5,398.6 L890.5,398 L892.5,397.4 L894.5,396.8 L896.5,396.2 L898.5,395.6 L900.5,395 L902.5,394.5 L904.5,393.9 L906.5,393.3 L908.5,392.7 L910.5,392.1 L912.5,391.5 L914.5,390.9 L916.5,390.4 L918.5,389.8 L920.5,389.2 L922.5,388.6 L924.5,388 L926.5,387.5 L928.5,386.9 L930.5,386.3 L932.5,385.7 L934.5,385.2 L936.5,384.6 L938.5,384 L940.5,383.5 L942.5,382.9 L944.5,382.3 L946.5,381.8 L948.5,381.2 L950.5,380.7 L952.5,380.1 L954.5,379.6 L956.5,379 L958.5,378.5 L960.5,378 L962.5,377.4 L964.5,376.9 L966.5,376.4 L968.5,375.8 L970.5,375.3 L972.5,374.8 L974.5,374.3 L976.5,373.8 L978.5,373.3 L980.5,372.7 L982.5,372.2 L984.5,371.8 L986.5,371.3 L988.5,370.8 L990.5,370.3 L992.5,369.8 L994.5,369.3 L996.5,368.9 L998.5,368.4 L1000.5,367.9 L1002.5,367.5 L1004.5,367 L1006.5,366.6 L1008.5,366.2 L1010.5,365.7 L1012.5,365.3 L1014.5,364.9 L1016.5,364.5 L1018.5,364 L1020.5,363.6 L1022.5,363.2 L1024.5,362.8 L1026.5,362.5 L1028.5,362.1 L1030.5,361.7 L1032.5,361.3 L1034.5,361 L1036.5,360.6 L1038.5,360.3 L1040.5,359.9 L1042.5,359.6 L1044.5,359.2 L1046.5,358.9 L1048.5,358.6 L1050.5,358.3 L1052.5,358 L1054.5,357.7 L1056.5,357.4 L1058.5,357.1 L1060.5,356.8 L1062.5,356.6 L1064.5,356.3 L1066.5,356.1 L1068.5,355.8 L1070.5,355.6 L1072.5,355.3 L1074.5,355.1 L1076.5,354.9 L1078.5,354.7 L1080.5,354.5 L1082.5,354.3 L1084.5,354.1 L1086.5,353.9 L1088.5,353.7 L1090.5,353.6 L1092.5,353.4 L1094.5,353.3 L1096.5,353.1 L1098.5,353 L1100.5,352.9 L1102.5,352.8 L1104.5,352.7 L1106.5,352.6 L1108.5,352.5 L1110.5,352.4 L1112.5,352.3 L1114.5,352.2 L1116.5,352.2 L1118.5,352.1 L1120.5,352.1 L1122.5,352.1 L1124.5,352 L1126.5,352 L1128.5,352 L1130.5,352 L1132.5,352 L1134.5,352 L1136.5,352 L1138.5,352.1 L1140.5,352.1 L1142.5,352.2 L1144.5,352.2 L1146.5,352.3 L1148.5,352.4 L1150.5,352.5 L1152.5,352.5 L1154.5,352.7 L1156.5,352.8 L1158.5,352.9 L1160.5,353 L1162.5,353.1 L1164.5,353.3 L1166.5,353.4 L1168.5,353.6 L1170.5,353.8 L1172.5,353.9 L1174.5,354.1 L1176.5,354.3 L1178.5,354.5 L1180.5,354.7 L1182.5,355 L1184.5,355.2 L1186.5,355.4 L1188.5,355.7 L1190.5,355.9 L1192.5,356.2 L1194.5,356.4 L1196.5,356.7 L1198.5,357 L1200.5,357.3 L1202.5,357.6 L1204.5,357.9 L1206.5,358.2 L1208.5,358.5 L1210.5,358.8 L1212.5,359.2 L1214.5,359.5 L1216.5,359.9 L1218.5,360.2 L1220.5,360.6 L1222.5,360.9 L1224.5,361.3 L1226.5,361.7 L1228.5,362.1 L1230.5,362.5 L1232.5,362.9 L1234.5,363.3 L1236.5,363.7 L1238.5,364.1 L1240.5,364.5 L1242.5,365 L1244.5,365.4 L1246.5,365.8 L1248.5,366.3 L1250.5,366.7 L1252.5,367.2 L1254.5,367.7 L1256.5,368.1 L1258.5,368.6 L1260.5,369.1 L1262.5,369.6 L1264.5,370.1 L1266.5,370.6 L1268.5,371.1 L1270.5,371.6 L1272.5,372.1 L1274.5,372.6 L1276.5,373.1 L1278.5,373.6 L1280.5,374.2 L1282.5,374.7 L1284.5,375.2 L1286.5,375.8 L1288.5,376.3 L1290.5,376.9 L1292.5,377.4 L1294.5,378 L1296.5,378.5 L1298.5,379.1 L1300.5,379.6 L1302.5,380.2 L1304.5,380.8 L1306.5,381.3 L1308.5,381.9 L1310.5,382.5 L1312.5,383.1 L1314.5,383.6 L1316.5,384.2 L1318.5,384.8 L1320.5,385.4 L1322.5,386 L1324.5,386.6 L1326.5,387.2 L1328.5,387.8 L1330.5,388.4 L1332.5,389 L1334.5,389.5 L1336.5,390.1 L1338.5,390.7 L1340.5,391.3 L1342.5,392 L1344.5,392.6 L1346.5,393.2 L1348.5,393.8 L1350.5,394.4 L1352.5,395 L1354.5,395.6 L1356.5,396.2 L1358.5,396.8 L1360.5,397.4 L1362.5,398 L1364.5,398.6 L1366.5,399.2 L1368.5,399.8 L1370.5,400.4 L1372.5,401 L1374.5,401.6 L1376.5,402.2 L1378.5,402.8 L1380.5,403.4 L1382.5,404.1 L1384.5,404.7 L1386.5,405.3 L1388.5,405.8 L1390.5,406.4 L1392.5,407 L1394.5,407.6 L1396.5,408.2 L1398.5,408.8 L1400.5,409.4 L1402.5,410 L1404.5,410.6 L1406.5,411.2 L1408.5,411.8 L1410.5,412.3 L1412.5,412.9 L1414.5,413.5 L1416.5,414.1 L1418.5,414.6 L1420.5,415.2 L1422.5,415.8 L1424.5,416.3 L1426.5,416.9 L1428.5,417.5 L1430.5,418 L1432.5,418.6 L1434.5,419.1 L1436.5,419.7 L1438.5,420.2 L1440.5,420.8 L1442.5,421.3 L1444.5,421.8 L1446.5,422.4 L1448.5,422.9 L1450.5,423.4 L1452.5,424 L1454.5,424.5 L1456.5,425 L1458.5,425.5 L1460.5,426 L1462.5,426.6 L1464.5,427.1 L1466.5,427.6 L1468.5,428.1 L1470.5,428.6 L1472.5,429.1 L1474.5,429.5 L1476.5,430 L1478.5,430.5 L1480.5,431 L1482.5,431.5 L1484.5,431.9 L1486.5,432.4 L1488.5,432.9 L1490.5,433.3 L1492.5,433.8 L1494.5,434.2 L1496.5,434.7 L1498.5,435.1 L1500.5,435.6 L1502.5,436 L1504.5,436.5 L1506.5,436.9 L1508.5,437.3 L1510.5,437.7 L1512.5,438.2 L1514.5,438.6 L1516.5,439 L1518.5,439.4 L1520.5,439.8 L1522.5,440.2 L1524.5,440.6 L1526.5,441 L1528.5,441.4 L1530.5,441.7 L1532.5,442.1 L1534.5,442.5 L1536.5,442.9 L1538.5,443.2 L1540.5,443.6 L1542.5,444 L1544.5,444.3 L1546.5,444.7 L1548.5,445 L1550.5,445.4 L1552.5,445.7 L1554.5,446.1 L1556.5,446.4 L1558.5,446.7 L1560.5,447.1 L1562.5,447.4 L1564.5,447.7 L1566.5,448 L1568.5,448.3 L1570.5,448.6 L1572.5,448.9 L1574.5,449.2 L1576.5,449.5 L1578.5,449.8 L1580.5,450.1 L1582.5,450.4 L1584.5,450.7 L1586.5,451 L1588.5,451.2 L1590.5,451.5 L1592.5,451.8 L1594.5,452 L1596.5,452.3 L1598.5,452.6 L1600.5,452.8 L1602.5,453.1 L1604.5,453.3 L1606.5,453.6 L1608.5,453.8 L1610.5,454 L1612.5,454.3 L1614.5,454.5 L1616.5,454.7 L1618.5,454.9 L1620.5,455.2 L1622.5,455.4 L1624.5,455.6 L1626.5,455.8 L1628.5,456 L1630.5,456.2 L1631,456.3" stroke="#50A8D5"/>
<path d="M322.5,463.4 L324.5,463.1 L326.5,462.9 L328.5,462.6 L330.5,462.3 L332.5,462 L334.5,461.7 L336.5,461.3 L338.5,460.9 L340.5,460.5 L342.5,460.1 L344.5,459.7 L346.5,459.2 L348.5,458.7 L350.5,458.1 L352.5,457.5 L354.5,456.9 L356.5,456.3 L358.5,455.6 L360.5,454.8 L362.5,454 L364.5,453.2 L366.5,452.3 L368.5,451.4 L370.5,450.4 L372.5,449.4 L374.5,448.3 L376.5,447.1 L378.5,445.9 L380.5,444.6 L382.5,443.3 L384.5,441.8 L386.5,440.3 L388.5,438.7 L390.5,437.1 L392.5,435.3 L394.5,433.5 L396.5,431.6 L398.5,429.6 L400.5,427.5 L402.5,425.3 L404.5,423 L406.5,420.6 L408.5,418.1 L410.5,415.5 L412.5,412.8 L414.5,410 L416.5,407.1 L418.5,404.1 L420.5,400.9 L422.5,397.7 L424.5,394.3 L426.5,390.8 L428.5,387.2 L430.5,383.5 L432.5,379.7 L434.5,375.8 L436.5,371.8 L438.5,367.6 L440.5,363.3 L442.5,359 L444.5,354.5 L446.5,349.9 L448.5,345.3 L450.5,340.5 L452.5,335.6 L454.5,330.7 L456.5,325.6 L458.5,320.5 L460.5,315.3 L462.5,310 L464.5,304.7 L466.5,299.3 L468.5,293.9 L470.5,288.4 L472.5,282.8 L474.5,277.3 L476.5,271.7 L478.5,266.1 L480.5,260.4 L482.5,254.8 L484.5,249.2 L486.5,243.6 L488.5,238 L490.5,232.4 L492.5,226.9 L494.5,221.4 L496.5,216 L498.5,210.6 L500.5,205.3 L502.5,200.1 L504.5,195 L506.5,189.9 L508.5,185 L510.5,180.1 L512.5,175.4 L514.5,170.8 L516.5,166.4 L518.5,162 L520.5,157.8 L522.5,153.8 L524.5,149.9 L526.5,146.3 L528.5,142.7 L530.5,139.4 L532.5,136.3 L534.5,133.3 L536.5,130.5 L538.5,127.9 L540.5,125.4 L542.5,123.2 L544.5,121.1 L546.5,119.1 L548.5,117.4 L550.5,115.8 L552.5,114.4 L554.5,113.1 L556.5,112.1 L558.5,111.2 L560.5,110.5 L562.5,109.9 L564.5,109.4 L566.5,109.1 L568.5,109 L570.5,108.9 L572.5,108.9 L574.5,109.1 L576.5,109.3 L578.5,109.6 L580.5,110 L582.5,110.6 L584.5,111.2 L586.5,111.9 L588.5,112.7 L590.5,113.6 L592.5,114.5 L594.5,115.5 L596.5,116.5 L598.5,117.6 L600.5,118.8 L602.5,119.9 L604.5,121.1 L606.5,122.3 L608.5,123.6 L610.5,124.8 L612.5,126.1 L614.5,127.3 L616.5,128.6 L618.5,129.9 L620.5,131.1 L622.5,132.3 L624.5,133.5 L626.5,134.7 L628.5,135.9 L630.5,137 L632.5,138.1 L634.5,139.2 L636.5,140.2 L638.5,141.2 L640.5,142.2 L642.5,143.2 L644.5,144.1 L646.5,145 L648.5,145.8 L650.5,146.6 L652.5,147.4 L654.5,148.1 L656.5,148.8 L658.5,149.5 L660.5,150.2 L662.5,150.8 L664.5,151.4 L666.5,152 L668.5,152.5 L670.5,153.1 L672.5,153.6 L674.5,154.1 L676.5,154.6 L678.5,155.1 L680.5,155.6 L682.5,156.1 L684.5,156.5 L686.5,157 L688.5,157.5 L690.5,158 L692.5,158.5 L694.5,159 L696.5,159.5 L698.5,160 L700.5,160.6 L702.5,161.2 L704.5,161.8 L706.5,162.4 L708.5,163 L710.5,163.7 L712.5,164.4 L714.5,165.2 L716.5,165.9 L718.5,166.7 L720.5,167.6 L722.5,168.5 L724.5,169.4 L726.5,170.3 L728.5,171.3 L730.5,172.4 L732.5,173.4 L734.5,174.6 L736.5,175.7 L738.5,176.9 L740.5,178.2 L742.5,179.5 L744.5,180.8 L746.5,182.2 L748.5,183.6 L750.5,185 L752.5,186.5 L754.5,188.1 L756.5,189.6 L758.5,191.2 L760.5,192.9 L762.5,194.6 L764.5,196.3 L766.5,198.1 L768.5,199.9 L770.5,201.7 L772.5,203.6 L774.5,205.5 L776.5,207.4 L778.5,209.4 L780.5,211.3 L782.5,213.3 L784.5,215.4 L786.5,217.4 L788.5,219.5 L790.5,221.6 L792.5,223.7 L794.5,225.9 L796.5,228 L798.5,230.2 L800.5,232.4 L802.5,234.6 L804.5,236.8 L806.5,239 L808.5,241.2 L810.5,243.4 L812.5,245.6 L814.5,247.9 L816.5,250.1 L818.5,252.3 L820.5,254.5 L822.5,256.8 L824.5,259 L826.5,261.2 L828.5,263.4 L830.5,265.6 L832.5,267.8 L834.5,270 L836.5,272.1 L838.5,274.3 L840.5,276.4 L842.5,278.5 L844.5,280.6 L846.5,282.7 L848.5,284.8 L850.5,286.8 L852.5,288.8 L854.5,290.8 L856.5,292.8 L858.5,294.7 L860.5,296.7 L862.5,298.6 L864.5,300.4 L866.5,302.3 L868.5,304.1 L870.5,305.8 L872.5,307.6 L874.5,309.3 L876.5,311 L878.5,312.6 L880.5,314.2 L882.5,315.8 L884.5,317.4 L886.5,318.9 L888.5,320.4 L890.5,321.8 L892.5,323.2 L894.5,324.6 L896.5,326 L898.5,327.3 L900.5,328.6 L902.5,329.8 L904.5,331.1 L906.5,332.2 L908.5,333.4 L910.5,334.5 L912.5,335.6 L914.5,336.6 L916.5,337.7 L918.5,338.6 L920.5,339.6 L922.5,340.5 L924.5,341.4 L926.5,342.2 L928.5,343 L930.5,343.8 L932.5,344.5 L934.5,345.2 L936.5,345.9 L938.5,346.5 L940.5,347.2 L942.5,347.7 L944.5,348.3 L946.5,348.8 L948.5,349.3 L950.5,349.7 L952.5,350.2 L954.5,350.6 L956.5,351 L958.5,351.3 L960.5,351.7 L962.5,352 L964.5,352.3 L966.5,352.6 L968.5,352.9 L970.5,353.2 L972.5,353.4 L974.5,353.7 L976.5,353.9 L978.5,354.1 L980.5,354.3 L982.5,354.5 L984.5,354.7 L986.5,354.9 L988.5,355 L990.5,355.2 L992.5,355.3 L994.5,355.4 L996.5,355.5 L998.5,355.5 L1000.5,355.6 L1002.5,355.6 L1004.5,355.7 L1006.5,355.7 L1008.5,355.7 L1010.5,355.7 L1012.5,355.7 L1014.5,355.7 L1016.5,355.6 L1018.5,355.6 L1020.5,355.6 L1022.5,355.5 L1024.5,355.5 L1026.5,355.4 L1028.5,355.3 L1030.5,355.2 L1032.5,355.2 L1034.5,355.1 L1036.5,355 L1038.5,354.9 L1040.5,354.8 L1042.5,354.7 L1044.5,354.6 L1046.5,354.5 L1048.5,354.4 L1050.5,354.2 L1052.5,354.1 L1054.5,354 L1056.5,353.9 L1058.5,353.8 L1060.5,353.7 L1062.5,353.5 L1064.5,353.4 L1066.5,353.3 L1068.5,353.2 L1070.5,353.1 L1072.5,353 L1074.5,352.9 L1076.5,352.8 L1078.5,352.7 L1080.5,352.6 L1082.5,352.5 L1084.5,352.4 L1086.5,352.3 L1088.5,352.2 L1090.5,352.1 L1092.5,352 L1094.5,352 L1096.5,351.9 L1098.5,351.8 L1100.5,351.8 L1102.5,351.7 L1104.5,351.7 L1106.5,351.6 L1108.5,351.6 L1110.5,351.5 L1112.5,351.5 L1114.5,351.5 L1116.5,351.5 L1118.5,351.5 L1120.5,351.5 L1122.5,351.5 L1124.5,351.5 L1126.5,351.5 L1128.5,351.5 L1130.5,351.5 L1132.5,351.6 L1134.5,351.6 L1136.5,351.6 L1138.5,351.7 L1140.5,351.8 L1142.5,351.8 L1144.5,351.9 L1146.5,352 L1148.5,352.1 L1150.5,352.2 L1152.5,352.3 L1154.5,352.4 L1156.5,352.5 L1158.5,352.7 L1160.5,352.8 L1162.5,353 L1164.5,353.1 L1166.5,353.3 L1168.5,353.5 L1170.5,353.6 L1172.5,353.8 L1174.5,354 L1176.5,354.2 L1178.5,354.4 L1180.5,354.6 L1182.5,354.9 L1184.5,355.1 L1186.5,355.3 L1188.5,355.6 L1190.5,355.8 L1192.5,356.1 L1194.5,356.4 L1196.5,356.6 L1198.5,356.9 L1200.5,357.2 L1202.5,357.5 L1204.5,357.8 L1206.5,358.1 L1208.5,358.5 L1210.5,358.8 L1212.5,359.1 L1214.5,359.5 L1216.5,359.8 L1218.5,360.2 L1220.5,360.5 L1222.5,360.9 L1224.5,361.3 L1226.5,361.7 L1228.5,362.1 L1230.5,362.5 L1232.5,362.9 L1234.5,363.3 L1236.5,363.7 L1238.5,364.1 L1240.5,364.5 L1242.5,365 L1244.5,365.4 L1246.5,365.8 L1248.5,366.3 L1250.5,366.7 L1252.5,367.2 L1254.5,367.7 L1256.5,368.1 L1258.5,368.6 L1260.5,369.1 L1262.5,369.6 L1264.5,370.1 L1266.5,370.6 L1268.5,371.1 L1270.5,371.6 L1272.5,372.1 L1274.5,372.6 L1276.5,373.1 L1278.5,373.6 L1280.5,374.2 L1282.5,374.7 L1284.5,375.2 L1286.5,375.8 L1288.5,376.3 L1290.5,376.9 L1292.5,377.4 L1294.5,378 L1296.5,378.5 L1298.5,379.1 L1300.5,379.6 L1302.5,380.2 L1304.5,380.8 L1306.5,381.3 L1308.5,381.9 L1310.5,382.5 L1312.5,383.1 L1314.5,383.6 L1316.5,384.2 L1318.5,384.8 L1320.5,385.4 L1322.5,386 L1324.5,386.6 L1326.5,387.2 L1328.5,387.8 L1330.5,388.4 L1332.5,388.9 L1334.5,389.5 L1336.5,390.1 L1338.5,390.7 L1340.5,391.3 L1342.5,392 L1344.5,392.6 L1346.5,393.2 L1348.5,393.8 L1350.5,394.4 L1352.5,395 L1354.5,395.6 L1356.5,396.2 L1358.5,396.8 L1360.5,397.4 L1362.5,398 L1364.5,398.6 L1366.5,399.2 L1368.5,399.8 L1370.5,400.4 L1372.5,401 L1374.5,401.6 L1376.5,402.2 L1378.5,402.8 L1380.5,403.4 L1382.5,404.1 L1384.5,404.7 L1386.5,405.3 L1388.5,405.8 L1390.5,406.4 L1392.5,407 L1394.5,407.6 L1396.5,408.2 L1398.5,408.8 L1400.5,409.4 L1402.5,410 L1404.5,410.6 L1406.5,411.2 L1408.5,411.8 L1410.5,412.3 L1412.5,412.9 L1414.5,413.5 L1416.5,414.1 L1418.5,414.6 L1420.5,415.2 L1422.5,415.8 L1424.5,416.3 L1426.5,416.9 L1428.5,417.5 L1430.5,418 L1432.5,418.6 L1434.5,419.1 L1436.5,419.7 L1438.5,420.2 L1440.5,420.8 L1442.5,421.3 L1444.5,421.8 L1446.5,422.4 L1448.5,422.9 L1450.5,423.4 L1452.5,424 L1454.5,424.5 L1456.5,425 L1458.5,425.5 L1460.5,426 L1462.5,426.6 L1464.5,427.1 L1466.5,427.6 L1468.5,428.1 L1470.5,428.6 L1472.5,429.1 L1474.5,429.5 L1476.5,430 L1478.5,430.5 L1480.5,431 L1482.5,431.5 L1484.5,431.9 L1486.5,432.4 L1488.5,432.9 L1490.5,433.3 L1492.5,433.8 L1494.5,434.2 L1496.5,434.7 L1498.5,435.1 L1500.5,435.6 L1502.5,436 L1504.5,436.5 L1506.5,436.9 L1508.5,437.3 L1510.5,437.7 L1512.5,438.2 L1514.5,438.6 L1516.5,439 L1518.5,439.4 L1520.5,439.8 L1522.5,440.2 L1524.5,440.6 L1526.5,441 L1528.5,441.4 L1530.5,441.7 L1532.5,442.1 L1534.5,442.5 L1536.5,442.9 L1538.5,443.2 L1540.5,443.6 L1542.5,444 L1544.5,444.3 L1546.5,444.7 L1548.5,445 L1550.5,445.4 L1552.5,445.7 L1554.5,446.1 L1556.5,446.4 L1558.5,446.7 L1560.5,447.1 L1562.5,447.4 L1564.5,447.7 L1566.5,448 L1568.5,448.3 L1570.5,448.6 L1572.5,448.9 L1574.5,449.2 L1576.5,449.5 L1578.5,449.8 L1580.5,450.1 L1582.5,450.4 L1584.5,450.7 L1586.5,451 L1588.5,451.2 L1590.5,451.5 L1592.5,451.8 L1594.5,452 L1596.5,452.3 L1598.5,452.6 L1600.5,452.8 L1602.5,453.1 L1604.5,453.3 L1606.5,453.6 L1608.5,453.8 L1610.5,454 L1612.5,454.3 L1614.5,454.5 L1616.5,454.7 L1618.5,454.9 L1620.5,455.2 L1622.5,455.4 L1624.5,455.6 L1626.5,455.8 L1628.5,456 L1630.5,456.2 L1631,456.3" stroke="#69F9CE"/>
</g>
<line x1="503.4" y1="268.2" x2="420.2" y2="145.8" stroke="#000" stroke-width="5"/><polygon points="399.4,115.2 430.7,143.5 414.2,154.7" fill="#000"/>
<line x1="767.7" y1="227.7" x2="821.8" y2="185.2" stroke="#000" stroke-width="5"/><polygon points="850.9,162.4 824.8,195.6 812.5,179.8" fill="#000"/>
<line x1="1220.4" y1="349.3" x2="1283.5" y2="260.4" stroke="#000" stroke-width="5"/><polygon points="1304.9,230.2 1289.3,269.4 1273,257.9" fill="#000"/>
<text font-family="'Liberation Serif', 'Times New Roman', serif" font-weight="bold" font-size="58.5" text-anchor="end" transform="translate(167,1150) scale(1,1.04)" >0</text>
<text font-family="'Liberation Serif', 'Times New Roman', serif" font-weight="bold" font-size="58.5" text-anchor="end" transform="translate(167,947) scale(1,1.04)" >5</text>
<text font-family="'Liberation Serif', 'Times New Roman', serif" font-weight="bold" font-size="58.5" text-anchor="end" transform="translate(167,744) scale(1,1.04)" >10</text>
<text font-family="'Liberation Serif', 'Times New Roman', serif" font-weight="bold" font-size="58.5" text-anchor="end" transform="translate(167,541) scale(1,1.04)" >15</text>
<text font-family="'Liberation Serif', 'Times New Roman', serif" font-weight="bold" font-size="58.5" text-anchor="end" transform="translate(167,338) scale(1,1.04)" >20</text>
<text font-family="'Liberation Serif', 'Times New Roman', serif" font-weight="bold" font-size="58.5" text-anchor="end" transform="translate(167,135) scale(1,1.04)" >25</text>
<text font-family="'Liberation Serif', 'Times New Roman', serif" font-weight="bold" font-size="58.5" text-anchor="middle" transform="translate(207,1305) scale(1,1.04)" >0</text>
<text font-family="'Liberation Serif', 'Times New Roman', serif" font-weight="bold" font-size="58.5" text-anchor="middle" transform="translate(443,1305) scale(1,1.04)" >100</text>
<text font-family="'Liberation Serif', 'Times New Roman', serif" font-weight="bold" font-size="58.5" text-anchor="middle" transform="translate(679,1305) scale(1,1.04)" >200</text>
<text font-family="'Liberation Serif', 'Times New Roman', serif" font-weight="bold" font-size="58.5" text-anchor="middle" transform="translate(915,1305) scale(1,1.04)" >300</text>
<text font-family="'Liberation Serif', 'Times New Roman', serif" font-weight="bold" font-size="58.5" text-anchor="middle" transform="translate(1151,1305) scale(1,1.04)" >400</text>
<text font-family="'Liberation Serif', 'Times New Roman', serif" font-weight="bold" font-size="58.5" text-anchor="middle" transform="translate(1387,1305) scale(1,1.04)" >500</text>
<text font-family="'Liberation Serif', 'Times New Roman', serif" font-weight="bold" font-size="58.5" text-anchor="middle" transform="translate(1623,1305) scale(1,1.04)" >600</text>
<text font-family="'Liberation Serif', 'Times New Roman', serif" font-weight="bold" font-size="58.5" text-anchor="middle" transform="translate(1859,1305) scale(1,1.04)" >700</text>
<text font-family="'Liberation Serif', 'Times New Roman', serif" font-weight="bold" font-size="63" text-anchor="middle" x="1033.5" y="1406.5" >Temperature(°C)</text>
<text font-family="'Liberation Serif', 'Times New Roman', serif" font-weight="bold" font-size="60" text-anchor="middle" transform="translate(59,629) rotate(-90) scale(1.078,1)">Offset Y values</text>
<text font-family="'Liberation Serif', 'Times New Roman', serif" font-weight="bold" font-size="45.6" text-anchor="start" transform="translate(241,100.6) scale(1,1.047)" >Weak acid sites</text>
<text font-family="'Liberation Serif', 'Times New Roman', serif" font-weight="bold" font-size="45.6" text-anchor="start" transform="translate(756.5,147) scale(1,1.047)" >Medium acid sites</text>
<text font-family="'Liberation Serif', 'Times New Roman', serif" font-weight="bold" font-size="45.6" text-anchor="start" transform="translate(1192.5,214) scale(1,1.047)" >Strong acid sites</text>
<text font-family="'Liberation Serif', 'Times New Roman', serif" font-weight="bold" font-size="45.6" text-anchor="start" transform="translate(1507,390.5) scale(1,1.047)" >Fe-Mg-ZSM-5</text>
<text font-family="'Liberation Serif', 'Times New Roman', serif" font-weight="bold" font-size="45.6" text-anchor="start" transform="translate(1585,707.8) scale(1,1.047)" >Fe-ZSM-5</text>
<text font-family="'Liberation Serif', 'Times New Roman', serif" font-weight="bold" font-size="45.6" text-anchor="start" transform="translate(1653,1109.5) scale(1,1.047)" >ZSM-5</text>
</svg></body></html>
